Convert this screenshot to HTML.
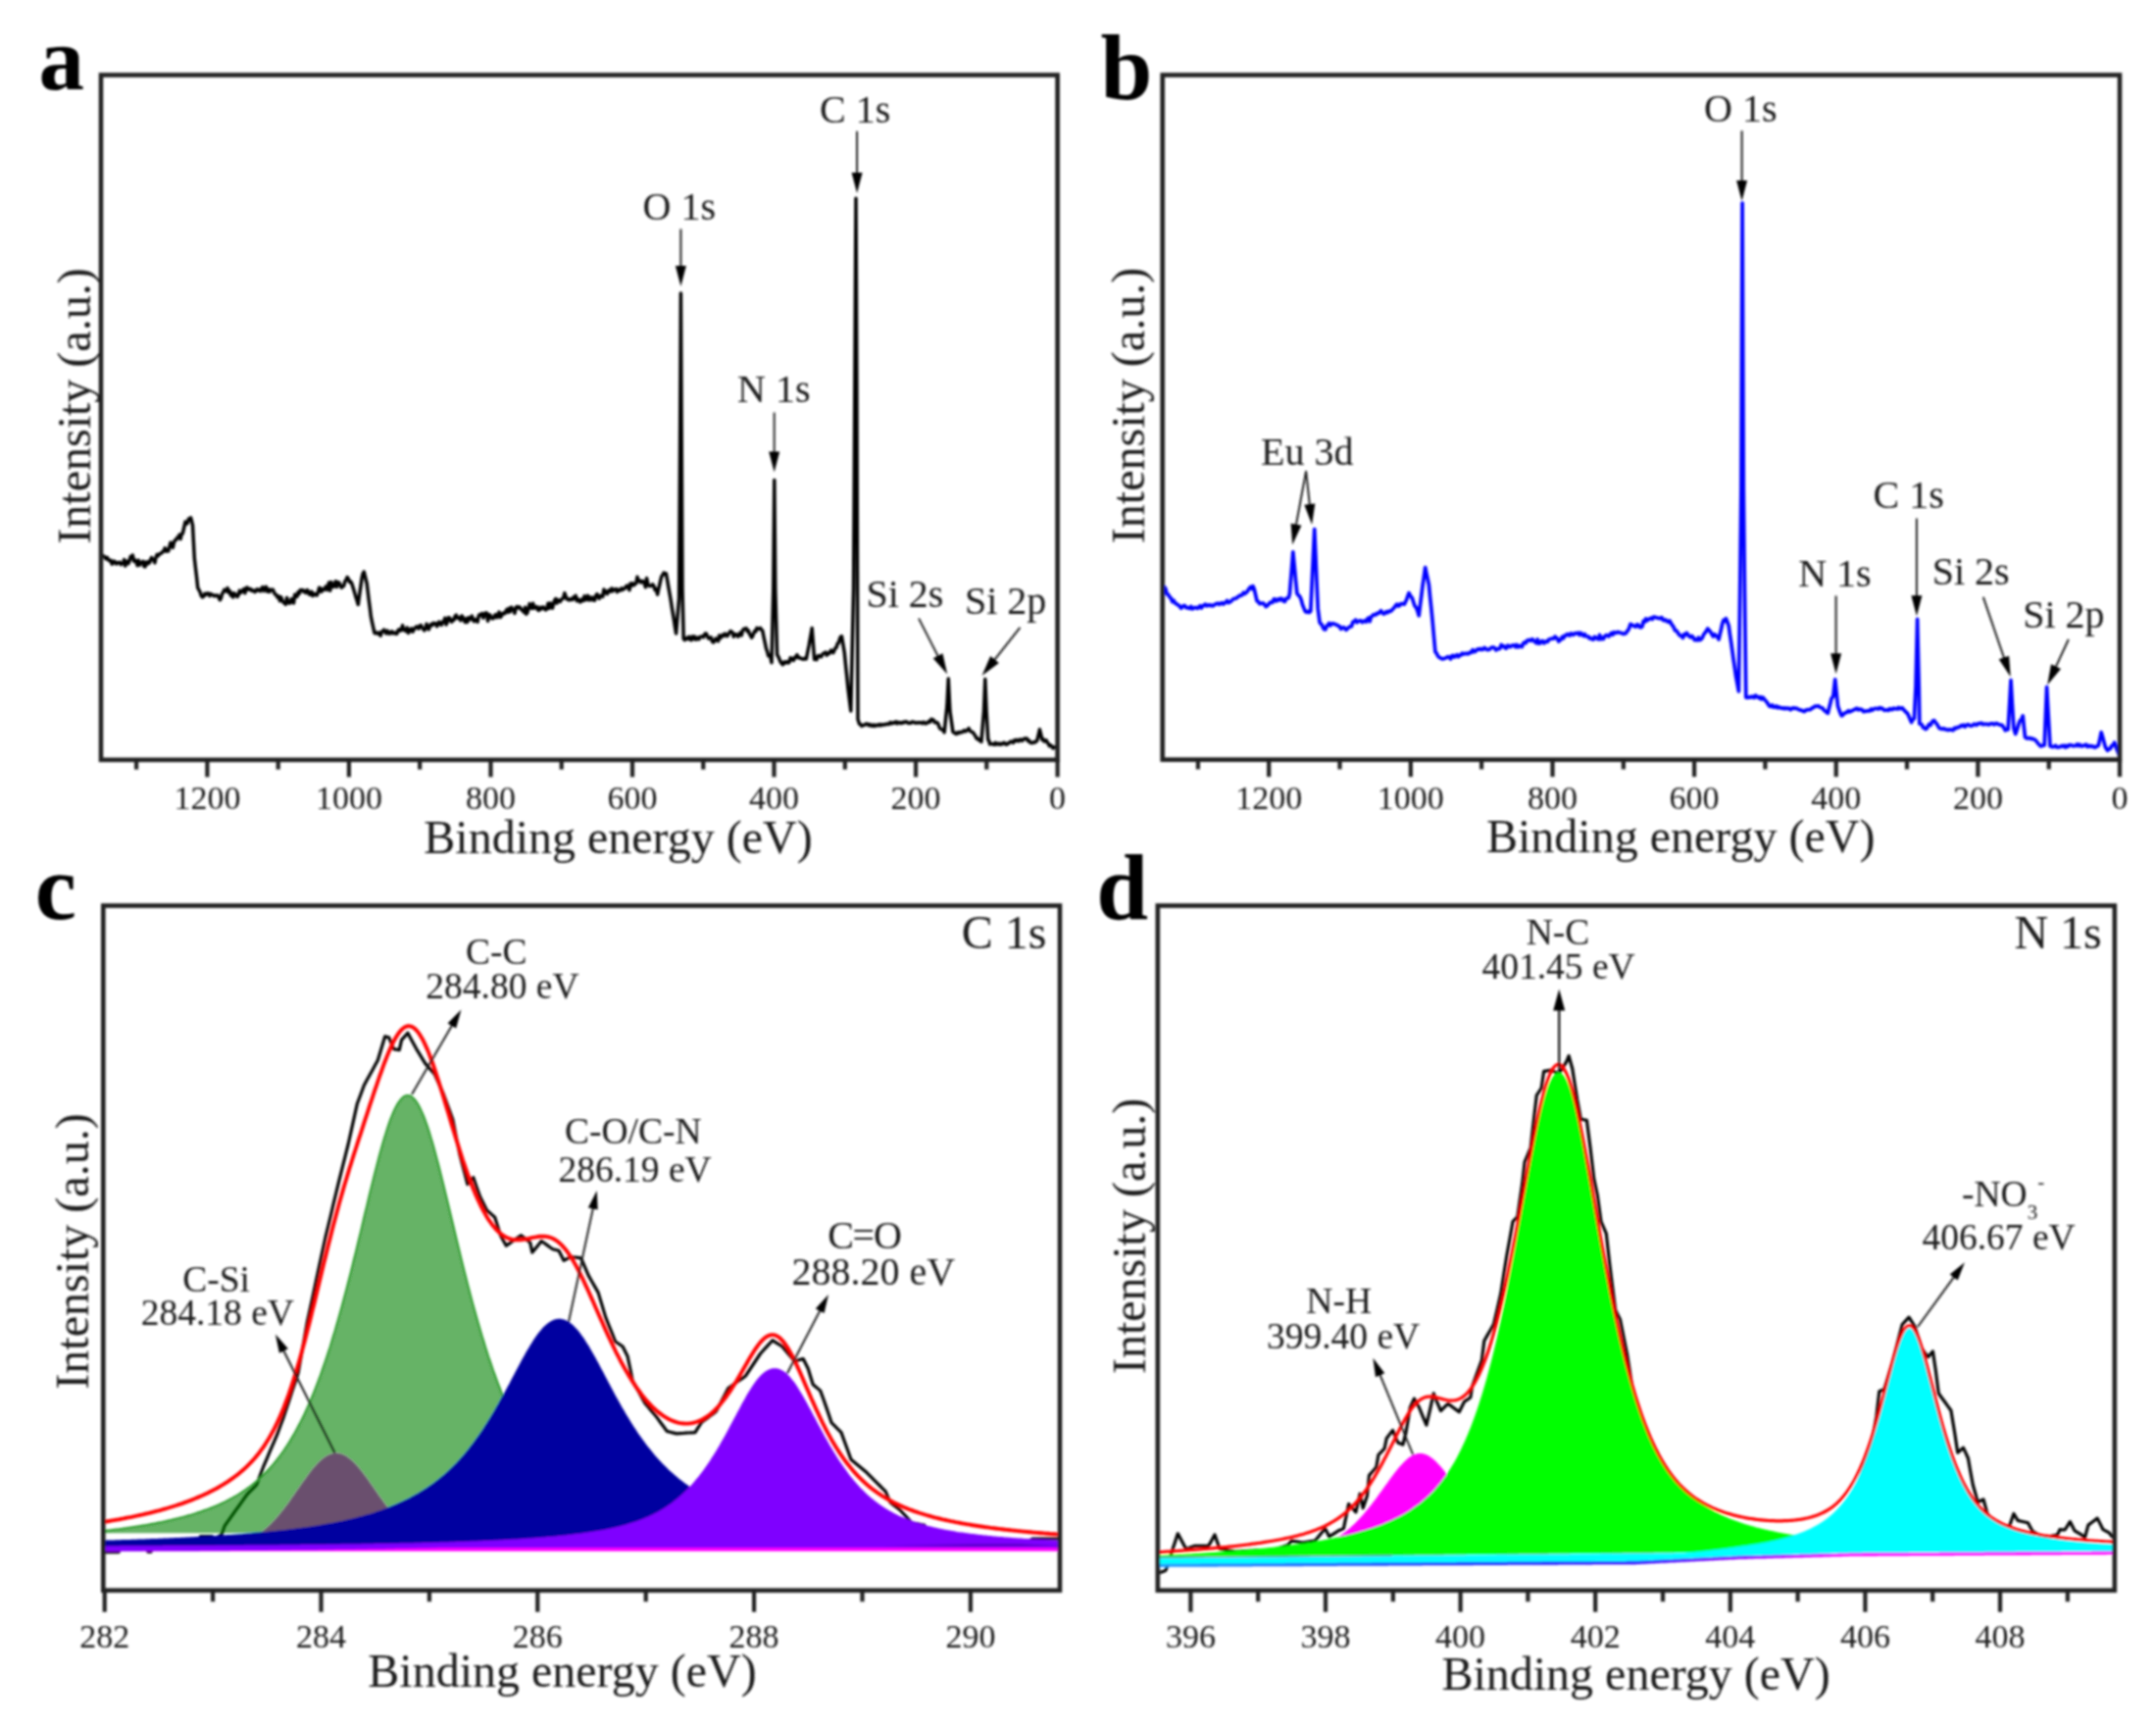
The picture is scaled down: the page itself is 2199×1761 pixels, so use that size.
<!DOCTYPE html><html><head><meta charset="utf-8"><title>XPS spectra</title><style>html,body{margin:0;padding:0;background:#fff}svg{display:block}</style></head><body><svg width="2199" height="1761" viewBox="0 0 2199 1761">
<rect width="2199" height="1761" fill="#fff"/>
<g filter="url(#soft)">
<polyline points="104.0,567.4 105.6,566.8 106.8,568.2 108.1,569.9 109.3,568.3 110.5,570.9 111.8,571.9 113.0,571.3 114.2,575.2 115.3,574.5 116.5,572.2 117.7,573.3 118.8,575.0 120.0,573.6 121.1,573.9 122.3,573.4 123.4,575.6 124.5,574.5 125.6,574.6 126.7,570.6 127.7,577.1 128.8,573.7 129.9,572.4 131.0,574.7 132.1,571.7 133.2,567.5 134.2,568.4 135.3,566.1 136.5,572.2 137.8,571.1 139.0,573.4 140.2,576.6 141.3,571.3 142.4,576.2 143.6,573.8 144.7,573.8 145.8,572.3 146.9,577.6 148.0,577.9 149.1,573.1 150.2,575.2 151.3,572.8 152.4,574.0 153.5,570.9 154.6,568.5 155.7,570.3 156.8,571.3 157.9,573.9 159.0,568.5 160.1,565.5 161.2,566.9 162.4,565.2 163.5,564.4 164.7,564.1 165.8,562.7 167.0,561.8 168.2,558.8 169.3,562.3 170.5,560.6 171.7,562.0 172.8,557.6 174.0,553.2 175.2,555.8 176.3,558.5 177.5,552.9 178.6,550.7 179.8,550.4 180.9,548.0 182.0,548.3 183.1,545.2 184.1,549.6 185.2,544.6 186.3,544.0 187.7,538.0 189.0,532.1 190.1,534.2 191.2,533.5 192.4,529.1 193.5,529.4 194.6,527.9 195.6,531.8 196.5,535.7 197.4,552.4 198.3,569.0 199.4,578.9 200.6,588.8 201.7,599.3 202.8,601.4 204.0,603.5 205.2,607.4 206.4,608.9 207.6,608.3 208.8,605.4 210.1,606.4 211.3,604.9 212.5,604.9 213.8,607.6 215.0,605.6 216.2,606.4 217.3,606.9 218.5,607.8 219.7,607.1 220.8,607.6 222.0,607.1 223.1,609.1 224.3,611.8 225.4,610.0 226.5,605.8 227.7,603.9 228.8,601.4 229.9,601.8 231.0,602.9 232.1,599.6 233.2,604.2 234.3,602.5 235.4,607.2 236.6,605.1 237.7,609.0 238.8,604.9 239.9,605.8 241.0,607.3 242.1,608.5 243.2,606.7 244.3,602.2 245.4,604.5 246.6,603.4 247.7,601.7 248.8,600.5 249.9,604.8 251.0,599.6 252.1,599.0 253.2,601.3 254.3,600.5 255.5,600.4 256.6,602.4 257.7,602.1 258.8,602.1 259.9,603.6 261.1,602.5 262.2,600.8 263.3,602.1 264.5,601.3 265.6,602.8 266.8,600.1 267.9,598.6 269.1,602.6 270.2,599.6 271.4,598.3 272.6,603.2 273.7,600.9 274.9,603.4 276.0,601.3 277.2,601.5 278.4,601.3 279.6,604.3 280.8,606.2 281.9,606.6 283.1,609.2 284.3,608.0 285.5,612.7 286.7,608.9 287.9,612.3 289.0,614.2 290.2,615.0 291.4,616.3 292.6,609.4 293.8,614.3 295.0,615.2 296.1,614.8 297.3,610.7 298.5,613.0 299.6,614.9 300.7,606.2 301.9,608.7 303.0,608.3 304.1,603.7 305.3,605.3 306.4,601.6 307.6,601.9 308.8,601.6 309.9,603.5 311.1,602.7 312.2,604.6 313.4,601.6 314.5,603.0 315.6,606.3 316.7,606.3 317.8,603.3 318.9,607.6 320.0,605.4 321.1,606.5 322.2,605.7 323.3,607.0 324.4,604.0 325.6,599.3 326.7,599.6 327.8,603.4 328.9,600.7 330.0,601.6 331.1,600.7 332.2,598.1 333.4,601.5 334.5,597.1 335.6,594.0 336.7,602.2 337.8,593.4 339.0,598.3 340.1,598.4 341.2,596.1 342.4,592.7 343.6,598.6 344.8,593.7 345.9,594.2 347.1,596.5 348.3,599.2 349.5,598.1 350.7,597.4 351.9,592.7 353.0,591.2 354.2,588.5 355.4,590.2 356.5,593.5 357.6,593.0 358.8,595.0 359.9,598.6 361.0,602.1 362.1,605.7 363.1,609.3 364.2,612.8 365.3,616.4 366.5,607.4 367.8,598.5 369.0,589.9 370.1,585.0 371.2,583.0 372.2,587.0 373.2,591.0 374.2,595.0 375.2,603.4 376.2,611.7 377.3,620.0 378.3,628.4 379.5,634.3 380.8,640.1 382.0,645.5 383.2,645.8 384.5,645.0 385.7,646.3 386.9,645.2 388.2,648.2 389.4,644.0 390.5,643.8 391.6,642.2 392.8,644.5 393.9,646.0 395.0,643.1 396.1,644.6 397.2,646.3 398.4,644.7 399.5,643.9 400.6,645.9 401.7,644.9 402.8,645.2 403.9,646.4 405.0,646.0 406.1,642.5 407.3,641.8 408.4,643.1 409.5,641.9 410.6,637.8 411.7,642.5 412.9,641.8 414.0,643.6 415.2,640.0 416.4,645.5 417.5,641.9 418.7,643.3 419.8,640.9 421.0,644.1 422.2,641.9 423.5,640.1 424.7,639.0 425.8,639.0 427.0,641.1 428.1,638.3 429.3,637.5 430.4,639.7 431.6,641.3 432.8,642.9 433.9,641.2 435.1,636.2 436.2,640.1 437.4,641.8 438.5,638.3 439.7,636.5 440.9,637.6 442.0,635.3 443.2,636.3 444.4,635.7 445.6,638.6 446.7,636.6 447.9,634.0 449.1,636.7 450.3,637.3 451.5,634.0 452.7,634.3 453.8,630.2 455.0,636.9 456.2,634.4 457.3,629.8 458.5,630.0 459.6,632.6 460.7,634.1 461.9,631.7 463.0,632.2 464.1,628.3 465.3,627.2 466.4,630.1 467.5,630.6 468.7,629.7 469.8,632.6 471.0,628.0 472.1,629.3 473.3,632.5 474.4,634.4 475.6,630.7 476.7,634.4 477.9,629.7 479.0,631.8 480.2,630.9 481.3,628.1 482.5,632.2 483.6,633.7 484.8,631.6 485.9,632.0 487.1,634.2 488.2,627.9 489.4,626.5 490.5,627.5 491.7,625.5 492.9,630.1 494.0,627.1 495.2,624.9 496.4,625.1 497.6,633.2 498.8,626.7 499.9,627.1 501.1,630.2 502.3,630.8 503.4,630.3 504.6,627.5 505.7,626.5 506.8,629.7 508.0,627.9 509.1,624.1 510.2,629.5 511.4,628.2 512.5,625.6 513.6,625.1 514.8,625.7 515.9,623.3 517.0,621.4 518.2,624.4 519.3,620.3 520.4,623.7 521.6,619.3 522.7,621.8 523.9,621.5 525.0,625.4 526.2,619.4 527.4,618.5 528.5,620.0 529.7,618.9 530.9,620.0 532.0,622.0 533.2,622.6 534.4,624.4 535.6,619.3 536.7,626.2 537.9,624.8 539.1,620.1 540.2,615.6 541.4,620.1 542.6,620.4 543.7,615.3 544.9,620.1 546.1,619.7 547.3,618.5 548.4,621.6 549.6,622.5 550.8,619.4 552.0,621.0 553.2,619.3 554.4,619.1 555.5,621.0 556.7,622.0 557.9,620.5 559.0,615.4 560.1,620.4 561.2,614.9 562.3,617.5 563.5,620.1 564.6,615.4 565.7,612.0 566.8,610.5 567.9,615.1 569.0,611.7 570.1,612.8 571.3,613.5 572.4,611.4 573.6,610.8 574.7,609.4 575.9,604.8 577.0,608.0 578.2,611.0 579.3,610.7 580.5,611.9 581.6,610.7 582.8,611.2 583.9,611.5 585.0,608.9 586.1,610.2 587.2,607.4 588.4,612.8 589.5,610.9 590.6,611.8 591.7,614.0 592.8,613.1 593.9,610.7 595.0,612.5 596.1,607.8 597.3,611.7 598.4,611.1 599.5,607.4 600.6,611.9 601.8,609.1 603.0,611.7 604.1,609.2 605.3,611.9 606.5,612.3 607.7,607.5 608.9,605.8 610.1,608.5 611.2,610.3 612.4,607.5 613.6,607.5 614.8,608.5 615.9,601.1 617.0,604.9 618.2,602.8 619.4,605.7 620.5,603.0 621.6,601.6 622.8,603.1 623.9,600.0 625.0,602.8 626.2,601.1 627.3,601.5 628.4,600.5 629.5,603.6 630.6,601.2 631.8,602.3 632.9,601.9 634.0,599.9 635.1,601.3 636.3,600.3 637.4,599.8 638.6,597.8 639.7,597.2 640.8,599.2 642.0,601.7 643.1,594.9 644.2,597.2 645.4,594.8 646.5,596.7 647.7,595.5 648.8,595.0 650.0,588.2 651.2,592.8 652.4,592.0 653.6,593.9 654.8,592.6 656.0,592.8 657.2,594.7 658.4,598.7 659.6,589.5 660.8,595.4 662.0,597.4 663.2,597.4 664.4,597.3 665.6,595.8 666.8,597.3 668.0,601.5 669.2,600.6 670.6,606.2 671.6,601.3 672.7,596.5 673.8,591.6 674.8,587.6 675.9,586.4 677.1,584.0 678.2,585.5 679.4,584.8 680.7,591.9 681.9,599.1 683.2,606.2 684.3,612.8 685.3,619.5 686.4,626.1 687.5,632.7 688.5,639.4 689.6,646.0 690.6,634.0 691.6,621.9 692.6,609.9 693.6,450.0 694.4,299.0 695.2,450.0 696.0,600.0 697.2,651.4 698.3,652.6 699.5,651.6 700.6,650.4 701.7,651.5 702.8,649.3 704.0,652.2 705.1,652.7 706.2,649.0 707.4,651.3 708.5,649.1 709.6,652.1 710.7,651.8 711.9,650.0 713.0,651.7 714.1,649.5 715.2,649.0 716.4,649.0 717.5,649.7 718.4,647.4 719.3,646.1 720.5,646.3 721.7,649.5 722.9,651.1 724.1,650.1 725.3,649.9 726.5,654.3 727.7,655.1 728.9,653.4 730.1,651.0 731.3,652.6 732.5,653.7 733.7,647.9 734.9,650.7 736.1,648.7 737.3,647.2 738.5,648.5 739.7,646.2 740.8,647.3 741.8,648.7 742.9,646.8 744.0,645.1 745.1,643.6 746.1,644.2 747.2,644.9 748.3,649.2 749.4,647.1 750.5,646.7 751.6,647.1 752.7,649.2 753.9,647.8 755.1,645.0 756.3,647.9 757.5,642.9 758.7,641.3 759.9,641.5 761.1,640.5 762.2,643.6 763.3,642.9 764.4,646.1 765.5,648.0 766.6,650.1 767.7,648.6 768.8,645.3 769.9,643.3 770.9,643.9 772.0,640.3 773.1,641.3 774.3,641.3 775.5,640.4 776.6,642.1 777.8,643.3 779.0,649.5 780.3,655.6 781.5,661.5 782.6,664.4 783.7,668.8 784.8,668.0 785.9,670.1 787.0,675.7 787.9,637.9 788.8,600.0 789.8,489.6 790.8,600.0 791.7,633.7 792.6,667.6 793.8,669.5 795.0,672.3 796.1,675.0 797.3,676.6 798.4,677.7 799.5,675.0 800.6,676.2 801.7,674.7 802.8,675.0 803.9,676.0 805.0,675.3 806.2,670.8 807.3,671.4 808.4,672.9 809.5,673.4 810.6,670.2 811.8,670.2 812.9,667.7 814.0,670.7 815.2,670.3 816.4,671.3 817.6,671.4 818.7,672.2 819.9,672.1 821.1,671.1 822.3,672.0 823.7,665.0 825.1,658.1 826.1,652.2 827.2,646.4 828.2,640.5 829.4,656.2 830.6,672.4 831.8,671.4 832.9,672.6 834.1,668.8 835.2,668.4 836.4,669.6 837.6,669.8 838.7,667.4 839.9,666.1 841.0,665.9 842.1,665.0 843.2,668.2 844.3,666.3 845.5,666.5 846.6,664.7 847.7,663.0 848.8,665.2 849.9,665.6 851.0,663.0 852.1,660.7 853.1,660.4 854.2,656.2 855.3,655.9 856.4,651.7 857.4,649.3 858.5,648.8 859.9,657.1 861.3,665.5 862.5,677.9 863.8,690.2 865.0,702.6 866.4,713.8 867.8,724.9 869.2,662.5 870.6,600.0 871.8,400.0 873.0,202.2 873.9,400.0 875.0,733.5 876.5,738.2 877.7,738.7 878.8,740.3 880.0,739.4 881.2,739.5 882.4,738.7 883.5,738.1 884.7,738.2 885.9,739.7 887.1,738.5 888.2,740.1 889.4,740.3 890.6,739.1 891.8,740.4 892.9,739.4 894.1,740.0 895.3,739.0 896.5,739.8 897.6,738.5 898.8,739.6 900.0,739.0 901.2,738.8 902.3,739.1 903.5,738.5 904.6,738.1 905.8,738.5 907.0,738.3 908.1,736.5 909.3,737.7 910.4,737.5 911.6,736.6 912.8,737.1 913.9,735.9 915.1,737.8 916.2,736.6 917.4,736.7 918.6,737.6 919.7,736.7 920.9,737.2 922.0,736.1 923.2,736.4 924.4,735.8 925.5,736.7 926.7,737.5 927.8,737.0 929.0,737.4 930.2,736.1 931.3,736.2 932.5,736.5 933.6,737.2 934.8,737.0 936.0,736.8 937.1,737.2 938.3,736.7 939.4,736.8 940.6,737.7 941.8,736.4 942.9,736.9 944.1,737.9 945.2,736.9 946.4,737.0 947.6,735.4 948.7,736.2 949.9,733.3 951.1,733.7 952.2,734.3 953.4,736.8 954.5,736.5 955.7,736.7 956.8,738.0 958.0,741.3 959.1,743.2 960.1,743.6 961.2,743.9 962.2,745.1 963.2,746.7 964.5,733.4 965.9,720.0 967.3,692.0 968.9,725.0 969.9,732.0 970.9,739.1 971.9,746.2 973.1,747.1 974.2,747.7 975.4,748.4 976.6,746.8 977.7,747.6 978.9,746.5 980.0,746.8 981.2,746.7 982.4,745.5 983.5,744.9 984.7,745.9 985.8,745.0 987.0,744.2 988.1,742.7 989.3,745.2 990.5,746.1 991.6,746.4 992.8,747.4 993.9,749.1 995.1,751.0 996.2,753.3 997.4,753.1 998.5,754.7 999.7,755.0 1000.9,756.5 1002.2,740.8 1003.5,725.0 1004.8,692.6 1006.1,725.0 1007.8,754.3 1008.7,755.4 1009.6,758.9 1010.7,758.4 1011.9,758.5 1013.0,759.0 1014.1,759.3 1015.2,757.3 1016.4,759.1 1017.5,758.7 1018.6,758.0 1019.7,759.2 1020.8,758.2 1022.0,758.9 1023.1,757.6 1024.2,757.3 1025.3,758.7 1026.5,759.3 1027.6,757.9 1028.8,758.1 1029.9,756.9 1031.1,756.0 1032.2,756.5 1033.4,757.5 1034.5,754.9 1035.7,755.6 1036.8,754.3 1038.0,755.5 1039.2,755.7 1040.3,754.0 1041.5,754.3 1042.6,755.3 1043.8,754.1 1044.9,753.0 1046.1,753.2 1047.3,752.9 1048.4,755.5 1049.6,755.1 1050.8,757.1 1051.9,757.6 1053.1,757.5 1054.2,756.8 1055.4,757.1 1056.5,756.1 1057.7,755.4 1059.1,749.6 1060.4,743.8 1061.7,749.0 1062.9,754.3 1063.9,753.6 1065.0,756.0 1066.0,755.3 1067.1,754.9 1068.1,756.9 1069.3,758.4 1070.4,760.6 1071.6,759.9 1072.8,760.8 1074.0,763.0 1075.1,761.9 1076.2,761.8 1077.4,762.3" fill="none" stroke="#050505" stroke-width="3.5" stroke-linejoin="round" stroke-linecap="round" />
<rect x="103" y="76.5" width="975.5999999999999" height="698.3" fill="none" stroke="#202020" stroke-width="4.6"/>
<line x1="1078.6" y1="774.8" x2="1078.6" y2="792.3" stroke="#202020" stroke-width="4.2"/>
<line x1="934.1" y1="774.8" x2="934.1" y2="792.3" stroke="#202020" stroke-width="4.2"/>
<line x1="789.5" y1="774.8" x2="789.5" y2="792.3" stroke="#202020" stroke-width="4.2"/>
<line x1="645.0" y1="774.8" x2="645.0" y2="792.3" stroke="#202020" stroke-width="4.2"/>
<line x1="500.5" y1="774.8" x2="500.5" y2="792.3" stroke="#202020" stroke-width="4.2"/>
<line x1="355.9" y1="774.8" x2="355.9" y2="792.3" stroke="#202020" stroke-width="4.2"/>
<line x1="211.4" y1="774.8" x2="211.4" y2="792.3" stroke="#202020" stroke-width="4.2"/>
<line x1="1006.3" y1="774.8" x2="1006.3" y2="784.5999999999999" stroke="#202020" stroke-width="4.2"/>
<line x1="861.8" y1="774.8" x2="861.8" y2="784.5999999999999" stroke="#202020" stroke-width="4.2"/>
<line x1="717.3" y1="774.8" x2="717.3" y2="784.5999999999999" stroke="#202020" stroke-width="4.2"/>
<line x1="572.7" y1="774.8" x2="572.7" y2="784.5999999999999" stroke="#202020" stroke-width="4.2"/>
<line x1="428.2" y1="774.8" x2="428.2" y2="784.5999999999999" stroke="#202020" stroke-width="4.2"/>
<line x1="283.7" y1="774.8" x2="283.7" y2="784.5999999999999" stroke="#202020" stroke-width="4.2"/>
<line x1="139.1" y1="774.8" x2="139.1" y2="784.5999999999999" stroke="#202020" stroke-width="4.2"/>
<text x="1078.6" y="825.3" font-family="'Liberation Serif','Times New Roman',serif" font-size="34" font-weight="normal" text-anchor="middle" fill="#1c1c1c" >0</text>
<text x="934.1" y="825.3" font-family="'Liberation Serif','Times New Roman',serif" font-size="34" font-weight="normal" text-anchor="middle" fill="#1c1c1c" >200</text>
<text x="789.5" y="825.3" font-family="'Liberation Serif','Times New Roman',serif" font-size="34" font-weight="normal" text-anchor="middle" fill="#1c1c1c" >400</text>
<text x="645.0" y="825.3" font-family="'Liberation Serif','Times New Roman',serif" font-size="34" font-weight="normal" text-anchor="middle" fill="#1c1c1c" >600</text>
<text x="500.5" y="825.3" font-family="'Liberation Serif','Times New Roman',serif" font-size="34" font-weight="normal" text-anchor="middle" fill="#1c1c1c" >800</text>
<text x="355.9" y="825.3" font-family="'Liberation Serif','Times New Roman',serif" font-size="34" font-weight="normal" text-anchor="middle" fill="#1c1c1c" >1000</text>
<text x="211.4" y="825.3" font-family="'Liberation Serif','Times New Roman',serif" font-size="34" font-weight="normal" text-anchor="middle" fill="#1c1c1c" >1200</text>
<text x="630.5" y="869.6" font-family="'Liberation Serif','Times New Roman',serif" font-size="48" font-weight="normal" text-anchor="middle" fill="#1c1c1c" >Binding energy (eV)</text>
<text transform="translate(91.5,414.0) rotate(-90)" font-family="'Liberation Serif','Times New Roman',serif" font-size="48" text-anchor="middle" fill="#1c1c1c">Intensity (a.u.)</text>
<text x="39.5" y="90.5" font-family="'Liberation Serif','Times New Roman',serif" font-size="93" font-weight="bold" text-anchor="start" fill="#000" >a</text>
<text x="836.0" y="124.5" font-family="'Liberation Serif','Times New Roman',serif" font-size="40" font-weight="normal" text-anchor="start" fill="#1c1c1c" >C 1s</text>
<text x="655.5" y="224.2" font-family="'Liberation Serif','Times New Roman',serif" font-size="40" font-weight="normal" text-anchor="start" fill="#1c1c1c" >O 1s</text>
<text x="752.0" y="409.7" font-family="'Liberation Serif','Times New Roman',serif" font-size="40" font-weight="normal" text-anchor="start" fill="#1c1c1c" >N 1s</text>
<text x="883.5" y="618.5" font-family="'Liberation Serif','Times New Roman',serif" font-size="40" font-weight="normal" text-anchor="start" fill="#1c1c1c" >Si 2s</text>
<text x="984.0" y="625.6" font-family="'Liberation Serif','Times New Roman',serif" font-size="40" font-weight="normal" text-anchor="start" fill="#1c1c1c" >Si 2p</text>
<line x1="874.1" y1="133.8" x2="874.1" y2="178.0" stroke="#1a1a1a" stroke-width="1.9"/>
<polygon points="874.1,197.0 868.6,176.0 879.6,176.0" fill="#000"/>
<line x1="694.4" y1="233.5" x2="694.4" y2="273.0" stroke="#1a1a1a" stroke-width="1.9"/>
<polygon points="694.4,292.0 688.9,271.0 699.9,271.0" fill="#000"/>
<line x1="789.7" y1="420.6" x2="789.7" y2="462.5" stroke="#1a1a1a" stroke-width="1.9"/>
<polygon points="789.7,481.5 784.2,460.5 795.2,460.5" fill="#000"/>
<line x1="937.1" y1="630.6" x2="957.5" y2="670.6" stroke="#1a1a1a" stroke-width="1.9"/>
<polygon points="966.2,687.5 951.7,671.3 961.5,666.3" fill="#000"/>
<line x1="1040.4" y1="639.9" x2="1013.3" y2="674.1" stroke="#1a1a1a" stroke-width="1.9"/>
<polygon points="1001.5,689.0 1010.2,669.1 1018.9,676.0" fill="#000"/>
<polyline points="1187.4,598.5 1188.8,600.3 1190.2,605.9 1191.6,606.3 1193.0,608.9 1194.3,609.8 1195.7,613.5 1197.0,612.1 1198.3,614.8 1199.6,615.5 1201.0,616.7 1202.3,617.2 1203.5,618.7 1204.8,620.2 1206.0,618.5 1207.2,617.7 1208.5,617.6 1209.7,619.7 1210.9,619.5 1212.2,620.0 1213.4,620.4 1214.7,618.4 1216.1,620.9 1217.4,620.1 1218.7,619.5 1220.0,619.7 1221.4,620.3 1222.7,619.1 1224.0,617.8 1225.4,620.0 1226.7,617.9 1228.0,617.3 1229.3,616.1 1230.7,617.8 1232.0,617.1 1233.3,616.8 1234.6,617.7 1235.9,617.0 1237.2,617.9 1238.5,616.9 1239.8,615.8 1241.1,615.7 1242.4,615.2 1243.8,616.4 1245.1,615.4 1246.4,614.7 1247.7,616.0 1249.0,614.9 1250.3,614.0 1251.6,612.5 1252.9,614.6 1254.2,614.0 1255.5,613.2 1256.9,611.8 1258.2,610.5 1259.5,610.4 1260.8,610.2 1262.2,608.9 1263.5,608.2 1264.7,607.0 1266.0,607.2 1267.2,606.3 1268.4,604.3 1269.7,605.4 1270.9,604.1 1272.1,603.5 1273.2,601.2 1274.3,599.9 1275.5,598.4 1276.8,600.5 1278.0,597.7 1279.3,600.9 1280.7,607.0 1282.0,612.8 1283.3,613.4 1284.7,615.6 1286.0,615.4 1287.3,615.0 1288.6,615.2 1290.0,616.8 1291.3,618.6 1292.6,617.5 1294.0,616.1 1295.3,614.5 1296.6,614.0 1297.9,614.4 1299.3,610.8 1300.6,611.1 1301.8,613.0 1303.1,611.8 1304.3,610.6 1305.5,611.9 1306.8,610.2 1308.0,611.1 1309.2,613.0 1310.5,613.4 1311.7,610.3 1312.9,610.1 1314.2,609.7 1315.4,605.5 1316.5,591.3 1317.7,577.1 1318.8,562.9 1320.2,577.1 1321.5,591.3 1322.9,605.2 1324.2,606.8 1325.6,608.1 1327.0,611.0 1328.4,616.3 1329.8,619.9 1331.2,623.2 1332.6,624.3 1334.0,623.4 1335.4,624.5 1336.8,623.2 1338.1,595.4 1339.4,567.5 1340.7,539.7 1341.9,566.6 1343.0,593.5 1344.2,620.4 1346.0,634.4 1347.2,636.3 1348.3,637.1 1349.5,640.2 1350.7,641.8 1351.9,642.0 1353.2,638.1 1354.4,637.5 1355.6,635.5 1356.9,637.8 1358.1,636.1 1359.5,635.8 1360.8,636.2 1362.2,636.9 1363.5,637.0 1364.9,638.3 1366.2,638.6 1367.6,641.3 1368.9,640.6 1370.3,639.7 1371.6,640.5 1373.0,642.3 1374.4,641.0 1375.8,639.6 1377.2,638.9 1378.5,638.7 1379.9,634.1 1381.3,633.9 1382.6,632.1 1384.0,634.7 1385.3,633.5 1386.7,633.1 1388.0,632.9 1389.4,634.5 1390.7,633.4 1392.1,632.9 1393.4,634.0 1394.6,631.2 1395.9,630.0 1397.1,633.7 1398.3,629.2 1399.6,628.1 1400.8,626.9 1402.0,626.7 1403.3,626.9 1404.5,625.4 1405.8,625.5 1407.2,624.3 1408.5,622.7 1409.9,624.7 1411.2,626.0 1412.6,625.3 1413.9,623.7 1415.3,624.7 1416.6,623.1 1418.0,623.3 1419.3,622.6 1420.7,620.9 1422.1,619.6 1423.5,617.4 1424.9,616.1 1426.1,618.1 1427.4,617.6 1428.6,615.8 1429.8,615.5 1431.1,615.8 1432.3,616.2 1433.5,613.7 1434.7,611.2 1435.8,607.8 1437.0,604.7 1438.2,606.9 1439.3,608.6 1440.4,610.0 1441.6,613.8 1443.0,618.0 1444.4,619.3 1445.8,623.0 1447.2,627.8 1448.4,617.9 1449.7,608.0 1450.9,598.1 1452.3,588.4 1453.7,578.6 1454.9,584.5 1456.2,590.4 1457.4,596.3 1458.6,608.7 1459.9,621.0 1461.1,633.4 1462.5,649.1 1463.9,664.6 1465.3,666.3 1466.7,669.2 1468.0,670.3 1469.4,671.0 1470.6,671.8 1471.9,671.8 1473.1,671.4 1474.3,671.0 1475.6,670.4 1476.8,669.7 1478.1,670.0 1479.5,672.0 1480.8,668.8 1482.1,668.4 1483.4,670.0 1484.8,668.6 1486.1,667.6 1487.4,669.7 1488.8,668.2 1490.1,668.1 1491.4,666.1 1492.7,667.1 1494.1,666.6 1495.4,666.2 1496.7,666.8 1498.1,666.5 1499.4,665.0 1500.8,665.3 1502.1,662.7 1503.5,664.6 1504.8,664.3 1506.2,662.6 1507.5,661.8 1508.9,662.4 1510.2,661.5 1511.5,662.3 1512.8,662.1 1514.1,660.5 1515.4,661.5 1516.8,662.6 1518.1,662.4 1519.4,662.2 1520.7,660.6 1522.0,660.2 1523.3,660.0 1524.6,661.0 1525.9,662.9 1527.3,661.6 1528.6,661.7 1529.9,661.2 1531.2,657.5 1532.5,659.2 1533.8,658.7 1535.1,660.7 1536.5,661.1 1537.8,658.2 1539.1,659.0 1540.4,659.6 1541.8,658.3 1543.1,658.0 1544.4,657.9 1545.7,659.7 1547.0,657.5 1548.4,659.9 1549.7,658.6 1551.0,658.8 1552.3,659.5 1553.7,656.0 1555.0,655.0 1556.3,655.7 1557.6,653.2 1559.0,652.7 1560.3,652.7 1561.6,653.3 1562.9,651.8 1564.3,653.1 1565.6,654.6 1566.9,655.7 1568.2,652.0 1569.5,656.2 1570.8,656.0 1572.2,653.9 1573.5,653.7 1574.8,655.9 1576.0,654.4 1577.3,654.2 1578.5,654.3 1579.8,652.0 1581.0,651.8 1582.3,651.3 1583.5,651.0 1584.8,651.2 1586.0,649.1 1587.2,650.2 1588.5,651.2 1589.7,654.1 1590.9,653.0 1592.2,651.9 1593.4,649.3 1594.6,650.8 1595.9,648.2 1597.1,648.1 1598.4,646.6 1599.7,647.4 1601.0,648.0 1602.2,646.0 1603.5,646.5 1604.8,647.4 1606.1,645.8 1607.4,645.7 1608.7,646.1 1609.9,645.2 1611.2,647.5 1612.5,645.5 1613.8,646.9 1615.0,648.4 1616.3,646.6 1617.5,648.8 1618.7,649.0 1620.0,649.0 1621.2,650.9 1622.5,650.7 1623.8,651.8 1625.1,652.1 1626.4,649.4 1627.7,650.2 1629.0,651.2 1630.3,651.9 1631.6,647.5 1632.9,651.8 1634.2,650.1 1635.5,651.5 1636.9,648.6 1638.2,647.6 1639.5,648.1 1640.8,649.0 1642.2,647.1 1643.5,645.4 1644.8,647.3 1646.2,644.6 1647.5,645.3 1648.9,645.1 1650.2,644.3 1651.6,645.0 1652.9,645.3 1654.3,645.8 1655.6,646.4 1657.0,646.1 1658.3,645.8 1659.5,643.7 1660.7,642.6 1661.8,640.0 1663.0,636.4 1664.3,637.2 1665.7,637.8 1667.0,638.5 1668.3,639.1 1669.7,636.9 1671.0,637.2 1672.3,639.5 1673.7,639.8 1675.0,638.8 1676.2,633.4 1677.5,634.1 1678.7,630.9 1680.0,632.8 1681.4,631.5 1682.7,631.0 1684.0,630.2 1685.3,631.4 1686.7,629.0 1688.0,629.3 1689.4,629.9 1690.7,630.1 1692.1,630.6 1693.4,630.6 1694.8,629.6 1696.1,632.2 1697.5,632.6 1698.8,632.0 1700.2,633.5 1701.5,634.2 1702.9,632.9 1704.3,635.6 1705.7,637.6 1707.0,639.3 1708.4,642.9 1709.8,643.1 1711.2,645.0 1712.6,647.2 1714.0,648.5 1715.2,648.4 1716.5,650.4 1717.7,646.8 1718.9,647.4 1720.2,645.4 1721.4,646.7 1722.8,648.8 1724.2,649.8 1725.6,648.5 1727.0,649.8 1728.4,652.6 1729.8,652.0 1731.1,652.8 1732.4,650.1 1733.7,652.6 1735.0,651.8 1736.3,650.4 1737.7,646.9 1739.0,645.4 1740.4,643.4 1741.8,641.0 1743.2,642.6 1744.6,644.3 1746.0,646.7 1747.4,649.0 1748.8,646.8 1750.2,648.5 1751.6,649.2 1753.0,652.0 1754.2,646.8 1755.5,641.5 1756.7,636.0 1757.9,632.3 1759.2,633.2 1760.4,630.7 1761.8,634.1 1763.2,638.1 1764.4,646.8 1765.7,655.4 1766.9,664.1 1768.1,672.7 1769.4,681.4 1770.6,690.0 1772.0,697.5 1773.4,704.9 1774.7,602.5 1775.9,500.0 1777.1,207.0 1778.3,500.0 1779.5,605.7 1780.8,711.2 1782.0,711.3 1783.3,711.2 1784.5,711.1 1785.7,710.4 1787.0,711.0 1788.2,710.1 1789.4,711.4 1790.7,709.1 1791.9,710.7 1793.1,710.6 1794.4,712.0 1795.6,710.8 1796.8,713.0 1798.1,711.2 1799.3,712.8 1800.7,714.4 1802.1,716.0 1803.5,718.1 1804.9,720.2 1806.2,720.5 1807.6,718.9 1808.9,721.2 1810.3,720.9 1811.6,720.0 1813.0,721.7 1814.3,720.8 1815.7,721.8 1817.0,722.1 1818.4,721.9 1819.7,722.7 1821.0,721.9 1822.3,722.6 1823.6,722.2 1824.9,722.4 1826.2,723.7 1827.5,722.6 1828.8,721.8 1830.1,722.4 1831.4,722.0 1832.7,722.5 1834.0,723.2 1835.3,723.7 1836.6,724.2 1837.9,724.4 1839.2,725.4 1840.5,725.5 1841.8,724.0 1843.2,723.9 1844.5,723.5 1845.8,723.7 1847.1,723.1 1848.4,721.6 1849.7,721.6 1851.0,720.2 1852.4,720.1 1853.7,720.2 1855.0,719.9 1856.3,721.3 1857.7,721.7 1859.0,722.1 1860.3,724.2 1861.6,725.0 1863.0,726.4 1864.3,727.2 1865.5,722.2 1866.8,717.3 1868.0,712.3 1869.8,710.0 1871.7,692.8 1873.1,706.2 1874.5,719.9 1875.7,723.5 1877.0,727.0 1878.2,729.8 1879.3,729.6 1880.5,727.7 1881.7,727.2 1882.8,726.6 1884.0,726.0 1885.3,724.7 1886.5,725.9 1887.8,725.2 1889.0,724.8 1890.3,723.9 1891.5,723.5 1892.8,722.8 1894.0,722.3 1895.3,723.8 1896.6,723.1 1897.9,723.4 1899.3,723.8 1900.6,725.6 1901.9,725.4 1903.2,725.2 1904.5,724.9 1905.7,724.9 1907.0,724.8 1908.3,723.0 1909.5,724.2 1910.8,723.2 1912.0,722.5 1913.3,722.4 1914.6,722.7 1915.8,723.0 1917.1,721.6 1918.4,722.5 1919.7,722.2 1921.0,723.6 1922.3,724.3 1923.6,724.0 1924.9,723.9 1926.2,724.4 1927.5,722.7 1928.7,723.3 1930.0,723.7 1931.3,722.1 1932.6,722.7 1933.9,722.7 1935.2,723.0 1936.4,721.5 1937.7,722.7 1939.0,722.0 1940.3,721.9 1941.5,723.7 1942.7,724.6 1943.8,726.1 1945.0,726.8 1946.2,728.7 1947.3,731.2 1948.4,733.9 1949.6,736.6 1951.0,733.5 1952.4,732.7 1954.0,700.0 1955.6,631.3 1957.2,700.0 1957.8,737.9 1959.0,738.2 1960.3,739.1 1961.5,742.0 1962.8,742.2 1964.0,743.6 1965.3,742.7 1966.5,740.2 1967.8,738.4 1969.0,739.5 1970.3,736.7 1971.5,735.1 1972.8,734.7 1974.1,736.6 1975.4,738.1 1976.7,740.4 1978.0,742.6 1979.3,742.8 1980.5,743.4 1981.8,742.9 1983.1,743.1 1984.3,743.9 1985.6,743.9 1986.9,744.5 1988.2,743.9 1989.4,744.2 1990.7,744.1 1992.1,744.7 1993.4,742.4 1994.8,742.8 1996.2,741.5 1997.5,741.7 1998.9,741.1 2000.2,739.7 2001.5,740.4 2002.8,739.3 2004.2,741.0 2005.5,739.7 2006.8,738.8 2008.1,739.1 2009.4,740.1 2010.7,740.1 2012.0,739.7 2013.3,738.3 2014.7,738.5 2016.0,739.4 2017.3,737.8 2018.6,737.9 2019.9,737.4 2021.1,737.3 2022.4,738.7 2023.7,738.4 2024.9,738.3 2026.2,738.3 2027.4,738.6 2028.7,738.9 2030.0,738.0 2031.2,737.8 2032.5,737.8 2033.8,738.8 2035.2,738.0 2036.5,737.6 2037.8,738.5 2039.1,738.8 2040.5,739.4 2041.8,739.3 2042.9,740.6 2044.1,742.5 2045.2,744.8 2046.7,743.6 2048.1,743.8 2049.6,718.6 2051.0,693.5 2052.4,718.0 2053.9,742.6 2055.7,748.4 2056.9,745.2 2058.0,741.5 2059.2,737.6 2060.5,734.6 2061.9,733.4 2063.2,729.9 2064.3,740.9 2065.5,751.7 2066.7,752.6 2068.0,752.9 2069.2,752.6 2070.4,752.5 2071.7,753.5 2072.9,753.1 2074.2,753.8 2075.4,754.2 2076.8,755.5 2078.3,757.6 2079.8,759.3 2081.2,760.9 2082.5,760.7 2083.9,760.0 2085.2,760.0 2086.4,730.2 2087.6,700.5 2088.7,720.7 2089.9,741.0 2091.0,760.8 2092.4,761.2 2093.9,761.6 2095.2,761.2 2096.5,760.3 2097.8,761.9 2099.1,761.8 2100.4,761.6 2101.7,761.4 2103.0,760.3 2104.3,761.1 2105.6,760.3 2106.9,762.1 2108.2,760.4 2109.5,761.0 2110.8,759.6 2112.0,759.8 2113.3,760.1 2114.6,760.7 2115.9,760.5 2117.2,760.3 2118.5,758.9 2119.8,760.6 2121.1,759.3 2122.4,760.7 2123.7,760.8 2125.0,760.1 2126.3,760.1 2127.6,759.1 2128.9,761.4 2130.2,760.4 2131.5,761.2 2132.9,760.5 2134.2,761.4 2135.5,761.2 2136.8,762.2 2138.0,761.5 2139.1,760.9 2140.3,760.0 2141.8,753.4 2143.2,746.7 2144.6,751.5 2145.9,756.4 2147.3,761.5 2148.4,763.5 2149.6,765.3 2151.0,763.7 2152.4,763.4 2153.8,760.4 2155.2,759.9 2156.6,757.2 2157.8,760.1 2158.9,763.7 2160.0,766.3 2161.2,769.3" fill="none" stroke="#0000ff" stroke-width="3.7" stroke-linejoin="round" stroke-linecap="round" />
<rect x="1185.7" y="76.5" width="976.3" height="698.1" fill="none" stroke="#202020" stroke-width="4.6"/>
<line x1="2162.0" y1="774.6" x2="2162.0" y2="792.1" stroke="#202020" stroke-width="4.2"/>
<line x1="2017.4" y1="774.6" x2="2017.4" y2="792.1" stroke="#202020" stroke-width="4.2"/>
<line x1="1872.7" y1="774.6" x2="1872.7" y2="792.1" stroke="#202020" stroke-width="4.2"/>
<line x1="1728.1" y1="774.6" x2="1728.1" y2="792.1" stroke="#202020" stroke-width="4.2"/>
<line x1="1583.5" y1="774.6" x2="1583.5" y2="792.1" stroke="#202020" stroke-width="4.2"/>
<line x1="1438.8" y1="774.6" x2="1438.8" y2="792.1" stroke="#202020" stroke-width="4.2"/>
<line x1="1294.2" y1="774.6" x2="1294.2" y2="792.1" stroke="#202020" stroke-width="4.2"/>
<line x1="2089.7" y1="774.6" x2="2089.7" y2="784.4" stroke="#202020" stroke-width="4.2"/>
<line x1="1945.0" y1="774.6" x2="1945.0" y2="784.4" stroke="#202020" stroke-width="4.2"/>
<line x1="1800.4" y1="774.6" x2="1800.4" y2="784.4" stroke="#202020" stroke-width="4.2"/>
<line x1="1655.8" y1="774.6" x2="1655.8" y2="784.4" stroke="#202020" stroke-width="4.2"/>
<line x1="1511.1" y1="774.6" x2="1511.1" y2="784.4" stroke="#202020" stroke-width="4.2"/>
<line x1="1366.5" y1="774.6" x2="1366.5" y2="784.4" stroke="#202020" stroke-width="4.2"/>
<line x1="1221.9" y1="774.6" x2="1221.9" y2="784.4" stroke="#202020" stroke-width="4.2"/>
<text x="2162.0" y="825.0" font-family="'Liberation Serif','Times New Roman',serif" font-size="34" font-weight="normal" text-anchor="middle" fill="#1c1c1c" >0</text>
<text x="2017.4" y="825.0" font-family="'Liberation Serif','Times New Roman',serif" font-size="34" font-weight="normal" text-anchor="middle" fill="#1c1c1c" >200</text>
<text x="1872.7" y="825.0" font-family="'Liberation Serif','Times New Roman',serif" font-size="34" font-weight="normal" text-anchor="middle" fill="#1c1c1c" >400</text>
<text x="1728.1" y="825.0" font-family="'Liberation Serif','Times New Roman',serif" font-size="34" font-weight="normal" text-anchor="middle" fill="#1c1c1c" >600</text>
<text x="1583.5" y="825.0" font-family="'Liberation Serif','Times New Roman',serif" font-size="34" font-weight="normal" text-anchor="middle" fill="#1c1c1c" >800</text>
<text x="1438.8" y="825.0" font-family="'Liberation Serif','Times New Roman',serif" font-size="34" font-weight="normal" text-anchor="middle" fill="#1c1c1c" >1000</text>
<text x="1294.2" y="825.0" font-family="'Liberation Serif','Times New Roman',serif" font-size="34" font-weight="normal" text-anchor="middle" fill="#1c1c1c" >1200</text>
<text x="1714.2" y="869.2" font-family="'Liberation Serif','Times New Roman',serif" font-size="48" font-weight="normal" text-anchor="middle" fill="#1c1c1c" >Binding energy (eV)</text>
<text transform="translate(1167.3,413.5) rotate(-90)" font-family="'Liberation Serif','Times New Roman',serif" font-size="48" text-anchor="middle" fill="#1c1c1c">Intensity (a.u.)</text>
<text x="1122.5" y="101.0" font-family="'Liberation Serif','Times New Roman',serif" font-size="95" font-weight="bold" text-anchor="start" fill="#000" >b</text>
<text x="1738.0" y="124.3" font-family="'Liberation Serif','Times New Roman',serif" font-size="40" font-weight="normal" text-anchor="start" fill="#1c1c1c" >O 1s</text>
<text x="1286.0" y="473.8" font-family="'Liberation Serif','Times New Roman',serif" font-size="40" font-weight="normal" text-anchor="start" fill="#1c1c1c" >Eu 3d</text>
<text x="1834.2" y="598.2" font-family="'Liberation Serif','Times New Roman',serif" font-size="40" font-weight="normal" text-anchor="start" fill="#1c1c1c" >N 1s</text>
<text x="1910.6" y="518.4" font-family="'Liberation Serif','Times New Roman',serif" font-size="40" font-weight="normal" text-anchor="start" fill="#1c1c1c" >C 1s</text>
<text x="1970.7" y="596.4" font-family="'Liberation Serif','Times New Roman',serif" font-size="40" font-weight="normal" text-anchor="start" fill="#1c1c1c" >Si 2s</text>
<text x="2063.2" y="640.2" font-family="'Liberation Serif','Times New Roman',serif" font-size="40" font-weight="normal" text-anchor="start" fill="#1c1c1c" >Si 2p</text>
<line x1="1776.6" y1="133.3" x2="1776.6" y2="186.0" stroke="#1a1a1a" stroke-width="1.9"/>
<polygon points="1776.6,205.0 1771.1,184.0 1782.1,184.0" fill="#000"/>
<line x1="1332.1" y1="480.3" x2="1321.7" y2="536.7" stroke="#1a1a1a" stroke-width="1.9"/>
<polygon points="1318.2,555.4 1316.6,533.7 1327.4,535.8" fill="#000"/>
<line x1="1332.1" y1="480.3" x2="1336.0" y2="516.1" stroke="#1a1a1a" stroke-width="1.9"/>
<polygon points="1338.1,535.0 1330.3,514.7 1341.3,513.5" fill="#000"/>
<line x1="1872.6" y1="607.5" x2="1872.6" y2="668.3" stroke="#1a1a1a" stroke-width="1.9"/>
<polygon points="1872.6,687.3 1867.1,666.3 1878.1,666.3" fill="#000"/>
<line x1="1954.9" y1="528.6" x2="1954.9" y2="609.3" stroke="#1a1a1a" stroke-width="1.9"/>
<polygon points="1954.9,628.3 1949.4,607.3 1960.4,607.3" fill="#000"/>
<line x1="2022.8" y1="608.9" x2="2044.5" y2="672.3" stroke="#1a1a1a" stroke-width="1.9"/>
<polygon points="2050.7,690.3 2038.7,672.2 2049.1,668.7" fill="#000"/>
<line x1="2109.8" y1="652.0" x2="2096.2" y2="681.4" stroke="#1a1a1a" stroke-width="1.9"/>
<polygon points="2088.2,698.6 2092.0,677.2 2102.0,681.9" fill="#000"/>
<clipPath id="clipc"><rect x="105.3" y="923.5" width="975.7" height="698.2"/></clipPath>
<g clip-path="url(#clipc)">
<polyline points="105.0,1576.0 108.0,1582.6 111.2,1582.6 114.5,1582.6 117.8,1582.6 121.0,1582.6 125.0,1576.0 127.9,1576.1 130.8,1576.2 133.6,1576.4 136.5,1576.5 139.4,1576.6 142.2,1576.8 145.1,1576.9 148.0,1577.0 151.0,1582.4 154.0,1582.4 157.0,1576.0 160.1,1575.9 163.1,1575.7 166.2,1575.6 169.3,1575.4 172.4,1575.3 175.4,1575.1 178.5,1575.0 181.6,1574.9 184.6,1574.7 187.7,1574.6 190.8,1574.4 193.9,1574.3 196.9,1574.1 200.0,1574.0 202.2,1570.3 204.5,1566.7 207.5,1566.7 210.5,1566.7 213.5,1566.7 216.5,1566.7 219.0,1571.0 222.0,1567.2 226.0,1565.0 229.1,1556.0 232.0,1551.9 234.9,1547.8 237.8,1543.8 240.7,1539.7 243.6,1535.7 246.5,1531.6 249.4,1527.5 252.3,1523.5 255.4,1520.4 258.5,1517.3 261.6,1514.2 265.1,1505.0 268.6,1495.7 272.1,1487.6 275.5,1479.4 279.0,1471.3 282.5,1463.2 285.9,1453.9 289.4,1444.6 292.3,1435.7 295.3,1426.8 298.2,1417.8 301.2,1408.9 304.1,1400.0 307.2,1382.6 310.3,1365.3 313.4,1347.9 316.5,1333.6 319.6,1319.3 322.6,1305.0 325.7,1290.6 328.8,1276.3 331.9,1262.0 334.7,1250.4 337.5,1238.8 340.2,1227.2 343.0,1215.6 345.8,1204.0 348.9,1191.7 352.0,1179.3 355.1,1167.0 358.2,1153.1 361.3,1139.1 364.4,1125.2 367.9,1116.0 371.3,1106.7 374.1,1101.6 376.9,1096.5 379.7,1091.4 382.5,1086.3 385.3,1081.2 389.0,1069.0 392.7,1056.8 396.8,1058.0 399.1,1063.8 401.5,1069.6 404.4,1070.2 407.3,1070.7 409.6,1060.3 412.8,1056.8 415.9,1053.3 418.8,1058.7 421.8,1064.2 424.7,1069.6 427.8,1074.6 430.8,1079.6 433.9,1084.6 437.0,1088.1 440.1,1091.6 443.2,1095.1 446.3,1102.1 449.4,1109.0 452.5,1116.0 455.6,1124.5 458.7,1133.0 461.8,1141.5 465.2,1158.9 468.7,1176.3 471.4,1186.7 474.2,1197.2 476.9,1207.6 479.8,1204.1 482.7,1200.6 486.1,1210.4 489.6,1220.3 493.1,1227.2 496.6,1234.2 499.3,1236.5 502.0,1238.9 504.7,1241.2 507.6,1250.5 510.5,1259.7 513.4,1265.0 516.3,1270.2 519.3,1268.1 522.3,1266.0 525.4,1263.9 528.4,1261.8 531.4,1259.7 534.5,1262.0 537.5,1264.4 540.6,1266.7 542.9,1277.1 546.0,1273.2 549.1,1269.4 552.2,1265.5 555.1,1267.5 558.0,1269.6 560.9,1271.7 563.8,1273.7 566.9,1274.5 570.0,1275.3 572.5,1280.3 575.0,1285.3 578.8,1283.4 582.5,1281.6 585.9,1282.0 589.2,1282.4 592.6,1282.8 596.4,1291.6 600.1,1300.4 603.4,1306.2 606.8,1312.1 610.1,1317.9 613.9,1330.4 617.6,1342.9 620.9,1351.3 624.3,1359.6 627.6,1368.0 631.4,1370.5 635.1,1373.0 637.6,1378.0 640.1,1383.0 642.7,1395.5 645.2,1408.0 648.3,1413.7 651.5,1419.3 654.6,1424.9 657.7,1430.6 660.8,1434.3 664.0,1438.1 667.1,1441.8 670.2,1445.6 673.5,1450.2 676.9,1454.8 680.2,1459.4 683.5,1460.2 686.9,1461.1 690.2,1461.9 693.3,1461.7 696.5,1461.5 699.6,1461.2 702.7,1461.0 705.9,1460.8 709.0,1460.6 712.1,1455.6 715.3,1450.6 718.3,1448.3 721.3,1446.1 724.3,1443.8 727.3,1441.6 730.3,1439.3 733.4,1433.4 736.5,1427.4 739.7,1421.5 742.8,1415.6 745.7,1413.5 748.7,1411.4 751.6,1409.3 754.5,1407.2 757.5,1405.1 760.4,1403.0 763.4,1398.5 766.4,1394.0 769.4,1389.5 772.4,1385.0 775.4,1380.5 778.5,1377.0 781.6,1373.6 784.8,1370.2 787.9,1366.7 791.2,1368.8 794.6,1370.9 797.9,1373.0 801.0,1376.8 804.1,1380.5 807.3,1384.2 810.4,1388.0 813.3,1387.2 816.3,1386.3 819.2,1385.5 821.7,1390.5 824.2,1395.5 826.7,1403.7 829.2,1411.8 833.0,1414.9 836.7,1418.1 839.9,1426.8 843.0,1435.6 845.5,1443.1 848.0,1450.6 851.3,1453.9 854.7,1457.3 858.0,1460.6 861.3,1469.8 864.7,1479.0 868.0,1488.2 871.0,1490.7 874.0,1493.2 877.1,1495.7 880.1,1498.2 883.1,1500.7 886.0,1503.6 888.8,1506.4 891.7,1509.3 894.5,1512.1 897.4,1515.0 900.2,1517.8 903.1,1520.7 905.6,1526.3 908.1,1532.0 911.5,1534.7 914.9,1537.3 918.3,1540.0 921.2,1543.2 924.1,1546.4 927.0,1549.6 929.9,1552.8 933.1,1553.3 936.2,1553.9 939.4,1554.5 942.6,1555.0 945.0,1558.6 948.0,1560.1 951.0,1561.6 954.0,1563.0 957.0,1564.5 960.0,1566.0 963.1,1566.6 966.2,1567.2 969.2,1567.8 972.3,1568.5 975.4,1569.1 978.5,1569.7 981.5,1570.3 984.6,1570.9 987.7,1571.5 990.8,1572.2 993.8,1572.8 996.9,1573.4 1000.0,1574.0 1003.1,1574.0 1006.1,1574.0 1009.2,1574.0 1012.3,1574.0 1015.3,1574.0 1018.4,1574.0 1021.5,1574.0 1024.5,1574.0 1027.6,1574.0 1030.7,1574.0 1033.7,1574.0 1036.8,1574.0 1039.9,1574.0 1042.9,1574.0 1046.0,1574.0 1049.5,1571.5 1053.0,1569.0 1056.0,1569.0 1059.0,1569.0 1062.0,1569.0 1065.0,1569.0 1068.0,1569.0 1071.0,1569.0 1074.0,1569.0 1077.0,1569.0 1080.0,1569.0" fill="none" stroke="#050505" stroke-width="3.2" stroke-linejoin="round" stroke-linecap="round" />
<path d="M105.0,1563.3 L105.0,1561.3 L106.7,1561.1 L108.3,1560.9 L109.9,1560.7 L111.6,1560.5 L113.2,1560.3 L114.8,1560.1 L116.5,1559.9 L118.1,1559.7 L119.7,1559.5 L121.4,1559.3 L123.0,1559.1 L124.6,1558.9 L126.2,1558.6 L127.9,1558.4 L129.5,1558.2 L131.1,1557.9 L132.8,1557.7 L134.4,1557.4 L136.0,1557.2 L137.7,1556.9 L139.3,1556.7 L140.9,1556.4 L142.6,1556.2 L144.2,1555.9 L145.8,1555.6 L147.5,1555.3 L149.1,1555.1 L150.7,1554.8 L152.3,1554.5 L154.0,1554.2 L155.6,1553.9 L157.2,1553.6 L158.9,1553.3 L160.5,1552.9 L162.1,1552.6 L163.8,1552.3 L165.4,1552.0 L167.0,1551.6 L168.7,1551.3 L170.3,1550.9 L171.9,1550.5 L173.6,1550.2 L175.2,1549.8 L176.8,1549.4 L178.4,1549.0 L180.1,1548.6 L181.7,1548.2 L183.3,1547.8 L185.0,1547.4 L186.6,1547.0 L188.2,1546.5 L189.9,1546.1 L191.5,1545.6 L193.1,1545.1 L194.8,1544.7 L196.4,1544.2 L198.0,1543.7 L199.6,1543.2 L201.3,1542.6 L202.9,1542.1 L204.5,1541.6 L206.2,1541.0 L207.8,1540.4 L209.4,1539.9 L211.1,1539.3 L212.7,1538.7 L214.3,1538.0 L216.0,1537.4 L217.6,1536.7 L219.2,1536.1 L220.9,1535.4 L222.5,1534.7 L224.1,1534.0 L225.7,1533.2 L227.4,1532.4 L229.0,1531.7 L230.6,1530.9 L232.3,1530.0 L233.9,1529.2 L235.5,1528.3 L237.2,1527.4 L238.8,1526.5 L240.4,1525.6 L242.1,1524.6 L243.7,1523.6 L245.3,1522.6 L247.0,1521.5 L248.6,1520.4 L250.2,1519.3 L251.8,1518.2 L253.5,1517.0 L255.1,1515.8 L256.7,1514.5 L258.4,1513.2 L260.0,1511.9 L261.6,1510.5 L263.3,1509.1 L264.9,1507.6 L266.5,1506.1 L268.2,1504.5 L269.8,1502.9 L271.4,1501.3 L273.0,1499.6 L274.7,1497.8 L276.3,1496.0 L277.9,1494.1 L279.6,1492.2 L281.2,1490.2 L282.8,1488.2 L284.5,1486.0 L286.1,1483.9 L287.7,1481.6 L289.4,1479.3 L291.0,1476.9 L292.6,1474.5 L294.3,1471.9 L295.9,1469.3 L297.5,1466.6 L299.1,1463.8 L300.8,1461.0 L302.4,1458.0 L304.0,1455.0 L305.7,1451.9 L307.3,1448.7 L308.9,1445.4 L310.6,1442.0 L312.2,1438.5 L313.8,1434.9 L315.5,1431.2 L317.1,1427.4 L318.7,1423.5 L320.4,1419.5 L322.0,1415.4 L323.6,1411.2 L325.2,1406.8 L326.9,1402.4 L328.5,1397.9 L330.1,1393.2 L331.8,1388.4 L333.4,1383.6 L335.0,1378.6 L336.7,1373.5 L338.3,1368.2 L339.9,1362.9 L341.6,1357.5 L343.2,1351.9 L344.8,1346.2 L346.4,1340.5 L348.1,1334.6 L349.7,1328.6 L351.3,1322.5 L353.0,1316.3 L354.6,1310.1 L356.2,1303.7 L357.9,1297.2 L359.5,1290.7 L361.1,1284.1 L362.8,1277.5 L364.4,1270.8 L366.0,1264.0 L367.7,1257.2 L369.3,1250.4 L370.9,1243.5 L372.5,1236.7 L374.2,1229.9 L375.8,1223.0 L377.4,1216.3 L379.1,1209.6 L380.7,1202.9 L382.3,1196.4 L384.0,1190.0 L385.6,1183.7 L387.2,1177.6 L388.9,1171.6 L390.5,1165.8 L392.1,1160.3 L393.8,1155.0 L395.4,1149.9 L397.0,1145.2 L398.6,1140.7 L400.3,1136.6 L401.9,1132.8 L403.5,1129.4 L405.2,1126.4 L406.8,1123.8 L408.4,1121.6 L410.1,1119.8 L411.7,1118.4 L413.3,1117.5 L415.0,1117.1 L416.6,1117.0 L418.2,1117.5 L419.8,1118.4 L421.5,1119.7 L423.1,1121.5 L424.7,1123.6 L426.4,1126.2 L428.0,1129.3 L429.6,1132.6 L431.3,1136.4 L432.9,1140.5 L434.5,1144.9 L436.2,1149.7 L437.8,1154.7 L439.4,1160.0 L441.1,1165.5 L442.7,1171.3 L444.3,1177.2 L445.9,1183.3 L447.6,1189.6 L449.2,1196.0 L450.8,1202.6 L452.5,1209.2 L454.1,1215.9 L455.7,1222.6 L457.4,1229.5 L459.0,1236.3 L460.6,1243.1 L462.3,1250.0 L463.9,1256.8 L465.5,1263.6 L467.2,1270.4 L468.8,1277.1 L470.4,1283.7 L472.0,1290.3 L473.7,1296.9 L475.3,1303.3 L476.9,1309.7 L478.6,1316.0 L480.2,1322.2 L481.8,1328.2 L483.5,1334.2 L485.1,1340.1 L486.7,1345.9 L488.4,1351.6 L490.0,1357.1 L491.6,1362.6 L493.3,1367.9 L494.9,1373.2 L496.5,1378.3 L498.1,1383.3 L499.8,1388.2 L501.4,1392.9 L503.0,1397.6 L504.7,1402.1 L506.3,1406.6 L507.9,1410.9 L509.6,1415.1 L511.2,1419.3 L512.8,1423.3 L514.5,1427.2 L516.1,1431.0 L517.7,1434.7 L519.3,1438.3 L521.0,1441.8 L522.6,1445.2 L524.2,1448.5 L525.9,1451.7 L527.5,1454.8 L529.1,1457.9 L530.8,1460.8 L532.4,1463.7 L534.0,1466.4 L535.7,1469.1 L537.3,1471.8 L538.9,1474.3 L540.6,1476.8 L542.2,1479.2 L543.8,1481.5 L545.4,1483.7 L547.1,1485.9 L548.7,1488.0 L550.3,1490.1 L552.0,1492.1 L553.6,1494.0 L555.2,1495.9 L556.9,1497.7 L558.5,1499.5 L560.1,1501.2 L561.8,1502.8 L563.4,1504.4 L565.0,1506.0 L566.7,1507.5 L568.3,1509.0 L569.9,1510.4 L571.5,1511.8 L573.2,1513.1 L574.8,1514.4 L576.4,1515.7 L578.1,1516.9 L579.7,1518.1 L581.3,1519.2 L583.0,1520.4 L584.6,1521.5 L586.2,1522.5 L587.9,1523.5 L589.5,1524.5 L591.1,1525.5 L592.7,1526.5 L594.4,1527.4 L596.0,1528.3 L597.6,1529.1 L599.3,1530.0 L600.9,1530.8 L602.5,1531.6 L604.2,1532.4 L605.8,1533.2 L607.4,1533.9 L609.1,1534.6 L610.7,1535.3 L612.3,1536.0 L614.0,1536.7 L615.6,1537.4 L617.2,1538.0 L618.8,1538.6 L620.5,1539.2 L622.1,1539.8 L623.7,1540.4 L625.4,1541.0 L627.0,1541.5 L628.6,1542.1 L630.3,1542.6 L631.9,1543.1 L633.5,1543.6 L635.2,1544.1 L636.8,1544.6 L638.4,1545.1 L640.1,1545.6 L641.7,1546.0 L643.3,1546.5 L644.9,1546.9 L646.6,1547.4 L648.2,1547.8 L649.8,1548.2 L651.5,1548.6 L653.1,1549.0 L654.7,1549.4 L656.4,1549.8 L658.0,1550.2 L659.6,1550.5 L661.3,1550.9 L662.9,1551.2 L664.5,1551.6 L666.1,1551.9 L667.8,1552.3 L669.4,1552.6 L671.0,1552.9 L672.7,1553.2 L674.3,1553.6 L675.9,1553.9 L677.6,1554.2 L679.2,1554.5 L680.8,1554.8 L682.5,1555.0 L684.1,1555.3 L685.7,1555.6 L687.4,1555.9 L689.0,1556.2 L690.6,1556.4 L692.2,1556.7 L693.9,1556.9 L695.5,1557.2 L697.1,1557.4 L698.8,1557.7 L700.4,1557.9 L702.0,1558.2 L703.7,1558.4 L705.3,1558.6 L706.9,1558.8 L708.6,1559.1 L710.2,1559.3 L711.8,1559.5 L713.5,1559.7 L715.1,1559.9 L716.7,1560.1 L718.3,1560.3 L720.0,1560.5 L721.6,1560.7 L723.2,1560.9 L724.9,1561.1 L726.5,1561.3 L728.1,1561.5 L729.8,1561.7 L731.4,1561.8 L733.0,1562.0 L734.7,1562.2 L736.3,1562.4 L737.9,1562.5 L739.5,1562.7 L741.2,1562.9 L742.8,1563.0 L744.4,1563.2 L746.1,1563.3 L747.7,1563.3 L749.3,1563.3 L751.0,1563.3 L752.6,1563.3 L754.2,1563.3 L755.9,1563.3 L757.5,1563.3 L759.1,1563.3 L760.8,1563.3 L762.4,1563.3 L764.0,1563.3 L765.6,1563.3 L767.3,1563.3 L768.9,1563.3 L770.5,1563.3 L772.2,1563.3 L773.8,1563.3 L775.4,1563.3 L777.1,1563.3 L778.7,1563.3 L780.3,1563.3 L782.0,1563.3 L783.6,1563.3 L785.2,1563.3 L786.9,1563.3 L788.5,1563.3 L790.1,1563.3 L791.7,1563.3 L793.4,1563.3 L795.0,1563.3 L796.6,1563.3 L798.3,1563.3 L799.9,1563.3 L801.5,1563.3 L803.2,1563.3 L804.8,1563.3 L806.4,1563.3 L808.1,1563.3 L809.7,1563.3 L811.3,1563.3 L812.9,1563.3 L814.6,1563.3 L816.2,1563.3 L817.8,1563.3 L819.5,1563.3 L821.1,1563.3 L822.7,1563.3 L824.4,1563.3 L826.0,1563.3 L827.6,1563.3 L829.3,1563.3 L830.9,1563.3 L832.5,1563.3 L834.2,1563.3 L835.8,1563.3 L837.4,1563.3 L839.0,1563.3 L840.7,1563.3 L842.3,1563.3 L843.9,1563.3 L845.6,1563.3 L847.2,1563.3 L848.8,1563.3 L850.5,1563.3 L852.1,1563.3 L853.7,1563.3 L855.4,1563.3 L857.0,1563.3 L858.6,1563.3 L860.3,1563.3 L861.9,1563.3 L863.5,1563.3 L865.1,1563.3 L866.8,1563.3 L868.4,1563.3 L870.0,1563.3 L871.7,1563.3 L873.3,1563.3 L874.9,1563.3 L876.6,1563.3 L878.2,1563.3 L879.8,1563.3 L881.5,1563.3 L883.1,1563.3 L884.7,1563.3 L886.3,1563.3 L888.0,1563.3 L889.6,1563.3 L891.2,1563.3 L892.9,1563.3 L894.5,1563.3 L896.1,1563.3 L897.8,1563.3 L899.4,1563.3 L901.0,1563.3 L902.7,1563.3 L904.3,1563.3 L905.9,1563.3 L907.6,1563.3 L909.2,1563.3 L910.8,1563.3 L912.4,1563.3 L914.1,1563.3 L915.7,1563.3 L917.3,1563.3 L919.0,1563.3 L920.6,1563.3 L922.2,1563.3 L923.9,1563.3 L925.5,1563.3 L927.1,1563.3 L928.8,1563.3 L930.4,1563.3 L932.0,1563.3 L933.7,1563.3 L935.3,1563.3 L936.9,1563.3 L938.5,1563.3 L940.2,1563.3 L941.8,1563.3 L943.4,1563.3 L945.1,1563.3 L946.7,1563.3 L948.3,1563.3 L950.0,1563.3 L951.6,1563.3 L953.2,1563.3 L954.9,1563.3 L956.5,1563.3 L958.1,1563.3 L959.8,1563.3 L961.4,1563.3 L963.0,1563.3 L964.6,1563.3 L966.3,1563.3 L967.9,1563.3 L969.5,1563.3 L971.2,1563.3 L972.8,1563.3 L974.4,1563.3 L976.1,1563.3 L977.7,1563.3 L979.3,1563.3 L981.0,1563.3 L982.6,1563.3 L984.2,1563.3 L985.8,1563.3 L987.5,1563.3 L989.1,1563.3 L990.7,1563.3 L992.4,1563.3 L994.0,1563.3 L995.6,1563.3 L997.3,1563.3 L998.9,1563.3 L1000.5,1563.3 L1002.2,1563.3 L1003.8,1563.3 L1005.4,1563.3 L1007.1,1563.3 L1008.7,1563.3 L1010.3,1563.3 L1011.9,1563.3 L1013.6,1563.3 L1015.2,1563.3 L1016.8,1563.3 L1018.5,1563.3 L1020.1,1563.3 L1021.7,1563.3 L1023.4,1563.3 L1025.0,1563.3 L1026.6,1563.3 L1028.3,1563.3 L1029.9,1563.3 L1031.5,1563.3 L1033.2,1563.3 L1034.8,1563.3 L1036.4,1563.3 L1038.0,1563.3 L1039.7,1563.3 L1041.3,1563.3 L1042.9,1563.3 L1044.6,1563.3 L1046.2,1563.3 L1047.8,1563.3 L1049.5,1563.3 L1051.1,1563.3 L1052.7,1563.3 L1054.4,1563.3 L1056.0,1563.3 L1057.6,1563.3 L1059.2,1563.3 L1060.9,1563.3 L1062.5,1563.3 L1064.1,1563.3 L1065.8,1563.3 L1067.4,1563.3 L1069.0,1563.3 L1070.7,1563.3 L1072.3,1563.3 L1073.9,1563.3 L1075.6,1563.3 L1077.2,1563.3 L1078.8,1563.3 L1080.5,1563.3 L1082.1,1563.3 L1082.1,1563.3Z" fill="#008000" fill-opacity="0.6" stroke="none"/>
<path d="M105.0,1561.3 L106.7,1561.1 L108.3,1560.9 L109.9,1560.7 L111.6,1560.5 L113.2,1560.3 L114.8,1560.1 L116.5,1559.9 L118.1,1559.7 L119.7,1559.5 L121.4,1559.3 L123.0,1559.1 L124.6,1558.9 L126.2,1558.6 L127.9,1558.4 L129.5,1558.2 L131.1,1557.9 L132.8,1557.7 L134.4,1557.4 L136.0,1557.2 L137.7,1556.9 L139.3,1556.7 L140.9,1556.4 L142.6,1556.2 L144.2,1555.9 L145.8,1555.6 L147.5,1555.3 L149.1,1555.1 L150.7,1554.8 L152.3,1554.5 L154.0,1554.2 L155.6,1553.9 L157.2,1553.6 L158.9,1553.3 L160.5,1552.9 L162.1,1552.6 L163.8,1552.3 L165.4,1552.0 L167.0,1551.6 L168.7,1551.3 L170.3,1550.9 L171.9,1550.5 L173.6,1550.2 L175.2,1549.8 L176.8,1549.4 L178.4,1549.0 L180.1,1548.6 L181.7,1548.2 L183.3,1547.8 L185.0,1547.4 L186.6,1547.0 L188.2,1546.5 L189.9,1546.1 L191.5,1545.6 L193.1,1545.1 L194.8,1544.7 L196.4,1544.2 L198.0,1543.7 L199.6,1543.2 L201.3,1542.6 L202.9,1542.1 L204.5,1541.6 L206.2,1541.0 L207.8,1540.4 L209.4,1539.9 L211.1,1539.3 L212.7,1538.7 L214.3,1538.0 L216.0,1537.4 L217.6,1536.7 L219.2,1536.1 L220.9,1535.4 L222.5,1534.7 L224.1,1534.0 L225.7,1533.2 L227.4,1532.4 L229.0,1531.7 L230.6,1530.9 L232.3,1530.0 L233.9,1529.2 L235.5,1528.3 L237.2,1527.4 L238.8,1526.5 L240.4,1525.6 L242.1,1524.6 L243.7,1523.6 L245.3,1522.6 L247.0,1521.5 L248.6,1520.4 L250.2,1519.3 L251.8,1518.2 L253.5,1517.0 L255.1,1515.8 L256.7,1514.5 L258.4,1513.2 L260.0,1511.9 L261.6,1510.5 L263.3,1509.1 L264.9,1507.6 L266.5,1506.1 L268.2,1504.5 L269.8,1502.9 L271.4,1501.3 L273.0,1499.6 L274.7,1497.8 L276.3,1496.0 L277.9,1494.1 L279.6,1492.2 L281.2,1490.2 L282.8,1488.2 L284.5,1486.0 L286.1,1483.9 L287.7,1481.6 L289.4,1479.3 L291.0,1476.9 L292.6,1474.5 L294.3,1471.9 L295.9,1469.3 L297.5,1466.6 L299.1,1463.8 L300.8,1461.0 L302.4,1458.0 L304.0,1455.0 L305.7,1451.9 L307.3,1448.7 L308.9,1445.4 L310.6,1442.0 L312.2,1438.5 L313.8,1434.9 L315.5,1431.2 L317.1,1427.4 L318.7,1423.5 L320.4,1419.5 L322.0,1415.4 L323.6,1411.2 L325.2,1406.8 L326.9,1402.4 L328.5,1397.9 L330.1,1393.2 L331.8,1388.4 L333.4,1383.6 L335.0,1378.6 L336.7,1373.5 L338.3,1368.2 L339.9,1362.9 L341.6,1357.5 L343.2,1351.9 L344.8,1346.2 L346.4,1340.5 L348.1,1334.6 L349.7,1328.6 L351.3,1322.5 L353.0,1316.3 L354.6,1310.1 L356.2,1303.7 L357.9,1297.2 L359.5,1290.7 L361.1,1284.1 L362.8,1277.5 L364.4,1270.8 L366.0,1264.0 L367.7,1257.2 L369.3,1250.4 L370.9,1243.5 L372.5,1236.7 L374.2,1229.9 L375.8,1223.0 L377.4,1216.3 L379.1,1209.6 L380.7,1202.9 L382.3,1196.4 L384.0,1190.0 L385.6,1183.7 L387.2,1177.6 L388.9,1171.6 L390.5,1165.8 L392.1,1160.3 L393.8,1155.0 L395.4,1149.9 L397.0,1145.2 L398.6,1140.7 L400.3,1136.6 L401.9,1132.8 L403.5,1129.4 L405.2,1126.4 L406.8,1123.8 L408.4,1121.6 L410.1,1119.8 L411.7,1118.4 L413.3,1117.5 L415.0,1117.1 L416.6,1117.0 L418.2,1117.5 L419.8,1118.4 L421.5,1119.7 L423.1,1121.5 L424.7,1123.6 L426.4,1126.2 L428.0,1129.3 L429.6,1132.6 L431.3,1136.4 L432.9,1140.5 L434.5,1144.9 L436.2,1149.7 L437.8,1154.7 L439.4,1160.0 L441.1,1165.5 L442.7,1171.3 L444.3,1177.2 L445.9,1183.3 L447.6,1189.6 L449.2,1196.0 L450.8,1202.6 L452.5,1209.2 L454.1,1215.9 L455.7,1222.6 L457.4,1229.5 L459.0,1236.3 L460.6,1243.1 L462.3,1250.0 L463.9,1256.8 L465.5,1263.6 L467.2,1270.4 L468.8,1277.1 L470.4,1283.7 L472.0,1290.3 L473.7,1296.9 L475.3,1303.3 L476.9,1309.7 L478.6,1316.0 L480.2,1322.2 L481.8,1328.2 L483.5,1334.2 L485.1,1340.1 L486.7,1345.9 L488.4,1351.6 L490.0,1357.1 L491.6,1362.6 L493.3,1367.9 L494.9,1373.2 L496.5,1378.3 L498.1,1383.3 L499.8,1388.2 L501.4,1392.9 L503.0,1397.6 L504.7,1402.1 L506.3,1406.6 L507.9,1410.9 L509.6,1415.1 L511.2,1419.3 L512.8,1423.3 L514.5,1427.2 L516.1,1431.0 L517.7,1434.7 L519.3,1438.3 L521.0,1441.8 L522.6,1445.2 L524.2,1448.5 L525.9,1451.7 L527.5,1454.8 L529.1,1457.9 L530.8,1460.8 L532.4,1463.7 L534.0,1466.4 L535.7,1469.1 L537.3,1471.8 L538.9,1474.3 L540.6,1476.8 L542.2,1479.2 L543.8,1481.5 L545.4,1483.7 L547.1,1485.9 L548.7,1488.0 L550.3,1490.1 L552.0,1492.1 L553.6,1494.0 L555.2,1495.9 L556.9,1497.7 L558.5,1499.5 L560.1,1501.2 L561.8,1502.8 L563.4,1504.4 L565.0,1506.0 L566.7,1507.5 L568.3,1509.0 L569.9,1510.4 L571.5,1511.8 L573.2,1513.1 L574.8,1514.4 L576.4,1515.7 L578.1,1516.9 L579.7,1518.1 L581.3,1519.2 L583.0,1520.4 L584.6,1521.5 L586.2,1522.5 L587.9,1523.5 L589.5,1524.5 L591.1,1525.5 L592.7,1526.5 L594.4,1527.4 L596.0,1528.3 L597.6,1529.1 L599.3,1530.0 L600.9,1530.8 L602.5,1531.6 L604.2,1532.4 L605.8,1533.2 L607.4,1533.9 L609.1,1534.6 L610.7,1535.3 L612.3,1536.0 L614.0,1536.7 L615.6,1537.4 L617.2,1538.0 L618.8,1538.6 L620.5,1539.2 L622.1,1539.8 L623.7,1540.4 L625.4,1541.0 L627.0,1541.5 L628.6,1542.1 L630.3,1542.6 L631.9,1543.1 L633.5,1543.6 L635.2,1544.1 L636.8,1544.6 L638.4,1545.1 L640.1,1545.6 L641.7,1546.0 L643.3,1546.5 L644.9,1546.9 L646.6,1547.4 L648.2,1547.8 L649.8,1548.2 L651.5,1548.6 L653.1,1549.0 L654.7,1549.4 L656.4,1549.8 L658.0,1550.2 L659.6,1550.5 L661.3,1550.9 L662.9,1551.2 L664.5,1551.6 L666.1,1551.9 L667.8,1552.3 L669.4,1552.6 L671.0,1552.9 L672.7,1553.2 L674.3,1553.6 L675.9,1553.9 L677.6,1554.2 L679.2,1554.5 L680.8,1554.8 L682.5,1555.0 L684.1,1555.3 L685.7,1555.6 L687.4,1555.9 L689.0,1556.2 L690.6,1556.4 L692.2,1556.7 L693.9,1556.9 L695.5,1557.2 L697.1,1557.4 L698.8,1557.7 L700.4,1557.9 L702.0,1558.2 L703.7,1558.4 L705.3,1558.6 L706.9,1558.8 L708.6,1559.1 L710.2,1559.3 L711.8,1559.5 L713.5,1559.7 L715.1,1559.9 L716.7,1560.1 L718.3,1560.3 L720.0,1560.5 L721.6,1560.7 L723.2,1560.9 L724.9,1561.1 L726.5,1561.3 L728.1,1561.5 L729.8,1561.7 L731.4,1561.8 L733.0,1562.0 L734.7,1562.2 L736.3,1562.4 L737.9,1562.5 L739.5,1562.7 L741.2,1562.9" fill="none" stroke="#2f9e2f" stroke-width="2.2"/>
<path d="M105.0,1580.0 L105.0,1579.6 L106.7,1579.6 L108.3,1579.6 L109.9,1579.6 L111.6,1579.6 L113.2,1579.6 L114.8,1579.6 L116.5,1579.6 L118.1,1579.6 L119.7,1579.6 L121.4,1579.6 L123.0,1579.6 L124.6,1579.6 L126.2,1579.6 L127.9,1579.5 L129.5,1579.5 L131.1,1579.5 L132.8,1579.5 L134.4,1579.5 L136.0,1579.5 L137.7,1579.5 L139.3,1579.5 L140.9,1579.5 L142.6,1579.5 L144.2,1579.5 L145.8,1579.5 L147.5,1579.5 L149.1,1579.4 L150.7,1579.4 L152.3,1579.4 L154.0,1579.4 L155.6,1579.4 L157.2,1579.4 L158.9,1579.4 L160.5,1579.4 L162.1,1579.4 L163.8,1579.4 L165.4,1579.3 L167.0,1579.3 L168.7,1579.3 L170.3,1579.3 L171.9,1579.3 L173.6,1579.3 L175.2,1579.3 L176.8,1579.2 L178.4,1579.2 L180.1,1579.2 L181.7,1579.2 L183.3,1579.2 L185.0,1579.1 L186.6,1579.1 L188.2,1579.1 L189.9,1579.1 L191.5,1579.0 L193.1,1579.0 L194.8,1579.0 L196.4,1579.0 L198.0,1578.9 L199.6,1578.9 L201.3,1578.8 L202.9,1578.8 L204.5,1578.7 L206.2,1578.7 L207.8,1578.6 L209.4,1578.5 L211.1,1578.5 L212.7,1578.4 L214.3,1578.3 L216.0,1578.2 L217.6,1578.1 L219.2,1577.9 L220.9,1577.8 L222.5,1577.7 L224.1,1577.5 L225.7,1577.3 L227.4,1577.1 L229.0,1576.9 L230.6,1576.7 L232.3,1576.4 L233.9,1576.2 L235.5,1575.9 L237.2,1575.5 L238.8,1575.2 L240.4,1574.8 L242.1,1574.4 L243.7,1573.9 L245.3,1573.4 L247.0,1572.9 L248.6,1572.3 L250.2,1571.7 L251.8,1571.0 L253.5,1570.3 L255.1,1569.6 L256.7,1568.8 L258.4,1567.9 L260.0,1567.0 L261.6,1566.0 L263.3,1564.9 L264.9,1563.8 L266.5,1562.6 L268.2,1561.4 L269.8,1560.1 L271.4,1558.7 L273.0,1557.3 L274.7,1555.8 L276.3,1554.2 L277.9,1552.6 L279.6,1550.8 L281.2,1549.1 L282.8,1547.2 L284.5,1545.3 L286.1,1543.3 L287.7,1541.3 L289.4,1539.2 L291.0,1537.1 L292.6,1534.9 L294.3,1532.7 L295.9,1530.4 L297.5,1528.1 L299.1,1525.8 L300.8,1523.5 L302.4,1521.1 L304.0,1518.8 L305.7,1516.4 L307.3,1514.1 L308.9,1511.7 L310.6,1509.4 L312.2,1507.2 L313.8,1504.9 L315.5,1502.8 L317.1,1500.6 L318.7,1498.6 L320.4,1496.6 L322.0,1494.8 L323.6,1493.0 L325.2,1491.3 L326.9,1489.8 L328.5,1488.3 L330.1,1487.0 L331.8,1485.8 L333.4,1484.8 L335.0,1484.0 L336.7,1483.2 L338.3,1482.7 L339.9,1482.3 L341.6,1482.1 L343.2,1482.0 L344.8,1482.1 L346.4,1482.4 L348.1,1482.8 L349.7,1483.4 L351.3,1484.2 L353.0,1485.1 L354.6,1486.2 L356.2,1487.4 L357.9,1488.7 L359.5,1490.2 L361.1,1491.8 L362.8,1493.5 L364.4,1495.3 L366.0,1497.2 L367.7,1499.2 L369.3,1501.2 L370.9,1503.4 L372.5,1505.6 L374.2,1507.8 L375.8,1510.1 L377.4,1512.4 L379.1,1514.7 L380.7,1517.1 L382.3,1519.5 L384.0,1521.8 L385.6,1524.2 L387.2,1526.5 L388.9,1528.8 L390.5,1531.1 L392.1,1533.3 L393.8,1535.5 L395.4,1537.7 L397.0,1539.8 L398.6,1541.9 L400.3,1543.9 L401.9,1545.9 L403.5,1547.7 L405.2,1549.6 L406.8,1551.3 L408.4,1553.0 L410.1,1554.7 L411.7,1556.2 L413.3,1557.7 L415.0,1559.1 L416.6,1560.5 L418.2,1561.8 L419.8,1563.0 L421.5,1564.1 L423.1,1565.2 L424.7,1566.3 L426.4,1567.2 L428.0,1568.1 L429.6,1569.0 L431.3,1569.8 L432.9,1570.5 L434.5,1571.2 L436.2,1571.9 L437.8,1572.5 L439.4,1573.0 L441.1,1573.6 L442.7,1574.1 L444.3,1574.5 L445.9,1574.9 L447.6,1575.3 L449.2,1575.6 L450.8,1576.0 L452.5,1576.2 L454.1,1576.5 L455.7,1576.8 L457.4,1577.0 L459.0,1577.2 L460.6,1577.4 L462.3,1577.6 L463.9,1577.7 L465.5,1577.9 L467.2,1578.0 L468.8,1578.1 L470.4,1578.2 L472.0,1578.3 L473.7,1578.4 L475.3,1578.5 L476.9,1578.6 L478.6,1578.6 L480.2,1578.7 L481.8,1578.7 L483.5,1578.8 L485.1,1578.8 L486.7,1578.9 L488.4,1578.9 L490.0,1579.0 L491.6,1579.0 L493.3,1579.0 L494.9,1579.1 L496.5,1579.1 L498.1,1579.1 L499.8,1579.1 L501.4,1579.2 L503.0,1579.2 L504.7,1579.2 L506.3,1579.2 L507.9,1579.2 L509.6,1579.2 L511.2,1579.3 L512.8,1579.3 L514.5,1579.3 L516.1,1579.3 L517.7,1579.3 L519.3,1579.3 L521.0,1579.3 L522.6,1579.4 L524.2,1579.4 L525.9,1579.4 L527.5,1579.4 L529.1,1579.4 L530.8,1579.4 L532.4,1579.4 L534.0,1579.4 L535.7,1579.4 L537.3,1579.4 L538.9,1579.5 L540.6,1579.5 L542.2,1579.5 L543.8,1579.5 L545.4,1579.5 L547.1,1579.5 L548.7,1579.5 L550.3,1579.5 L552.0,1579.5 L553.6,1579.5 L555.2,1579.5 L556.9,1579.5 L558.5,1579.5 L560.1,1579.6 L561.8,1579.6 L563.4,1579.6 L565.0,1579.6 L566.7,1579.6 L568.3,1579.6 L569.9,1579.6 L571.5,1579.6 L573.2,1579.6 L574.8,1579.6 L576.4,1579.6 L578.1,1579.6 L579.7,1579.6 L581.3,1579.6 L583.0,1579.6 L584.6,1579.6 L586.2,1579.6 L587.9,1579.6 L589.5,1579.6 L591.1,1579.7 L592.7,1579.7 L594.4,1579.7 L596.0,1579.7 L597.6,1579.7 L599.3,1579.7 L600.9,1579.7 L602.5,1579.7 L604.2,1579.7 L605.8,1579.7 L607.4,1579.7 L609.1,1579.7 L610.7,1579.7 L612.3,1579.7 L614.0,1579.7 L615.6,1579.7 L617.2,1579.7 L618.8,1579.7 L620.5,1579.7 L622.1,1579.7 L623.7,1579.7 L625.4,1579.7 L627.0,1579.7 L628.6,1579.7 L630.3,1579.7 L631.9,1579.7 L633.5,1579.7 L635.2,1579.7 L636.8,1579.8 L638.4,1579.8 L640.1,1579.8 L641.7,1579.8 L643.3,1579.8 L644.9,1579.8 L646.6,1579.8 L648.2,1579.8 L649.8,1579.8 L651.5,1579.8 L653.1,1579.8 L654.7,1579.8 L656.4,1579.8 L658.0,1579.8 L659.6,1579.8 L661.3,1579.8 L662.9,1579.8 L664.5,1579.8 L666.1,1579.8 L667.8,1579.8 L669.4,1579.8 L671.0,1579.8 L672.7,1579.8 L674.3,1579.8 L675.9,1579.8 L677.6,1579.8 L679.2,1579.8 L680.8,1579.8 L682.5,1579.8 L684.1,1579.8 L685.7,1579.8 L687.4,1579.8 L689.0,1579.8 L690.6,1579.8 L692.2,1579.8 L693.9,1579.8 L695.5,1579.8 L697.1,1579.8 L698.8,1579.8 L700.4,1579.8 L702.0,1579.8 L703.7,1579.8 L705.3,1579.8 L706.9,1579.8 L708.6,1579.8 L710.2,1579.8 L711.8,1579.8 L713.5,1579.8 L715.1,1579.8 L716.7,1579.8 L718.3,1579.8 L720.0,1579.8 L721.6,1579.8 L723.2,1579.8 L724.9,1579.9 L726.5,1579.9 L728.1,1579.9 L729.8,1579.9 L731.4,1579.9 L733.0,1579.9 L734.7,1579.9 L736.3,1579.9 L737.9,1579.9 L739.5,1579.9 L741.2,1579.9 L742.8,1579.9 L744.4,1579.9 L746.1,1579.9 L747.7,1579.9 L749.3,1579.9 L751.0,1579.9 L752.6,1579.9 L754.2,1579.9 L755.9,1579.9 L757.5,1579.9 L759.1,1579.9 L760.8,1579.9 L762.4,1579.9 L764.0,1579.9 L765.6,1579.9 L767.3,1579.9 L768.9,1579.9 L770.5,1579.9 L772.2,1579.9 L773.8,1579.9 L775.4,1579.9 L777.1,1579.9 L778.7,1579.9 L780.3,1579.9 L782.0,1579.9 L783.6,1579.9 L785.2,1579.9 L786.9,1579.9 L788.5,1579.9 L790.1,1579.9 L791.7,1579.9 L793.4,1579.9 L795.0,1579.9 L796.6,1579.9 L798.3,1579.9 L799.9,1579.9 L801.5,1579.9 L803.2,1579.9 L804.8,1579.9 L806.4,1579.9 L808.1,1579.9 L809.7,1579.9 L811.3,1579.9 L812.9,1579.9 L814.6,1579.9 L816.2,1579.9 L817.8,1579.9 L819.5,1579.9 L821.1,1579.9 L822.7,1579.9 L824.4,1579.9 L826.0,1579.9 L827.6,1579.9 L829.3,1579.9 L830.9,1579.9 L832.5,1579.9 L834.2,1579.9 L835.8,1579.9 L837.4,1579.9 L839.0,1579.9 L840.7,1579.9 L842.3,1579.9 L843.9,1579.9 L845.6,1579.9 L847.2,1579.9 L848.8,1579.9 L850.5,1579.9 L852.1,1579.9 L853.7,1579.9 L855.4,1579.9 L857.0,1579.9 L858.6,1579.9 L860.3,1579.9 L861.9,1579.9 L863.5,1579.9 L865.1,1579.9 L866.8,1579.9 L868.4,1579.9 L870.0,1579.9 L871.7,1579.9 L873.3,1579.9 L874.9,1579.9 L876.6,1579.9 L878.2,1579.9 L879.8,1579.9 L881.5,1579.9 L883.1,1579.9 L884.7,1579.9 L886.3,1579.9 L888.0,1579.9 L889.6,1579.9 L891.2,1579.9 L892.9,1579.9 L894.5,1579.9 L896.1,1579.9 L897.8,1579.9 L899.4,1579.9 L901.0,1579.9 L902.7,1579.9 L904.3,1579.9 L905.9,1579.9 L907.6,1579.9 L909.2,1579.9 L910.8,1579.9 L912.4,1579.9 L914.1,1579.9 L915.7,1579.9 L917.3,1579.9 L919.0,1579.9 L920.6,1579.9 L922.2,1579.9 L923.9,1579.9 L925.5,1579.9 L927.1,1579.9 L928.8,1579.9 L930.4,1579.9 L932.0,1579.9 L933.7,1579.9 L935.3,1579.9 L936.9,1579.9 L938.5,1579.9 L940.2,1579.9 L941.8,1579.9 L943.4,1579.9 L945.1,1579.9 L946.7,1579.9 L948.3,1579.9 L950.0,1579.9 L951.6,1579.9 L953.2,1579.9 L954.9,1579.9 L956.5,1579.9 L958.1,1579.9 L959.8,1579.9 L961.4,1579.9 L963.0,1579.9 L964.6,1579.9 L966.3,1579.9 L967.9,1579.9 L969.5,1579.9 L971.2,1579.9 L972.8,1579.9 L974.4,1579.9 L976.1,1579.9 L977.7,1579.9 L979.3,1579.9 L981.0,1579.9 L982.6,1579.9 L984.2,1579.9 L985.8,1579.9 L987.5,1579.9 L989.1,1579.9 L990.7,1579.9 L992.4,1579.9 L994.0,1579.9 L995.6,1579.9 L997.3,1579.9 L998.9,1579.9 L1000.5,1579.9 L1002.2,1579.9 L1003.8,1579.9 L1005.4,1579.9 L1007.1,1580.0 L1008.7,1580.0 L1010.3,1580.0 L1011.9,1580.0 L1013.6,1580.0 L1015.2,1580.0 L1016.8,1580.0 L1018.5,1580.0 L1020.1,1580.0 L1021.7,1580.0 L1023.4,1580.0 L1025.0,1580.0 L1026.6,1580.0 L1028.3,1580.0 L1029.9,1580.0 L1031.5,1580.0 L1033.2,1580.0 L1034.8,1580.0 L1036.4,1580.0 L1038.0,1580.0 L1039.7,1580.0 L1041.3,1580.0 L1042.9,1580.0 L1044.6,1580.0 L1046.2,1580.0 L1047.8,1580.0 L1049.5,1580.0 L1051.1,1580.0 L1052.7,1580.0 L1054.4,1580.0 L1056.0,1580.0 L1057.6,1580.0 L1059.2,1580.0 L1060.9,1580.0 L1062.5,1580.0 L1064.1,1580.0 L1065.8,1580.0 L1067.4,1580.0 L1069.0,1580.0 L1070.7,1580.0 L1072.3,1580.0 L1073.9,1580.0 L1075.6,1580.0 L1077.2,1580.0 L1078.8,1580.0 L1080.5,1580.0 L1082.1,1580.0 L1082.1,1580.0Z" fill="#6a506e" fill-opacity="1.0" stroke="none"/>
<path d="M105.0,1580.0 L105.0,1572.2 L106.7,1572.2 L108.3,1572.1 L109.9,1572.1 L111.6,1572.0 L113.2,1572.0 L114.8,1571.9 L116.5,1571.9 L118.1,1571.8 L119.7,1571.8 L121.4,1571.7 L123.0,1571.7 L124.6,1571.6 L126.2,1571.6 L127.9,1571.5 L129.5,1571.5 L131.1,1571.4 L132.8,1571.4 L134.4,1571.3 L136.0,1571.3 L137.7,1571.2 L139.3,1571.2 L140.9,1571.1 L142.6,1571.0 L144.2,1571.0 L145.8,1570.9 L147.5,1570.9 L149.1,1570.8 L150.7,1570.7 L152.3,1570.7 L154.0,1570.6 L155.6,1570.6 L157.2,1570.5 L158.9,1570.4 L160.5,1570.4 L162.1,1570.3 L163.8,1570.2 L165.4,1570.2 L167.0,1570.1 L168.7,1570.0 L170.3,1570.0 L171.9,1569.9 L173.6,1569.8 L175.2,1569.8 L176.8,1569.7 L178.4,1569.6 L180.1,1569.5 L181.7,1569.5 L183.3,1569.4 L185.0,1569.3 L186.6,1569.2 L188.2,1569.2 L189.9,1569.1 L191.5,1569.0 L193.1,1568.9 L194.8,1568.8 L196.4,1568.8 L198.0,1568.7 L199.6,1568.6 L201.3,1568.5 L202.9,1568.4 L204.5,1568.3 L206.2,1568.2 L207.8,1568.1 L209.4,1568.0 L211.1,1568.0 L212.7,1567.9 L214.3,1567.8 L216.0,1567.7 L217.6,1567.6 L219.2,1567.5 L220.9,1567.4 L222.5,1567.3 L224.1,1567.2 L225.7,1567.1 L227.4,1567.0 L229.0,1566.8 L230.6,1566.7 L232.3,1566.6 L233.9,1566.5 L235.5,1566.4 L237.2,1566.3 L238.8,1566.2 L240.4,1566.0 L242.1,1565.9 L243.7,1565.8 L245.3,1565.7 L247.0,1565.6 L248.6,1565.4 L250.2,1565.3 L251.8,1565.2 L253.5,1565.0 L255.1,1564.9 L256.7,1564.8 L258.4,1564.6 L260.0,1564.5 L261.6,1564.3 L263.3,1564.2 L264.9,1564.1 L266.5,1563.9 L268.2,1563.8 L269.8,1563.6 L271.4,1563.4 L273.0,1563.3 L274.7,1563.1 L276.3,1563.0 L277.9,1562.8 L279.6,1562.6 L281.2,1562.5 L282.8,1562.3 L284.5,1562.1 L286.1,1561.9 L287.7,1561.8 L289.4,1561.6 L291.0,1561.4 L292.6,1561.2 L294.3,1561.0 L295.9,1560.8 L297.5,1560.6 L299.1,1560.4 L300.8,1560.2 L302.4,1560.0 L304.0,1559.8 L305.7,1559.6 L307.3,1559.4 L308.9,1559.1 L310.6,1558.9 L312.2,1558.7 L313.8,1558.4 L315.5,1558.2 L317.1,1558.0 L318.7,1557.7 L320.4,1557.5 L322.0,1557.2 L323.6,1556.9 L325.2,1556.7 L326.9,1556.4 L328.5,1556.1 L330.1,1555.9 L331.8,1555.6 L333.4,1555.3 L335.0,1555.0 L336.7,1554.7 L338.3,1554.4 L339.9,1554.1 L341.6,1553.8 L343.2,1553.4 L344.8,1553.1 L346.4,1552.8 L348.1,1552.4 L349.7,1552.1 L351.3,1551.7 L353.0,1551.4 L354.6,1551.0 L356.2,1550.6 L357.9,1550.3 L359.5,1549.9 L361.1,1549.5 L362.8,1549.1 L364.4,1548.7 L366.0,1548.2 L367.7,1547.8 L369.3,1547.4 L370.9,1546.9 L372.5,1546.5 L374.2,1546.0 L375.8,1545.5 L377.4,1545.1 L379.1,1544.6 L380.7,1544.1 L382.3,1543.6 L384.0,1543.0 L385.6,1542.5 L387.2,1541.9 L388.9,1541.4 L390.5,1540.8 L392.1,1540.2 L393.8,1539.6 L395.4,1539.0 L397.0,1538.4 L398.6,1537.8 L400.3,1537.1 L401.9,1536.5 L403.5,1535.8 L405.2,1535.1 L406.8,1534.4 L408.4,1533.7 L410.1,1532.9 L411.7,1532.2 L413.3,1531.4 L415.0,1530.6 L416.6,1529.8 L418.2,1529.0 L419.8,1528.1 L421.5,1527.2 L423.1,1526.3 L424.7,1525.4 L426.4,1524.5 L428.0,1523.6 L429.6,1522.6 L431.3,1521.6 L432.9,1520.6 L434.5,1519.5 L436.2,1518.4 L437.8,1517.3 L439.4,1516.2 L441.1,1515.1 L442.7,1513.9 L444.3,1512.7 L445.9,1511.4 L447.6,1510.1 L449.2,1508.8 L450.8,1507.5 L452.5,1506.2 L454.1,1504.8 L455.7,1503.3 L457.4,1501.9 L459.0,1500.3 L460.6,1498.8 L462.3,1497.2 L463.9,1495.6 L465.5,1494.0 L467.2,1492.3 L468.8,1490.5 L470.4,1488.7 L472.0,1486.9 L473.7,1485.1 L475.3,1483.1 L476.9,1481.2 L478.6,1479.2 L480.2,1477.1 L481.8,1475.0 L483.5,1472.9 L485.1,1470.7 L486.7,1468.5 L488.4,1466.2 L490.0,1463.9 L491.6,1461.5 L493.3,1459.1 L494.9,1456.6 L496.5,1454.0 L498.1,1451.5 L499.8,1448.8 L501.4,1446.2 L503.0,1443.4 L504.7,1440.7 L506.3,1437.9 L507.9,1435.0 L509.6,1432.2 L511.2,1429.2 L512.8,1426.3 L514.5,1423.3 L516.1,1420.3 L517.7,1417.2 L519.3,1414.2 L521.0,1411.1 L522.6,1408.0 L524.2,1404.9 L525.9,1401.8 L527.5,1398.7 L529.1,1395.6 L530.8,1392.6 L532.4,1389.5 L534.0,1386.5 L535.7,1383.6 L537.3,1380.6 L538.9,1377.8 L540.6,1375.0 L542.2,1372.3 L543.8,1369.7 L545.4,1367.1 L547.1,1364.7 L548.7,1362.4 L550.3,1360.2 L552.0,1358.1 L553.6,1356.2 L555.2,1354.4 L556.9,1352.8 L558.5,1351.4 L560.1,1350.1 L561.8,1349.0 L563.4,1348.1 L565.0,1347.4 L566.7,1346.8 L568.3,1346.5 L569.9,1346.3 L571.5,1346.3 L573.2,1346.6 L574.8,1347.0 L576.4,1347.6 L578.1,1348.5 L579.7,1349.5 L581.3,1350.6 L583.0,1352.0 L584.6,1353.5 L586.2,1355.2 L587.9,1357.0 L589.5,1359.0 L591.1,1361.1 L592.7,1363.4 L594.4,1365.7 L596.0,1368.2 L597.6,1370.8 L599.3,1373.4 L600.9,1376.2 L602.5,1379.0 L604.2,1381.9 L605.8,1384.8 L607.4,1387.8 L609.1,1390.8 L610.7,1393.9 L612.3,1396.9 L614.0,1400.0 L615.6,1403.1 L617.2,1406.2 L618.8,1409.3 L620.5,1412.4 L622.1,1415.5 L623.7,1418.5 L625.4,1421.6 L627.0,1424.6 L628.6,1427.5 L630.3,1430.5 L631.9,1433.4 L633.5,1436.3 L635.2,1439.1 L636.8,1441.9 L638.4,1444.6 L640.1,1447.3 L641.7,1450.0 L643.3,1452.6 L644.9,1455.1 L646.6,1457.6 L648.2,1460.1 L649.8,1462.5 L651.5,1464.9 L653.1,1467.2 L654.7,1469.4 L656.4,1471.7 L658.0,1473.8 L659.6,1475.9 L661.3,1478.0 L662.9,1480.0 L664.5,1482.0 L666.1,1484.0 L667.8,1485.9 L669.4,1487.7 L671.0,1489.5 L672.7,1491.3 L674.3,1493.0 L675.9,1494.7 L677.6,1496.3 L679.2,1497.9 L680.8,1499.5 L682.5,1501.0 L684.1,1502.5 L685.7,1503.9 L687.4,1505.4 L689.0,1506.7 L690.6,1508.1 L692.2,1509.4 L693.9,1510.7 L695.5,1512.0 L697.1,1513.2 L698.8,1514.4 L700.4,1515.5 L702.0,1516.7 L703.7,1517.8 L705.3,1518.9 L706.9,1520.0 L708.6,1521.0 L710.2,1522.0 L711.8,1523.0 L713.5,1524.0 L715.1,1524.9 L716.7,1525.8 L718.3,1526.7 L720.0,1527.6 L721.6,1528.5 L723.2,1529.3 L724.9,1530.1 L726.5,1530.9 L728.1,1531.7 L729.8,1532.5 L731.4,1533.2 L733.0,1534.0 L734.7,1534.7 L736.3,1535.4 L737.9,1536.1 L739.5,1536.8 L741.2,1537.4 L742.8,1538.1 L744.4,1538.7 L746.1,1539.3 L747.7,1539.9 L749.3,1540.5 L751.0,1541.1 L752.6,1541.6 L754.2,1542.2 L755.9,1542.7 L757.5,1543.3 L759.1,1543.8 L760.8,1544.3 L762.4,1544.8 L764.0,1545.3 L765.6,1545.7 L767.3,1546.2 L768.9,1546.7 L770.5,1547.1 L772.2,1547.6 L773.8,1548.0 L775.4,1548.4 L777.1,1548.8 L778.7,1549.3 L780.3,1549.7 L782.0,1550.0 L783.6,1550.4 L785.2,1550.8 L786.9,1551.2 L788.5,1551.5 L790.1,1551.9 L791.7,1552.2 L793.4,1552.6 L795.0,1552.9 L796.6,1553.3 L798.3,1553.6 L799.9,1553.9 L801.5,1554.2 L803.2,1554.5 L804.8,1554.8 L806.4,1555.1 L808.1,1555.4 L809.7,1555.7 L811.3,1556.0 L812.9,1556.3 L814.6,1556.5 L816.2,1556.8 L817.8,1557.1 L819.5,1557.3 L821.1,1557.6 L822.7,1557.8 L824.4,1558.1 L826.0,1558.3 L827.6,1558.5 L829.3,1558.8 L830.9,1559.0 L832.5,1559.2 L834.2,1559.4 L835.8,1559.7 L837.4,1559.9 L839.0,1560.1 L840.7,1560.3 L842.3,1560.5 L843.9,1560.7 L845.6,1560.9 L847.2,1561.1 L848.8,1561.3 L850.5,1561.5 L852.1,1561.7 L853.7,1561.8 L855.4,1562.0 L857.0,1562.2 L858.6,1562.4 L860.3,1562.5 L861.9,1562.7 L863.5,1562.9 L865.1,1563.0 L866.8,1563.2 L868.4,1563.4 L870.0,1563.5 L871.7,1563.7 L873.3,1563.8 L874.9,1564.0 L876.6,1564.1 L878.2,1564.3 L879.8,1564.4 L881.5,1564.5 L883.1,1564.7 L884.7,1564.8 L886.3,1565.0 L888.0,1565.1 L889.6,1565.2 L891.2,1565.4 L892.9,1565.5 L894.5,1565.6 L896.1,1565.7 L897.8,1565.9 L899.4,1566.0 L901.0,1566.1 L902.7,1566.2 L904.3,1566.3 L905.9,1566.4 L907.6,1566.6 L909.2,1566.7 L910.8,1566.8 L912.4,1566.9 L914.1,1567.0 L915.7,1567.1 L917.3,1567.2 L919.0,1567.3 L920.6,1567.4 L922.2,1567.5 L923.9,1567.6 L925.5,1567.7 L927.1,1567.8 L928.8,1567.9 L930.4,1568.0 L932.0,1568.1 L933.7,1568.2 L935.3,1568.3 L936.9,1568.4 L938.5,1568.4 L940.2,1568.5 L941.8,1568.6 L943.4,1568.7 L945.1,1568.8 L946.7,1568.9 L948.3,1569.0 L950.0,1569.0 L951.6,1569.1 L953.2,1569.2 L954.9,1569.3 L956.5,1569.3 L958.1,1569.4 L959.8,1569.5 L961.4,1569.6 L963.0,1569.6 L964.6,1569.7 L966.3,1569.8 L967.9,1569.9 L969.5,1569.9 L971.2,1570.0 L972.8,1570.1 L974.4,1570.1 L976.1,1570.2 L977.7,1570.3 L979.3,1570.3 L981.0,1570.4 L982.6,1570.5 L984.2,1570.5 L985.8,1570.6 L987.5,1570.7 L989.1,1570.7 L990.7,1570.8 L992.4,1570.8 L994.0,1570.9 L995.6,1571.0 L997.3,1571.0 L998.9,1571.1 L1000.5,1571.1 L1002.2,1571.2 L1003.8,1571.2 L1005.4,1571.3 L1007.1,1571.3 L1008.7,1571.4 L1010.3,1571.4 L1011.9,1571.5 L1013.6,1571.6 L1015.2,1571.6 L1016.8,1571.7 L1018.5,1571.7 L1020.1,1571.8 L1021.7,1571.8 L1023.4,1571.9 L1025.0,1571.9 L1026.6,1572.0 L1028.3,1572.0 L1029.9,1572.0 L1031.5,1572.1 L1033.2,1572.1 L1034.8,1572.2 L1036.4,1572.2 L1038.0,1572.3 L1039.7,1572.3 L1041.3,1572.4 L1042.9,1572.4 L1044.6,1572.4 L1046.2,1572.5 L1047.8,1572.5 L1049.5,1572.6 L1051.1,1572.6 L1052.7,1572.7 L1054.4,1572.7 L1056.0,1572.7 L1057.6,1572.8 L1059.2,1572.8 L1060.9,1572.9 L1062.5,1572.9 L1064.1,1572.9 L1065.8,1573.0 L1067.4,1573.0 L1069.0,1573.0 L1070.7,1573.1 L1072.3,1573.1 L1073.9,1573.1 L1075.6,1573.2 L1077.2,1573.2 L1078.8,1573.3 L1080.5,1573.3 L1082.1,1573.3 L1082.1,1580.0Z" fill="#0000a0" fill-opacity="1.0" stroke="none"/>
<path d="M105.0,1572.2 L106.7,1572.2 L108.3,1572.1 L109.9,1572.1 L111.6,1572.0 L113.2,1572.0 L114.8,1571.9 L116.5,1571.9 L118.1,1571.8 L119.7,1571.8 L121.4,1571.7 L123.0,1571.7 L124.6,1571.6 L126.2,1571.6 L127.9,1571.5 L129.5,1571.5 L131.1,1571.4 L132.8,1571.4 L134.4,1571.3 L136.0,1571.3 L137.7,1571.2 L139.3,1571.2 L140.9,1571.1 L142.6,1571.0 L144.2,1571.0 L145.8,1570.9 L147.5,1570.9 L149.1,1570.8 L150.7,1570.7 L152.3,1570.7 L154.0,1570.6 L155.6,1570.6 L157.2,1570.5 L158.9,1570.4 L160.5,1570.4 L162.1,1570.3 L163.8,1570.2 L165.4,1570.2 L167.0,1570.1 L168.7,1570.0 L170.3,1570.0 L171.9,1569.9 L173.6,1569.8 L175.2,1569.8 L176.8,1569.7 L178.4,1569.6 L180.1,1569.5 L181.7,1569.5 L183.3,1569.4 L185.0,1569.3 L186.6,1569.2 L188.2,1569.2 L189.9,1569.1 L191.5,1569.0 L193.1,1568.9 L194.8,1568.8 L196.4,1568.8 L198.0,1568.7 L199.6,1568.6 L201.3,1568.5 L202.9,1568.4 L204.5,1568.3 L206.2,1568.2 L207.8,1568.1 L209.4,1568.0 L211.1,1568.0 L212.7,1567.9 L214.3,1567.8 L216.0,1567.7 L217.6,1567.6 L219.2,1567.5 L220.9,1567.4 L222.5,1567.3 L224.1,1567.2 L225.7,1567.1 L227.4,1567.0 L229.0,1566.8 L230.6,1566.7 L232.3,1566.6 L233.9,1566.5 L235.5,1566.4 L237.2,1566.3 L238.8,1566.2 L240.4,1566.0 L242.1,1565.9 L243.7,1565.8 L245.3,1565.7 L247.0,1565.6 L248.6,1565.4 L250.2,1565.3 L251.8,1565.2 L253.5,1565.0 L255.1,1564.9 L256.7,1564.8 L258.4,1564.6 L260.0,1564.5 L261.6,1564.3 L263.3,1564.2 L264.9,1564.1 L266.5,1563.9 L268.2,1563.8 L269.8,1563.6 L271.4,1563.4 L273.0,1563.3 L274.7,1563.1 L276.3,1563.0 L277.9,1562.8 L279.6,1562.6 L281.2,1562.5 L282.8,1562.3 L284.5,1562.1 L286.1,1561.9 L287.7,1561.8 L289.4,1561.6 L291.0,1561.4 L292.6,1561.2 L294.3,1561.0 L295.9,1560.8 L297.5,1560.6 L299.1,1560.4 L300.8,1560.2 L302.4,1560.0 L304.0,1559.8 L305.7,1559.6 L307.3,1559.4 L308.9,1559.1 L310.6,1558.9 L312.2,1558.7 L313.8,1558.4 L315.5,1558.2 L317.1,1558.0 L318.7,1557.7 L320.4,1557.5 L322.0,1557.2 L323.6,1556.9 L325.2,1556.7 L326.9,1556.4 L328.5,1556.1 L330.1,1555.9 L331.8,1555.6 L333.4,1555.3 L335.0,1555.0 L336.7,1554.7 L338.3,1554.4 L339.9,1554.1 L341.6,1553.8 L343.2,1553.4 L344.8,1553.1 L346.4,1552.8 L348.1,1552.4 L349.7,1552.1 L351.3,1551.7 L353.0,1551.4 L354.6,1551.0 L356.2,1550.6 L357.9,1550.3 L359.5,1549.9 L361.1,1549.5 L362.8,1549.1 L364.4,1548.7 L366.0,1548.2 L367.7,1547.8 L369.3,1547.4 L370.9,1546.9 L372.5,1546.5 L374.2,1546.0 L375.8,1545.5 L377.4,1545.1 L379.1,1544.6 L380.7,1544.1 L382.3,1543.6 L384.0,1543.0 L385.6,1542.5 L387.2,1541.9 L388.9,1541.4 L390.5,1540.8 L392.1,1540.2 L393.8,1539.6 L395.4,1539.0 L397.0,1538.4 L398.6,1537.8 L400.3,1537.1 L401.9,1536.5 L403.5,1535.8 L405.2,1535.1 L406.8,1534.4 L408.4,1533.7 L410.1,1532.9 L411.7,1532.2 L413.3,1531.4 L415.0,1530.6 L416.6,1529.8 L418.2,1529.0 L419.8,1528.1 L421.5,1527.2 L423.1,1526.3 L424.7,1525.4 L426.4,1524.5 L428.0,1523.6 L429.6,1522.6 L431.3,1521.6 L432.9,1520.6 L434.5,1519.5 L436.2,1518.4 L437.8,1517.3 L439.4,1516.2 L441.1,1515.1 L442.7,1513.9 L444.3,1512.7 L445.9,1511.4 L447.6,1510.1 L449.2,1508.8 L450.8,1507.5 L452.5,1506.2 L454.1,1504.8 L455.7,1503.3 L457.4,1501.9 L459.0,1500.3 L460.6,1498.8 L462.3,1497.2 L463.9,1495.6 L465.5,1494.0 L467.2,1492.3 L468.8,1490.5 L470.4,1488.7 L472.0,1486.9 L473.7,1485.1 L475.3,1483.1 L476.9,1481.2 L478.6,1479.2 L480.2,1477.1 L481.8,1475.0 L483.5,1472.9 L485.1,1470.7 L486.7,1468.5 L488.4,1466.2 L490.0,1463.9 L491.6,1461.5 L493.3,1459.1 L494.9,1456.6 L496.5,1454.0 L498.1,1451.5 L499.8,1448.8 L501.4,1446.2 L503.0,1443.4 L504.7,1440.7 L506.3,1437.9 L507.9,1435.0 L509.6,1432.2 L511.2,1429.2 L512.8,1426.3 L514.5,1423.3 L516.1,1420.3 L517.7,1417.2 L519.3,1414.2 L521.0,1411.1 L522.6,1408.0 L524.2,1404.9 L525.9,1401.8 L527.5,1398.7 L529.1,1395.6 L530.8,1392.6 L532.4,1389.5 L534.0,1386.5 L535.7,1383.6 L537.3,1380.6 L538.9,1377.8 L540.6,1375.0 L542.2,1372.3 L543.8,1369.7 L545.4,1367.1 L547.1,1364.7 L548.7,1362.4 L550.3,1360.2 L552.0,1358.1 L553.6,1356.2 L555.2,1354.4 L556.9,1352.8 L558.5,1351.4 L560.1,1350.1 L561.8,1349.0 L563.4,1348.1 L565.0,1347.4 L566.7,1346.8 L568.3,1346.5 L569.9,1346.3 L571.5,1346.3 L573.2,1346.6 L574.8,1347.0 L576.4,1347.6 L578.1,1348.5 L579.7,1349.5 L581.3,1350.6 L583.0,1352.0 L584.6,1353.5 L586.2,1355.2 L587.9,1357.0 L589.5,1359.0 L591.1,1361.1 L592.7,1363.4 L594.4,1365.7 L596.0,1368.2 L597.6,1370.8 L599.3,1373.4 L600.9,1376.2 L602.5,1379.0 L604.2,1381.9 L605.8,1384.8 L607.4,1387.8 L609.1,1390.8 L610.7,1393.9 L612.3,1396.9 L614.0,1400.0 L615.6,1403.1 L617.2,1406.2 L618.8,1409.3 L620.5,1412.4 L622.1,1415.5 L623.7,1418.5 L625.4,1421.6 L627.0,1424.6 L628.6,1427.5 L630.3,1430.5 L631.9,1433.4 L633.5,1436.3 L635.2,1439.1 L636.8,1441.9 L638.4,1444.6 L640.1,1447.3 L641.7,1450.0 L643.3,1452.6 L644.9,1455.1 L646.6,1457.6 L648.2,1460.1 L649.8,1462.5 L651.5,1464.9 L653.1,1467.2 L654.7,1469.4 L656.4,1471.7 L658.0,1473.8 L659.6,1475.9 L661.3,1478.0 L662.9,1480.0 L664.5,1482.0 L666.1,1484.0 L667.8,1485.9 L669.4,1487.7 L671.0,1489.5 L672.7,1491.3 L674.3,1493.0 L675.9,1494.7 L677.6,1496.3 L679.2,1497.9 L680.8,1499.5 L682.5,1501.0 L684.1,1502.5 L685.7,1503.9 L687.4,1505.4 L689.0,1506.7 L690.6,1508.1 L692.2,1509.4 L693.9,1510.7 L695.5,1512.0 L697.1,1513.2 L698.8,1514.4 L700.4,1515.5 L702.0,1516.7 L703.7,1517.8 L705.3,1518.9 L706.9,1520.0 L708.6,1521.0 L710.2,1522.0 L711.8,1523.0 L713.5,1524.0 L715.1,1524.9 L716.7,1525.8 L718.3,1526.7 L720.0,1527.6 L721.6,1528.5 L723.2,1529.3 L724.9,1530.1 L726.5,1530.9 L728.1,1531.7 L729.8,1532.5 L731.4,1533.2 L733.0,1534.0 L734.7,1534.7 L736.3,1535.4 L737.9,1536.1 L739.5,1536.8 L741.2,1537.4 L742.8,1538.1 L744.4,1538.7 L746.1,1539.3 L747.7,1539.9 L749.3,1540.5 L751.0,1541.1 L752.6,1541.6 L754.2,1542.2 L755.9,1542.7 L757.5,1543.3 L759.1,1543.8 L760.8,1544.3 L762.4,1544.8 L764.0,1545.3 L765.6,1545.7 L767.3,1546.2 L768.9,1546.7 L770.5,1547.1 L772.2,1547.6 L773.8,1548.0 L775.4,1548.4 L777.1,1548.8 L778.7,1549.3 L780.3,1549.7 L782.0,1550.0 L783.6,1550.4 L785.2,1550.8 L786.9,1551.2 L788.5,1551.5 L790.1,1551.9 L791.7,1552.2 L793.4,1552.6 L795.0,1552.9 L796.6,1553.3 L798.3,1553.6 L799.9,1553.9 L801.5,1554.2 L803.2,1554.5 L804.8,1554.8 L806.4,1555.1 L808.1,1555.4 L809.7,1555.7 L811.3,1556.0 L812.9,1556.3 L814.6,1556.5 L816.2,1556.8 L817.8,1557.1 L819.5,1557.3 L821.1,1557.6 L822.7,1557.8 L824.4,1558.1 L826.0,1558.3 L827.6,1558.5 L829.3,1558.8 L830.9,1559.0 L832.5,1559.2 L834.2,1559.4 L835.8,1559.7 L837.4,1559.9 L839.0,1560.1 L840.7,1560.3 L842.3,1560.5 L843.9,1560.7 L845.6,1560.9 L847.2,1561.1 L848.8,1561.3 L850.5,1561.5 L852.1,1561.7 L853.7,1561.8 L855.4,1562.0 L857.0,1562.2 L858.6,1562.4 L860.3,1562.5 L861.9,1562.7 L863.5,1562.9 L865.1,1563.0 L866.8,1563.2 L868.4,1563.4 L870.0,1563.5 L871.7,1563.7 L873.3,1563.8 L874.9,1564.0 L876.6,1564.1 L878.2,1564.3 L879.8,1564.4 L881.5,1564.5 L883.1,1564.7 L884.7,1564.8 L886.3,1565.0 L888.0,1565.1 L889.6,1565.2 L891.2,1565.4 L892.9,1565.5 L894.5,1565.6 L896.1,1565.7 L897.8,1565.9 L899.4,1566.0 L901.0,1566.1 L902.7,1566.2 L904.3,1566.3 L905.9,1566.4 L907.6,1566.6 L909.2,1566.7 L910.8,1566.8 L912.4,1566.9 L914.1,1567.0 L915.7,1567.1 L917.3,1567.2 L919.0,1567.3 L920.6,1567.4 L922.2,1567.5 L923.9,1567.6 L925.5,1567.7 L927.1,1567.8 L928.8,1567.9 L930.4,1568.0 L932.0,1568.1 L933.7,1568.2 L935.3,1568.3 L936.9,1568.4 L938.5,1568.4 L940.2,1568.5 L941.8,1568.6 L943.4,1568.7 L945.1,1568.8 L946.7,1568.9 L948.3,1569.0 L950.0,1569.0 L951.6,1569.1 L953.2,1569.2 L954.9,1569.3 L956.5,1569.3 L958.1,1569.4 L959.8,1569.5 L961.4,1569.6 L963.0,1569.6 L964.6,1569.7 L966.3,1569.8 L967.9,1569.9 L969.5,1569.9 L971.2,1570.0 L972.8,1570.1 L974.4,1570.1 L976.1,1570.2 L977.7,1570.3 L979.3,1570.3 L981.0,1570.4 L982.6,1570.5 L984.2,1570.5 L985.8,1570.6 L987.5,1570.7 L989.1,1570.7 L990.7,1570.8 L992.4,1570.8 L994.0,1570.9 L995.6,1571.0 L997.3,1571.0 L998.9,1571.1 L1000.5,1571.1 L1002.2,1571.2 L1003.8,1571.2 L1005.4,1571.3 L1007.1,1571.3 L1008.7,1571.4 L1010.3,1571.4 L1011.9,1571.5 L1013.6,1571.6 L1015.2,1571.6 L1016.8,1571.7 L1018.5,1571.7 L1020.1,1571.8 L1021.7,1571.8 L1023.4,1571.9 L1025.0,1571.9 L1026.6,1572.0 L1028.3,1572.0 L1029.9,1572.0 L1031.5,1572.1 L1033.2,1572.1 L1034.8,1572.2 L1036.4,1572.2 L1038.0,1572.3 L1039.7,1572.3 L1041.3,1572.4 L1042.9,1572.4 L1044.6,1572.4 L1046.2,1572.5 L1047.8,1572.5 L1049.5,1572.6 L1051.1,1572.6 L1052.7,1572.7 L1054.4,1572.7 L1056.0,1572.7 L1057.6,1572.8 L1059.2,1572.8 L1060.9,1572.9 L1062.5,1572.9 L1064.1,1572.9 L1065.8,1573.0 L1067.4,1573.0 L1069.0,1573.0 L1070.7,1573.1 L1072.3,1573.1 L1073.9,1573.1 L1075.6,1573.2 L1077.2,1573.2 L1078.8,1573.3 L1080.5,1573.3 L1082.1,1573.3" fill="none" stroke="#0000a0" stroke-width="3.0"/>
<path d="M105.0,1579.0 L105.0,1578.7 L106.7,1578.7 L108.3,1578.7 L109.9,1578.7 L111.6,1578.7 L113.2,1578.7 L114.8,1578.7 L116.5,1578.7 L118.1,1578.7 L119.7,1578.7 L121.4,1578.7 L123.0,1578.6 L124.6,1578.6 L126.2,1578.6 L127.9,1578.6 L129.5,1578.6 L131.1,1578.6 L132.8,1578.6 L134.4,1578.6 L136.0,1578.6 L137.7,1578.6 L139.3,1578.6 L140.9,1578.6 L142.6,1578.6 L144.2,1578.6 L145.8,1578.5 L147.5,1578.5 L149.1,1578.5 L150.7,1578.5 L152.3,1578.5 L154.0,1578.5 L155.6,1578.5 L157.2,1578.5 L158.9,1578.5 L160.5,1578.5 L162.1,1578.5 L163.8,1578.5 L165.4,1578.5 L167.0,1578.4 L168.7,1578.4 L170.3,1578.4 L171.9,1578.4 L173.6,1578.4 L175.2,1578.4 L176.8,1578.4 L178.4,1578.4 L180.1,1578.4 L181.7,1578.4 L183.3,1578.4 L185.0,1578.4 L186.6,1578.3 L188.2,1578.3 L189.9,1578.3 L191.5,1578.3 L193.1,1578.3 L194.8,1578.3 L196.4,1578.3 L198.0,1578.3 L199.6,1578.3 L201.3,1578.3 L202.9,1578.3 L204.5,1578.2 L206.2,1578.2 L207.8,1578.2 L209.4,1578.2 L211.1,1578.2 L212.7,1578.2 L214.3,1578.2 L216.0,1578.2 L217.6,1578.2 L219.2,1578.2 L220.9,1578.1 L222.5,1578.1 L224.1,1578.1 L225.7,1578.1 L227.4,1578.1 L229.0,1578.1 L230.6,1578.1 L232.3,1578.1 L233.9,1578.1 L235.5,1578.0 L237.2,1578.0 L238.8,1578.0 L240.4,1578.0 L242.1,1578.0 L243.7,1578.0 L245.3,1578.0 L247.0,1578.0 L248.6,1578.0 L250.2,1577.9 L251.8,1577.9 L253.5,1577.9 L255.1,1577.9 L256.7,1577.9 L258.4,1577.9 L260.0,1577.9 L261.6,1577.9 L263.3,1577.8 L264.9,1577.8 L266.5,1577.8 L268.2,1577.8 L269.8,1577.8 L271.4,1577.8 L273.0,1577.8 L274.7,1577.7 L276.3,1577.7 L277.9,1577.7 L279.6,1577.7 L281.2,1577.7 L282.8,1577.7 L284.5,1577.7 L286.1,1577.6 L287.7,1577.6 L289.4,1577.6 L291.0,1577.6 L292.6,1577.6 L294.3,1577.6 L295.9,1577.6 L297.5,1577.5 L299.1,1577.5 L300.8,1577.5 L302.4,1577.5 L304.0,1577.5 L305.7,1577.5 L307.3,1577.4 L308.9,1577.4 L310.6,1577.4 L312.2,1577.4 L313.8,1577.4 L315.5,1577.3 L317.1,1577.3 L318.7,1577.3 L320.4,1577.3 L322.0,1577.3 L323.6,1577.3 L325.2,1577.2 L326.9,1577.2 L328.5,1577.2 L330.1,1577.2 L331.8,1577.2 L333.4,1577.1 L335.0,1577.1 L336.7,1577.1 L338.3,1577.1 L339.9,1577.1 L341.6,1577.0 L343.2,1577.0 L344.8,1577.0 L346.4,1577.0 L348.1,1576.9 L349.7,1576.9 L351.3,1576.9 L353.0,1576.9 L354.6,1576.9 L356.2,1576.8 L357.9,1576.8 L359.5,1576.8 L361.1,1576.8 L362.8,1576.7 L364.4,1576.7 L366.0,1576.7 L367.7,1576.7 L369.3,1576.6 L370.9,1576.6 L372.5,1576.6 L374.2,1576.6 L375.8,1576.5 L377.4,1576.5 L379.1,1576.5 L380.7,1576.5 L382.3,1576.4 L384.0,1576.4 L385.6,1576.4 L387.2,1576.3 L388.9,1576.3 L390.5,1576.3 L392.1,1576.3 L393.8,1576.2 L395.4,1576.2 L397.0,1576.2 L398.6,1576.1 L400.3,1576.1 L401.9,1576.1 L403.5,1576.0 L405.2,1576.0 L406.8,1576.0 L408.4,1575.9 L410.1,1575.9 L411.7,1575.9 L413.3,1575.8 L415.0,1575.8 L416.6,1575.8 L418.2,1575.7 L419.8,1575.7 L421.5,1575.7 L423.1,1575.6 L424.7,1575.6 L426.4,1575.5 L428.0,1575.5 L429.6,1575.5 L431.3,1575.4 L432.9,1575.4 L434.5,1575.3 L436.2,1575.3 L437.8,1575.3 L439.4,1575.2 L441.1,1575.2 L442.7,1575.1 L444.3,1575.1 L445.9,1575.0 L447.6,1575.0 L449.2,1574.9 L450.8,1574.9 L452.5,1574.8 L454.1,1574.8 L455.7,1574.7 L457.4,1574.7 L459.0,1574.6 L460.6,1574.6 L462.3,1574.5 L463.9,1574.5 L465.5,1574.4 L467.2,1574.4 L468.8,1574.3 L470.4,1574.3 L472.0,1574.2 L473.7,1574.2 L475.3,1574.1 L476.9,1574.0 L478.6,1574.0 L480.2,1573.9 L481.8,1573.9 L483.5,1573.8 L485.1,1573.7 L486.7,1573.7 L488.4,1573.6 L490.0,1573.5 L491.6,1573.5 L493.3,1573.4 L494.9,1573.3 L496.5,1573.3 L498.1,1573.2 L499.8,1573.1 L501.4,1573.0 L503.0,1573.0 L504.7,1572.9 L506.3,1572.8 L507.9,1572.7 L509.6,1572.6 L511.2,1572.6 L512.8,1572.5 L514.5,1572.4 L516.1,1572.3 L517.7,1572.2 L519.3,1572.1 L521.0,1572.0 L522.6,1571.9 L524.2,1571.9 L525.9,1571.8 L527.5,1571.7 L529.1,1571.6 L530.8,1571.5 L532.4,1571.4 L534.0,1571.3 L535.7,1571.1 L537.3,1571.0 L538.9,1570.9 L540.6,1570.8 L542.2,1570.7 L543.8,1570.6 L545.4,1570.5 L547.1,1570.3 L548.7,1570.2 L550.3,1570.1 L552.0,1570.0 L553.6,1569.8 L555.2,1569.7 L556.9,1569.6 L558.5,1569.4 L560.1,1569.3 L561.8,1569.2 L563.4,1569.0 L565.0,1568.9 L566.7,1568.7 L568.3,1568.6 L569.9,1568.4 L571.5,1568.2 L573.2,1568.1 L574.8,1567.9 L576.4,1567.7 L578.1,1567.6 L579.7,1567.4 L581.3,1567.2 L583.0,1567.0 L584.6,1566.8 L586.2,1566.6 L587.9,1566.4 L589.5,1566.2 L591.1,1566.0 L592.7,1565.8 L594.4,1565.6 L596.0,1565.3 L597.6,1565.1 L599.3,1564.9 L600.9,1564.6 L602.5,1564.4 L604.2,1564.1 L605.8,1563.9 L607.4,1563.6 L609.1,1563.3 L610.7,1563.1 L612.3,1562.8 L614.0,1562.5 L615.6,1562.2 L617.2,1561.9 L618.8,1561.6 L620.5,1561.2 L622.1,1560.9 L623.7,1560.6 L625.4,1560.2 L627.0,1559.8 L628.6,1559.5 L630.3,1559.1 L631.9,1558.7 L633.5,1558.3 L635.2,1557.8 L636.8,1557.4 L638.4,1557.0 L640.1,1556.5 L641.7,1556.0 L643.3,1555.5 L644.9,1555.0 L646.6,1554.5 L648.2,1553.9 L649.8,1553.4 L651.5,1552.8 L653.1,1552.2 L654.7,1551.6 L656.4,1551.0 L658.0,1550.3 L659.6,1549.6 L661.3,1548.9 L662.9,1548.2 L664.5,1547.4 L666.1,1546.7 L667.8,1545.9 L669.4,1545.0 L671.0,1544.2 L672.7,1543.3 L674.3,1542.4 L675.9,1541.4 L677.6,1540.4 L679.2,1539.4 L680.8,1538.3 L682.5,1537.3 L684.1,1536.1 L685.7,1535.0 L687.4,1533.8 L689.0,1532.5 L690.6,1531.2 L692.2,1529.9 L693.9,1528.5 L695.5,1527.1 L697.1,1525.6 L698.8,1524.1 L700.4,1522.6 L702.0,1521.0 L703.7,1519.3 L705.3,1517.6 L706.9,1515.8 L708.6,1514.0 L710.2,1512.1 L711.8,1510.2 L713.5,1508.2 L715.1,1506.2 L716.7,1504.1 L718.3,1501.9 L720.0,1499.7 L721.6,1497.4 L723.2,1495.1 L724.9,1492.7 L726.5,1490.2 L728.1,1487.7 L729.8,1485.2 L731.4,1482.5 L733.0,1479.9 L734.7,1477.1 L736.3,1474.4 L737.9,1471.5 L739.5,1468.6 L741.2,1465.7 L742.8,1462.8 L744.4,1459.8 L746.1,1456.7 L747.7,1453.7 L749.3,1450.6 L751.0,1447.5 L752.6,1444.5 L754.2,1441.4 L755.9,1438.3 L757.5,1435.3 L759.1,1432.2 L760.8,1429.3 L762.4,1426.4 L764.0,1423.5 L765.6,1420.7 L767.3,1418.1 L768.9,1415.5 L770.5,1413.1 L772.2,1410.7 L773.8,1408.6 L775.4,1406.6 L777.1,1404.7 L778.7,1403.1 L780.3,1401.6 L782.0,1400.4 L783.6,1399.4 L785.2,1398.5 L786.9,1398.0 L788.5,1397.6 L790.1,1397.5 L791.7,1397.6 L793.4,1398.0 L795.0,1398.6 L796.6,1399.4 L798.3,1400.4 L799.9,1401.7 L801.5,1403.2 L803.2,1404.8 L804.8,1406.7 L806.4,1408.7 L808.1,1410.8 L809.7,1413.2 L811.3,1415.6 L812.9,1418.2 L814.6,1420.9 L816.2,1423.6 L817.8,1426.5 L819.5,1429.4 L821.1,1432.4 L822.7,1435.4 L824.4,1438.4 L826.0,1441.5 L827.6,1444.6 L829.3,1447.7 L830.9,1450.8 L832.5,1453.8 L834.2,1456.9 L835.8,1459.9 L837.4,1462.9 L839.0,1465.9 L840.7,1468.8 L842.3,1471.7 L843.9,1474.5 L845.6,1477.3 L847.2,1480.0 L848.8,1482.7 L850.5,1485.3 L852.1,1487.9 L853.7,1490.4 L855.4,1492.8 L857.0,1495.2 L858.6,1497.5 L860.3,1499.8 L861.9,1502.0 L863.5,1504.2 L865.1,1506.3 L866.8,1508.3 L868.4,1510.3 L870.0,1512.2 L871.7,1514.1 L873.3,1515.9 L874.9,1517.7 L876.6,1519.4 L878.2,1521.0 L879.8,1522.6 L881.5,1524.2 L883.1,1525.7 L884.7,1527.2 L886.3,1528.6 L888.0,1530.0 L889.6,1531.3 L891.2,1532.6 L892.9,1533.8 L894.5,1535.0 L896.1,1536.2 L897.8,1537.3 L899.4,1538.4 L901.0,1539.4 L902.7,1540.5 L904.3,1541.4 L905.9,1542.4 L907.6,1543.3 L909.2,1544.2 L910.8,1545.1 L912.4,1545.9 L914.1,1546.7 L915.7,1547.5 L917.3,1548.2 L919.0,1548.9 L920.6,1549.7 L922.2,1550.3 L923.9,1551.0 L925.5,1551.6 L927.1,1552.2 L928.8,1552.8 L930.4,1553.4 L932.0,1554.0 L933.7,1554.5 L935.3,1555.0 L936.9,1555.5 L938.5,1556.0 L940.2,1556.5 L941.8,1557.0 L943.4,1557.4 L945.1,1557.9 L946.7,1558.3 L948.3,1558.7 L950.0,1559.1 L951.6,1559.5 L953.2,1559.8 L954.9,1560.2 L956.5,1560.6 L958.1,1560.9 L959.8,1561.2 L961.4,1561.6 L963.0,1561.9 L964.6,1562.2 L966.3,1562.5 L967.9,1562.8 L969.5,1563.1 L971.2,1563.4 L972.8,1563.6 L974.4,1563.9 L976.1,1564.2 L977.7,1564.4 L979.3,1564.7 L981.0,1564.9 L982.6,1565.1 L984.2,1565.4 L985.8,1565.6 L987.5,1565.8 L989.1,1566.0 L990.7,1566.2 L992.4,1566.4 L994.0,1566.6 L995.6,1566.8 L997.3,1567.0 L998.9,1567.2 L1000.5,1567.4 L1002.2,1567.6 L1003.8,1567.7 L1005.4,1567.9 L1007.1,1568.1 L1008.7,1568.2 L1010.3,1568.4 L1011.9,1568.6 L1013.6,1568.7 L1015.2,1568.9 L1016.8,1569.0 L1018.5,1569.2 L1020.1,1569.3 L1021.7,1569.4 L1023.4,1569.6 L1025.0,1569.7 L1026.6,1569.8 L1028.3,1570.0 L1029.9,1570.1 L1031.5,1570.2 L1033.2,1570.4 L1034.8,1570.5 L1036.4,1570.6 L1038.0,1570.7 L1039.7,1570.8 L1041.3,1570.9 L1042.9,1571.0 L1044.6,1571.2 L1046.2,1571.3 L1047.8,1571.4 L1049.5,1571.5 L1051.1,1571.6 L1052.7,1571.7 L1054.4,1571.8 L1056.0,1571.9 L1057.6,1571.9 L1059.2,1572.0 L1060.9,1572.1 L1062.5,1572.2 L1064.1,1572.3 L1065.8,1572.4 L1067.4,1572.5 L1069.0,1572.6 L1070.7,1572.6 L1072.3,1572.7 L1073.9,1572.8 L1075.6,1572.9 L1077.2,1573.0 L1078.8,1573.0 L1080.5,1573.1 L1082.1,1573.2 L1082.1,1579.0Z" fill="#7f00ff" fill-opacity="1.0" stroke="none"/>
<defs><linearGradient id="dkb" gradientUnits="userSpaceOnUse" x1="900" y1="0" x2="1081" y2="0"><stop offset="0" stop-color="#5a00c8" stop-opacity="0"/><stop offset="0.5" stop-color="#5a00c8" stop-opacity="0.9"/><stop offset="1" stop-color="#5a00c8" stop-opacity="0.9"/></linearGradient></defs>
<path d="M900,1576.4 L1081,1575.0" fill="none" stroke="url(#dkb)" stroke-width="3"/>
<line x1="105.3" y1="1580.0" x2="1081" y2="1580.0" stroke="#ff00ff" stroke-width="3.6"/>
<path d="M105.0,1579.1 L106.7,1579.1 L108.3,1579.1 L109.9,1579.1 L111.6,1579.1 L113.2,1579.1 L114.8,1579.1 L116.5,1579.1 L118.1,1579.1 L119.7,1579.1 L121.4,1579.1 L123.0,1579.0 L124.6,1579.0 L126.2,1579.0 L127.9,1579.0 L129.5,1579.0 L131.1,1579.0 L132.8,1579.0 L134.4,1579.0 L136.0,1579.0 L137.7,1579.0 L139.3,1579.0 L140.9,1579.0 L142.6,1579.0 L144.2,1579.0 L145.8,1578.9 L147.5,1578.9 L149.1,1578.9 L150.7,1578.9 L152.3,1578.9 L154.0,1578.9 L155.6,1578.9 L157.2,1578.9 L158.9,1578.9 L160.5,1578.9 L162.1,1578.9 L163.8,1578.9 L165.4,1578.9 L167.0,1578.8 L168.7,1578.8 L170.3,1578.8 L171.9,1578.8 L173.6,1578.8 L175.2,1578.8 L176.8,1578.8 L178.4,1578.8 L180.1,1578.8 L181.7,1578.8 L183.3,1578.8 L185.0,1578.8 L186.6,1578.7 L188.2,1578.7 L189.9,1578.7 L191.5,1578.7 L193.1,1578.7 L194.8,1578.7 L196.4,1578.7 L198.0,1578.7 L199.6,1578.7 L201.3,1578.7 L202.9,1578.7 L204.5,1578.6 L206.2,1578.6 L207.8,1578.6 L209.4,1578.6 L211.1,1578.6 L212.7,1578.6 L214.3,1578.6 L216.0,1578.6 L217.6,1578.6 L219.2,1578.6 L220.9,1578.5 L222.5,1578.5 L224.1,1578.5 L225.7,1578.5 L227.4,1578.5 L229.0,1578.5 L230.6,1578.5 L232.3,1578.5 L233.9,1578.5 L235.5,1578.4 L237.2,1578.4 L238.8,1578.4 L240.4,1578.4 L242.1,1578.4 L243.7,1578.4 L245.3,1578.4 L247.0,1578.4 L248.6,1578.4 L250.2,1578.3 L251.8,1578.3 L253.5,1578.3 L255.1,1578.3 L256.7,1578.3 L258.4,1578.3 L260.0,1578.3 L261.6,1578.3 L263.3,1578.2 L264.9,1578.2 L266.5,1578.2 L268.2,1578.2 L269.8,1578.2 L271.4,1578.2 L273.0,1578.2 L274.7,1578.1 L276.3,1578.1 L277.9,1578.1 L279.6,1578.1 L281.2,1578.1 L282.8,1578.1 L284.5,1578.1 L286.1,1578.0 L287.7,1578.0 L289.4,1578.0 L291.0,1578.0 L292.6,1578.0 L294.3,1578.0 L295.9,1578.0 L297.5,1577.9 L299.1,1577.9 L300.8,1577.9 L302.4,1577.9 L304.0,1577.9 L305.7,1577.9 L307.3,1577.8 L308.9,1577.8 L310.6,1577.8 L312.2,1577.8 L313.8,1577.8 L315.5,1577.7 L317.1,1577.7 L318.7,1577.7 L320.4,1577.7 L322.0,1577.7 L323.6,1577.7 L325.2,1577.6 L326.9,1577.6 L328.5,1577.6 L330.1,1577.6 L331.8,1577.6 L333.4,1577.5 L335.0,1577.5 L336.7,1577.5 L338.3,1577.5 L339.9,1577.5 L341.6,1577.4 L343.2,1577.4 L344.8,1577.4 L346.4,1577.4 L348.1,1577.3 L349.7,1577.3 L351.3,1577.3 L353.0,1577.3 L354.6,1577.3 L356.2,1577.2 L357.9,1577.2 L359.5,1577.2 L361.1,1577.2 L362.8,1577.1 L364.4,1577.1 L366.0,1577.1 L367.7,1577.1 L369.3,1577.0 L370.9,1577.0 L372.5,1577.0 L374.2,1577.0 L375.8,1576.9 L377.4,1576.9 L379.1,1576.9 L380.7,1576.9 L382.3,1576.8 L384.0,1576.8 L385.6,1576.8 L387.2,1576.7 L388.9,1576.7 L390.5,1576.7 L392.1,1576.7 L393.8,1576.6 L395.4,1576.6 L397.0,1576.6 L398.6,1576.5 L400.3,1576.5 L401.9,1576.5 L403.5,1576.4 L405.2,1576.4 L406.8,1576.4 L408.4,1576.3 L410.1,1576.3 L411.7,1576.3 L413.3,1576.2 L415.0,1576.2 L416.6,1576.2 L418.2,1576.1 L419.8,1576.1 L421.5,1576.1 L423.1,1576.0 L424.7,1576.0 L426.4,1575.9 L428.0,1575.9 L429.6,1575.9 L431.3,1575.8 L432.9,1575.8 L434.5,1575.7 L436.2,1575.7 L437.8,1575.7 L439.4,1575.6 L441.1,1575.6 L442.7,1575.5 L444.3,1575.5 L445.9,1575.4 L447.6,1575.4 L449.2,1575.3 L450.8,1575.3 L452.5,1575.2 L454.1,1575.2 L455.7,1575.1 L457.4,1575.1 L459.0,1575.0 L460.6,1575.0 L462.3,1574.9 L463.9,1574.9 L465.5,1574.8 L467.2,1574.8 L468.8,1574.7 L470.4,1574.7 L472.0,1574.6 L473.7,1574.6 L475.3,1574.5 L476.9,1574.4 L478.6,1574.4 L480.2,1574.3 L481.8,1574.3 L483.5,1574.2 L485.1,1574.1 L486.7,1574.1 L488.4,1574.0 L490.0,1573.9 L491.6,1573.9 L493.3,1573.8 L494.9,1573.7 L496.5,1573.7 L498.1,1573.6 L499.8,1573.5 L501.4,1573.4 L503.0,1573.4 L504.7,1573.3 L506.3,1573.2 L507.9,1573.1 L509.6,1573.0 L511.2,1573.0 L512.8,1572.9 L514.5,1572.8 L516.1,1572.7 L517.7,1572.6 L519.3,1572.5 L521.0,1572.4 L522.6,1572.3 L524.2,1572.3 L525.9,1572.2 L527.5,1572.1 L529.1,1572.0 L530.8,1571.9 L532.4,1571.8 L534.0,1571.7 L535.7,1571.5 L537.3,1571.4 L538.9,1571.3 L540.6,1571.2 L542.2,1571.1 L543.8,1571.0 L545.4,1570.9 L547.1,1570.7 L548.7,1570.6 L550.3,1570.5 L552.0,1570.4 L553.6,1570.2 L555.2,1570.1 L556.9,1570.0 L558.5,1569.8 L560.1,1569.7 L561.8,1569.6 L563.4,1569.4 L565.0,1569.3 L566.7,1569.1 L568.3,1569.0 L569.9,1568.8 L571.5,1568.6 L573.2,1568.5 L574.8,1568.3 L576.4,1568.1 L578.1,1568.0 L579.7,1567.8 L581.3,1567.6 L583.0,1567.4 L584.6,1567.2 L586.2,1567.0 L587.9,1566.8 L589.5,1566.6 L591.1,1566.4 L592.7,1566.2 L594.4,1566.0 L596.0,1565.7 L597.6,1565.5 L599.3,1565.3 L600.9,1565.0 L602.5,1564.8 L604.2,1564.5 L605.8,1564.3 L607.4,1564.0 L609.1,1563.7 L610.7,1563.5 L612.3,1563.2 L614.0,1562.9 L615.6,1562.6 L617.2,1562.3 L618.8,1562.0 L620.5,1561.6 L622.1,1561.3 L623.7,1561.0 L625.4,1560.6 L627.0,1560.2 L628.6,1559.9 L630.3,1559.5 L631.9,1559.1 L633.5,1558.7 L635.2,1558.2 L636.8,1557.8 L638.4,1557.4 L640.1,1556.9 L641.7,1556.4 L643.3,1555.9 L644.9,1555.4 L646.6,1554.9 L648.2,1554.3 L649.8,1553.8 L651.5,1553.2 L653.1,1552.6 L654.7,1552.0 L656.4,1551.4 L658.0,1550.7 L659.6,1550.0 L661.3,1549.3 L662.9,1548.6 L664.5,1547.8 L666.1,1547.1 L667.8,1546.3 L669.4,1545.4 L671.0,1544.6 L672.7,1543.7 L674.3,1542.8 L675.9,1541.8 L677.6,1540.8 L679.2,1539.8 L680.8,1538.7 L682.5,1537.7 L684.1,1536.5 L685.7,1535.4 L687.4,1534.2 L689.0,1532.9 L690.6,1531.6 L692.2,1530.3 L693.9,1528.9 L695.5,1527.5 L697.1,1526.0 L698.8,1524.5 L700.4,1523.0 L702.0,1521.4 L703.7,1519.7 L705.3,1518.0 L706.9,1516.2 L708.6,1514.4 L710.2,1512.5 L711.8,1510.6 L713.5,1508.6 L715.1,1506.6 L716.7,1504.5 L718.3,1502.3 L720.0,1500.1 L721.6,1497.8 L723.2,1495.5 L724.9,1493.1 L726.5,1490.6 L728.1,1488.1 L729.8,1485.6 L731.4,1482.9 L733.0,1480.3 L734.7,1477.5 L736.3,1474.8 L737.9,1471.9 L739.5,1469.0 L741.2,1466.1 L742.8,1463.2 L744.4,1460.2 L746.1,1457.1 L747.7,1454.1 L749.3,1451.0 L751.0,1447.9 L752.6,1444.9 L754.2,1441.8 L755.9,1438.7 L757.5,1435.7 L759.1,1432.6 L760.8,1429.7 L762.4,1426.8 L764.0,1423.9 L765.6,1421.1 L767.3,1418.5 L768.9,1415.9 L770.5,1413.5 L772.2,1411.1 L773.8,1409.0 L775.4,1407.0 L777.1,1405.1 L778.7,1403.5 L780.3,1402.0 L782.0,1400.8 L783.6,1399.8 L785.2,1398.9 L786.9,1398.4 L788.5,1398.0 L790.1,1397.9 L791.7,1398.0 L793.4,1398.4 L795.0,1399.0 L796.6,1399.8 L798.3,1400.8 L799.9,1402.1 L801.5,1403.6 L803.2,1405.2 L804.8,1407.1 L806.4,1409.1 L808.1,1411.2 L809.7,1413.6 L811.3,1416.0 L812.9,1418.6 L814.6,1421.3 L816.2,1424.0 L817.8,1426.9 L819.5,1429.8 L821.1,1432.8 L822.7,1435.8 L824.4,1438.8 L826.0,1441.9 L827.6,1445.0 L829.3,1448.1 L830.9,1451.2 L832.5,1454.2 L834.2,1457.3 L835.8,1460.3 L837.4,1463.3 L839.0,1466.3 L840.7,1469.2 L842.3,1472.1 L843.9,1474.9 L845.6,1477.7 L847.2,1480.4 L848.8,1483.1 L850.5,1485.7 L852.1,1488.3 L853.7,1490.8 L855.4,1493.2 L857.0,1495.6 L858.6,1497.9 L860.3,1500.2 L861.9,1502.4 L863.5,1504.6 L865.1,1506.7 L866.8,1508.7 L868.4,1510.7 L870.0,1512.6 L871.7,1514.5 L873.3,1516.3 L874.9,1518.1 L876.6,1519.8 L878.2,1521.4 L879.8,1523.0 L881.5,1524.6 L883.1,1526.1 L884.7,1527.6 L886.3,1529.0 L888.0,1530.4 L889.6,1531.7 L891.2,1533.0 L892.9,1534.2 L894.5,1535.4 L896.1,1536.6 L897.8,1537.7 L899.4,1538.8 L901.0,1539.8 L902.7,1540.9 L904.3,1541.8 L905.9,1542.8 L907.6,1543.7 L909.2,1544.6 L910.8,1545.5 L912.4,1546.3 L914.1,1547.1 L915.7,1547.9 L917.3,1548.6 L919.0,1549.3 L920.6,1550.1 L922.2,1550.7 L923.9,1551.4 L925.5,1552.0 L927.1,1552.6 L928.8,1553.2 L930.4,1553.8 L932.0,1554.4 L933.7,1554.9 L935.3,1555.4 L936.9,1555.9 L938.5,1556.4 L940.2,1556.9 L941.8,1557.4 L943.4,1557.8 L945.1,1558.3 L946.7,1558.7 L948.3,1559.1 L950.0,1559.5 L951.6,1559.9 L953.2,1560.2 L954.9,1560.6 L956.5,1561.0 L958.1,1561.3 L959.8,1561.6 L961.4,1562.0 L963.0,1562.3 L964.6,1562.6 L966.3,1562.9 L967.9,1563.2 L969.5,1563.5 L971.2,1563.8 L972.8,1564.0 L974.4,1564.3 L976.1,1564.6 L977.7,1564.8 L979.3,1565.1 L981.0,1565.3 L982.6,1565.5 L984.2,1565.8 L985.8,1566.0 L987.5,1566.2 L989.1,1566.4 L990.7,1566.6 L992.4,1566.8 L994.0,1567.0 L995.6,1567.2 L997.3,1567.4 L998.9,1567.6 L1000.5,1567.8 L1002.2,1568.0 L1003.8,1568.1 L1005.4,1568.3 L1007.1,1568.5 L1008.7,1568.6 L1010.3,1568.8 L1011.9,1569.0 L1013.6,1569.1 L1015.2,1569.3 L1016.8,1569.4 L1018.5,1569.6 L1020.1,1569.7 L1021.7,1569.8 L1023.4,1570.0 L1025.0,1570.1 L1026.6,1570.2 L1028.3,1570.4 L1029.9,1570.5 L1031.5,1570.6 L1033.2,1570.8 L1034.8,1570.9 L1036.4,1571.0 L1038.0,1571.1 L1039.7,1571.2 L1041.3,1571.3 L1042.9,1571.4 L1044.6,1571.6 L1046.2,1571.7 L1047.8,1571.8 L1049.5,1571.9 L1051.1,1572.0 L1052.7,1572.1 L1054.4,1572.2 L1056.0,1572.3 L1057.6,1572.3 L1059.2,1572.4 L1060.9,1572.5 L1062.5,1572.6 L1064.1,1572.7 L1065.8,1572.8 L1067.4,1572.9 L1069.0,1573.0 L1070.7,1573.0 L1072.3,1573.1 L1073.9,1573.2 L1075.6,1573.3 L1077.2,1573.4 L1078.8,1573.4 L1080.5,1573.5 L1082.1,1573.6" fill="none" stroke="#7f00ff" stroke-width="5.4"/>
<polyline points="105.0,1552.0 106.7,1551.8 108.3,1551.5 109.9,1551.2 111.6,1551.0 113.2,1550.7 114.8,1550.4 116.5,1550.1 118.1,1549.8 119.7,1549.6 121.4,1549.3 123.0,1549.0 124.6,1548.7 126.2,1548.4 127.9,1548.0 129.5,1547.7 131.1,1547.4 132.8,1547.1 134.4,1546.8 136.0,1546.4 137.7,1546.1 139.3,1545.7 140.9,1545.4 142.6,1545.0 144.2,1544.7 145.8,1544.3 147.5,1543.9 149.1,1543.5 150.7,1543.2 152.3,1542.8 154.0,1542.4 155.6,1542.0 157.2,1541.5 158.9,1541.1 160.5,1540.7 162.1,1540.3 163.8,1539.8 165.4,1539.4 167.0,1538.9 168.7,1538.5 170.3,1538.0 171.9,1537.5 173.6,1537.0 175.2,1536.5 176.8,1536.0 178.4,1535.5 180.1,1535.0 181.7,1534.4 183.3,1533.9 185.0,1533.3 186.6,1532.8 188.2,1532.2 189.9,1531.6 191.5,1531.0 193.1,1530.4 194.8,1529.8 196.4,1529.1 198.0,1528.5 199.6,1527.8 201.3,1527.1 202.9,1526.4 204.5,1525.7 206.2,1525.0 207.8,1524.3 209.4,1523.5 211.1,1522.7 212.7,1521.9 214.3,1521.1 216.0,1520.3 217.6,1519.4 219.2,1518.6 220.9,1517.7 222.5,1516.8 224.1,1515.8 225.7,1514.9 227.4,1513.9 229.0,1512.9 230.6,1511.9 232.3,1510.8 233.9,1509.7 235.5,1508.6 237.2,1507.4 238.8,1506.2 240.4,1505.0 242.1,1503.8 243.7,1502.5 245.3,1501.1 247.0,1499.7 248.6,1498.3 250.2,1496.8 251.8,1495.3 253.5,1493.7 255.1,1492.0 256.7,1490.3 258.4,1488.5 260.0,1486.7 261.6,1484.7 263.3,1482.7 264.9,1480.6 266.5,1478.4 268.2,1476.2 269.8,1473.8 271.4,1471.3 273.0,1468.7 274.7,1466.0 276.3,1463.1 277.9,1460.2 279.6,1457.1 281.2,1453.8 282.8,1450.5 284.5,1446.9 286.1,1443.2 287.7,1439.4 289.4,1435.4 291.0,1431.2 292.6,1426.9 294.3,1422.4 295.9,1417.7 297.5,1412.8 299.1,1407.8 300.8,1402.6 302.4,1397.3 304.0,1391.8 305.7,1386.1 307.3,1380.3 308.9,1374.3 310.6,1368.2 312.2,1362.0 313.8,1355.7 315.5,1349.2 317.1,1342.7 318.7,1336.1 320.4,1329.4 322.0,1322.7 323.6,1316.0 325.2,1309.2 326.9,1302.4 328.5,1295.6 330.1,1288.9 331.8,1282.2 333.4,1275.6 335.0,1269.0 336.7,1262.5 338.3,1256.1 339.9,1249.7 341.6,1243.5 343.2,1237.4 344.8,1231.4 346.4,1225.5 348.1,1219.7 349.7,1214.1 351.3,1208.5 353.0,1203.0 354.6,1197.6 356.2,1192.2 357.9,1187.0 359.5,1181.8 361.1,1176.6 362.8,1171.5 364.4,1166.4 366.0,1161.4 367.7,1156.3 369.3,1151.3 370.9,1146.3 372.5,1141.3 374.2,1136.3 375.8,1131.3 377.4,1126.3 379.1,1121.4 380.7,1116.5 382.3,1111.6 384.0,1106.8 385.6,1102.0 387.2,1097.3 388.9,1092.7 390.5,1088.1 392.1,1083.8 393.8,1079.5 395.4,1075.4 397.0,1071.6 398.6,1067.9 400.3,1064.4 401.9,1061.2 403.5,1058.3 405.2,1055.6 406.8,1053.2 408.4,1051.2 410.1,1049.5 411.7,1048.1 413.3,1047.1 415.0,1046.5 416.6,1046.2 418.2,1046.4 419.8,1046.8 421.5,1047.7 423.1,1048.9 424.7,1050.5 426.4,1052.5 428.0,1054.8 429.6,1057.4 431.3,1060.3 432.9,1063.6 434.5,1067.1 436.2,1070.9 437.8,1074.9 439.4,1079.2 441.1,1083.7 442.7,1088.4 444.3,1093.2 445.9,1098.2 447.6,1103.3 449.2,1108.5 450.8,1113.8 452.5,1119.2 454.1,1124.6 455.7,1130.0 457.4,1135.5 459.0,1140.9 460.6,1146.4 462.3,1151.8 463.9,1157.1 465.5,1162.4 467.2,1167.6 468.8,1172.8 470.4,1177.8 472.0,1182.8 473.7,1187.6 475.3,1192.3 476.9,1196.9 478.6,1201.4 480.2,1205.7 481.8,1209.9 483.5,1214.0 485.1,1217.9 486.7,1221.6 488.4,1225.2 490.0,1228.6 491.6,1231.9 493.3,1235.0 494.9,1237.9 496.5,1240.7 498.1,1243.3 499.8,1245.7 501.4,1248.0 503.0,1250.1 504.7,1252.1 506.3,1253.9 507.9,1255.5 509.6,1257.0 511.2,1258.4 512.8,1259.5 514.5,1260.6 516.1,1261.5 517.7,1262.3 519.3,1262.9 521.0,1263.4 522.6,1263.8 524.2,1264.1 525.9,1264.2 527.5,1264.3 529.1,1264.3 530.8,1264.2 532.4,1264.1 534.0,1263.9 535.7,1263.6 537.3,1263.3 538.9,1263.0 540.6,1262.6 542.2,1262.2 543.8,1261.9 545.4,1261.6 547.1,1261.3 548.7,1261.0 550.3,1260.8 552.0,1260.7 553.6,1260.7 555.2,1260.7 556.9,1260.9 558.5,1261.1 560.1,1261.5 561.8,1262.0 563.4,1262.7 565.0,1263.5 566.7,1264.5 568.3,1265.6 569.9,1266.9 571.5,1268.3 573.2,1269.9 574.8,1271.7 576.4,1273.6 578.1,1275.7 579.7,1278.0 581.3,1280.4 583.0,1282.9 584.6,1285.6 586.2,1288.4 587.9,1291.3 589.5,1294.4 591.1,1297.6 592.7,1300.8 594.4,1304.2 596.0,1307.6 597.6,1311.1 599.3,1314.7 600.9,1318.3 602.5,1321.9 604.2,1325.6 605.8,1329.3 607.4,1333.0 609.1,1336.7 610.7,1340.4 612.3,1344.1 614.0,1347.8 615.6,1351.5 617.2,1355.1 618.8,1358.7 620.5,1362.3 622.1,1365.8 623.7,1369.2 625.4,1372.6 627.0,1376.0 628.6,1379.3 630.3,1382.5 631.9,1385.7 633.5,1388.8 635.2,1391.8 636.8,1394.7 638.4,1397.6 640.1,1400.4 641.7,1403.2 643.3,1405.8 644.9,1408.4 646.6,1410.9 648.2,1413.4 649.8,1415.7 651.5,1418.0 653.1,1420.2 654.7,1422.4 656.4,1424.4 658.0,1426.4 659.6,1428.3 661.3,1430.2 662.9,1431.9 664.5,1433.6 666.1,1435.2 667.8,1436.7 669.4,1438.2 671.0,1439.6 672.7,1440.9 674.3,1442.1 675.9,1443.3 677.6,1444.4 679.2,1445.4 680.8,1446.3 682.5,1447.2 684.1,1448.0 685.7,1448.7 687.4,1449.3 689.0,1449.9 690.6,1450.4 692.2,1450.8 693.9,1451.1 695.5,1451.4 697.1,1451.5 698.8,1451.6 700.4,1451.6 702.0,1451.6 703.7,1451.4 705.3,1451.2 706.9,1450.9 708.6,1450.5 710.2,1450.0 711.8,1449.4 713.5,1448.8 715.1,1448.0 716.7,1447.2 718.3,1446.3 720.0,1445.3 721.6,1444.2 723.2,1443.0 724.9,1441.7 726.5,1440.3 728.1,1438.8 729.8,1437.2 731.4,1435.5 733.0,1433.8 734.7,1431.9 736.3,1429.9 737.9,1427.9 739.5,1425.8 741.2,1423.5 742.8,1421.2 744.4,1418.8 746.1,1416.3 747.7,1413.8 749.3,1411.1 751.0,1408.5 752.6,1405.7 754.2,1402.9 755.9,1400.1 757.5,1397.3 759.1,1394.4 760.8,1391.6 762.4,1388.7 764.0,1385.9 765.6,1383.2 767.3,1380.5 768.9,1377.9 770.5,1375.5 772.2,1373.1 773.8,1370.9 775.4,1368.9 777.1,1367.1 778.7,1365.4 780.3,1364.1 782.0,1362.9 783.6,1362.1 785.2,1361.5 786.9,1361.1 788.5,1361.1 790.1,1361.4 791.7,1362.0 793.4,1362.9 795.0,1364.0 796.6,1365.5 798.3,1367.3 799.9,1369.3 801.5,1371.5 803.2,1374.0 804.8,1376.7 806.4,1379.6 808.1,1382.7 809.7,1385.9 811.3,1389.3 812.9,1392.7 814.6,1396.3 816.2,1399.9 817.8,1403.6 819.5,1407.4 821.1,1411.2 822.7,1414.9 824.4,1418.7 826.0,1422.4 827.6,1426.2 829.3,1429.9 830.9,1433.5 832.5,1437.1 834.2,1440.6 835.8,1444.1 837.4,1447.5 839.0,1450.8 840.7,1454.1 842.3,1457.3 843.9,1460.4 845.6,1463.4 847.2,1466.4 848.8,1469.2 850.5,1472.0 852.1,1474.7 853.7,1477.3 855.4,1479.9 857.0,1482.3 858.6,1484.7 860.3,1487.1 861.9,1489.3 863.5,1491.5 865.1,1493.6 866.8,1495.6 868.4,1497.6 870.0,1499.5 871.7,1501.4 873.3,1503.2 874.9,1504.9 876.6,1506.6 878.2,1508.2 879.8,1509.8 881.5,1511.3 883.1,1512.8 884.7,1514.2 886.3,1515.6 888.0,1516.9 889.6,1518.2 891.2,1519.4 892.9,1520.6 894.5,1521.8 896.1,1522.9 897.8,1524.0 899.4,1525.1 901.0,1526.1 902.7,1527.1 904.3,1528.1 905.9,1529.0 907.6,1529.9 909.2,1530.8 910.8,1531.7 912.4,1532.5 914.1,1533.3 915.7,1534.1 917.3,1534.8 919.0,1535.6 920.6,1536.3 922.2,1537.0 923.9,1537.7 925.5,1538.3 927.1,1539.0 928.8,1539.6 930.4,1540.2 932.0,1540.8 933.7,1541.4 935.3,1541.9 936.9,1542.5 938.5,1543.0 940.2,1543.5 941.8,1544.0 943.4,1544.5 945.1,1545.0 946.7,1545.5 948.3,1545.9 950.0,1546.4 951.6,1546.8 953.2,1547.3 954.9,1547.7 956.5,1548.1 958.1,1548.5 959.8,1548.9 961.4,1549.3 963.0,1549.6 964.6,1550.0 966.3,1550.4 967.9,1550.7 969.5,1551.1 971.2,1551.4 972.8,1551.7 974.4,1552.1 976.1,1552.4 977.7,1552.7 979.3,1553.0 981.0,1553.3 982.6,1553.6 984.2,1553.9 985.8,1554.2 987.5,1554.4 989.1,1554.7 990.7,1555.0 992.4,1555.3 994.0,1555.5 995.6,1555.8 997.3,1556.0 998.9,1556.3 1000.5,1556.5 1002.2,1556.7 1003.8,1557.0 1005.4,1557.2 1007.1,1557.4 1008.7,1557.6 1010.3,1557.9 1011.9,1558.1 1013.6,1558.3 1015.2,1558.5 1016.8,1558.7 1018.5,1558.9 1020.1,1559.1 1021.7,1559.3 1023.4,1559.5 1025.0,1559.7 1026.6,1559.9 1028.3,1560.0 1029.9,1560.2 1031.5,1560.4 1033.2,1560.6 1034.8,1560.7 1036.4,1560.9 1038.0,1561.1 1039.7,1561.2 1041.3,1561.4 1042.9,1561.6 1044.6,1561.7 1046.2,1561.9 1047.8,1562.0 1049.5,1562.2 1051.1,1562.3 1052.7,1562.5 1054.4,1562.6 1056.0,1562.8 1057.6,1562.9 1059.2,1563.0 1060.9,1563.2 1062.5,1563.3 1064.1,1563.4 1065.8,1563.6 1067.4,1563.7 1069.0,1563.8 1070.7,1564.0 1072.3,1564.1 1073.9,1564.2 1075.6,1564.3 1077.2,1564.4 1078.8,1564.6 1080.5,1564.7 1082.1,1564.8" fill="none" stroke="#ff0000" stroke-width="3.9" stroke-linejoin="round" stroke-linecap="round" />
</g>
<rect x="105.3" y="923.5" width="975.7" height="698.2" fill="none" stroke="#202020" stroke-width="4.6"/>
<line x1="106.7" y1="1621.7" x2="106.7" y2="1643.7" stroke="#202020" stroke-width="4.2"/>
<line x1="327.5" y1="1621.7" x2="327.5" y2="1643.7" stroke="#202020" stroke-width="4.2"/>
<line x1="548.3" y1="1621.7" x2="548.3" y2="1643.7" stroke="#202020" stroke-width="4.2"/>
<line x1="769.1" y1="1621.7" x2="769.1" y2="1643.7" stroke="#202020" stroke-width="4.2"/>
<line x1="989.9" y1="1621.7" x2="989.9" y2="1643.7" stroke="#202020" stroke-width="4.2"/>
<line x1="217.1" y1="1621.7" x2="217.1" y2="1633.2" stroke="#202020" stroke-width="4.2"/>
<line x1="437.9" y1="1621.7" x2="437.9" y2="1633.2" stroke="#202020" stroke-width="4.2"/>
<line x1="658.7" y1="1621.7" x2="658.7" y2="1633.2" stroke="#202020" stroke-width="4.2"/>
<line x1="879.5" y1="1621.7" x2="879.5" y2="1633.2" stroke="#202020" stroke-width="4.2"/>
<text x="106.7" y="1680.0" font-family="'Liberation Serif','Times New Roman',serif" font-size="34" font-weight="normal" text-anchor="middle" fill="#1c1c1c" >282</text>
<text x="327.5" y="1680.0" font-family="'Liberation Serif','Times New Roman',serif" font-size="34" font-weight="normal" text-anchor="middle" fill="#1c1c1c" >284</text>
<text x="548.3" y="1680.0" font-family="'Liberation Serif','Times New Roman',serif" font-size="34" font-weight="normal" text-anchor="middle" fill="#1c1c1c" >286</text>
<text x="769.1" y="1680.0" font-family="'Liberation Serif','Times New Roman',serif" font-size="34" font-weight="normal" text-anchor="middle" fill="#1c1c1c" >288</text>
<text x="989.9" y="1680.0" font-family="'Liberation Serif','Times New Roman',serif" font-size="34" font-weight="normal" text-anchor="middle" fill="#1c1c1c" >290</text>
<text x="573.5" y="1720.4" font-family="'Liberation Serif','Times New Roman',serif" font-size="48" font-weight="normal" text-anchor="middle" fill="#1c1c1c" >Binding energy (eV)</text>
<text transform="translate(90.4,1276.0) rotate(-90)" font-family="'Liberation Serif','Times New Roman',serif" font-size="48" text-anchor="middle" fill="#1c1c1c">Intensity (a.u.)</text>
<text x="35.8" y="937.0" font-family="'Liberation Serif','Times New Roman',serif" font-size="95" font-weight="bold" text-anchor="start" fill="#000" >c</text>
<text x="1067.4" y="966.8" font-family="'Liberation Serif','Times New Roman',serif" font-size="48" font-weight="normal" text-anchor="end" fill="#1c1c1c" >C 1s</text>
<text x="506.2" y="982.8" font-family="'Liberation Serif','Times New Roman',serif" font-size="37.5" font-weight="normal" text-anchor="middle" fill="#1c1c1c" >C-C</text>
<text x="512.4" y="1017.9" font-family="'Liberation Serif','Times New Roman',serif" font-size="37.5" font-weight="normal" text-anchor="middle" fill="#1c1c1c" >284.80 eV</text>
<text x="645.8" y="1165.6" font-family="'Liberation Serif','Times New Roman',serif" font-size="37.5" font-weight="normal" text-anchor="middle" fill="#1c1c1c" >C-O/C-N</text>
<text x="647.6" y="1204.7" font-family="'Liberation Serif','Times New Roman',serif" font-size="37.5" font-weight="normal" text-anchor="middle" fill="#1c1c1c" >286.19 eV</text>
<text x="881.4" y="1273.1" font-family="'Liberation Serif','Times New Roman',serif" font-size="40" font-weight="normal" text-anchor="middle" fill="#1c1c1c" letter-spacing="-1.2">C=O</text>
<text x="890.9" y="1310.2" font-family="'Liberation Serif','Times New Roman',serif" font-size="40" font-weight="normal" text-anchor="middle" fill="#1c1c1c" >288.20 eV</text>
<text x="220.6" y="1316.6" font-family="'Liberation Serif','Times New Roman',serif" font-size="37.5" font-weight="normal" text-anchor="middle" fill="#1c1c1c" >C-Si</text>
<text x="221.8" y="1351.3" font-family="'Liberation Serif','Times New Roman',serif" font-size="37.5" font-weight="normal" text-anchor="middle" fill="#1c1c1c" >284.18 eV</text>
<line x1="341.6" y1="1481.7" x2="288.5" y2="1375.8" stroke="#1a1a1a" stroke-width="1.9"/>
<polygon points="280.9,1360.6 293.9,1375.3 284.9,1379.8" fill="#000"/>
<line x1="420.0" y1="1116.0" x2="461.8" y2="1044.2" stroke="#1a1a1a" stroke-width="1.9"/>
<polygon points="470.4,1029.5 465.2,1048.4 456.5,1043.4" fill="#000"/>
<line x1="580.0" y1="1347.9" x2="605.2" y2="1230.6" stroke="#1a1a1a" stroke-width="1.9"/>
<polygon points="608.8,1214.0 609.7,1233.6 599.9,1231.5" fill="#000"/>
<line x1="802.9" y1="1400.5" x2="837.1" y2="1335.0" stroke="#1a1a1a" stroke-width="1.9"/>
<polygon points="845.0,1319.9 840.6,1339.1 831.8,1334.4" fill="#000"/>
<clipPath id="clipd"><rect x="1180.8" y="923.5" width="976.0000000000002" height="698.2"/></clipPath>
<g clip-path="url(#clipd)">
<polyline points="1180.4,1604.5 1183.2,1603.5 1186.0,1602.4 1188.8,1601.4 1191.9,1594.1 1196.1,1579.5 1198.7,1571.7 1201.3,1563.8 1204.1,1569.0 1206.9,1574.3 1209.7,1579.5 1212.5,1578.5 1215.2,1577.4 1218.0,1576.4 1220.9,1576.4 1223.8,1576.4 1226.8,1576.4 1229.7,1576.4 1232.6,1576.4 1235.8,1570.7 1238.9,1564.9 1241.5,1572.2 1244.1,1579.5 1247.3,1580.0 1250.5,1580.5 1253.6,1581.0 1256.8,1581.5 1260.0,1582.0 1263.1,1581.8 1266.2,1581.7 1269.2,1581.5 1272.3,1581.4 1275.4,1581.2 1278.5,1581.1 1281.5,1580.9 1284.6,1580.8 1287.7,1580.6 1290.8,1580.5 1293.8,1580.3 1296.9,1580.2 1300.0,1580.0 1302.8,1579.1 1305.6,1578.1 1308.4,1577.2 1311.2,1576.2 1314.0,1575.3 1317.1,1571.2 1320.0,1571.7 1322.8,1572.2 1325.7,1572.7 1328.6,1573.2 1331.8,1572.7 1334.9,1572.2 1338.0,1571.7 1341.2,1571.2 1344.7,1567.0 1348.1,1562.8 1351.6,1558.6 1355.8,1567.0 1358.9,1564.9 1362.1,1562.8 1365.2,1560.7 1367.8,1559.7 1370.4,1558.6 1373.0,1546.1 1375.6,1533.6 1379.2,1537.8 1382.9,1541.9 1387.1,1523.2 1390.2,1537.8 1394.4,1525.2 1396.5,1504.4 1400.2,1500.2 1403.8,1496.0 1405.9,1483.5 1409.0,1480.3 1412.1,1477.2 1414.2,1466.8 1417.3,1462.6 1420.5,1458.4 1423.1,1464.7 1425.7,1471.0 1428.3,1472.0 1430.9,1473.1 1434.0,1460.5 1438.2,1435.5 1442.4,1426.1 1445.0,1430.8 1447.6,1435.5 1451.2,1444.3 1454.9,1453.2 1458.6,1437.1 1462.2,1420.9 1465.8,1429.8 1469.5,1438.6 1473.2,1434.9 1476.8,1431.3 1479.7,1433.4 1482.5,1435.5 1485.4,1437.6 1488.3,1439.7 1490.9,1434.5 1493.5,1429.2 1496.7,1427.1 1499.8,1425.0 1501.6,1413.5 1504.9,1404.6 1508.1,1395.7 1511.4,1386.8 1513.8,1367.3 1517.0,1361.6 1520.3,1356.0 1523.5,1350.3 1527.2,1334.5 1530.8,1318.7 1533.8,1299.2 1536.9,1279.7 1540.0,1262.7 1543.0,1245.7 1545.4,1243.2 1547.8,1240.8 1550.2,1223.8 1552.7,1206.8 1555.1,1184.9 1558.2,1177.6 1561.2,1170.3 1564.2,1143.5 1567.3,1116.8 1569.8,1113.2 1572.2,1109.5 1574.6,1092.4 1578.2,1091.8 1581.9,1091.2 1584.6,1092.5 1587.3,1093.7 1590.0,1095.0 1592.6,1090.9 1595.1,1086.8 1597.7,1082.7 1600.1,1076.6 1603.8,1090.0 1606.2,1105.8 1608.7,1121.6 1612.3,1141.1 1615.3,1141.7 1618.4,1142.3 1622.0,1170.3 1625.7,1201.9 1629.3,1218.9 1633.0,1245.7 1635.7,1251.8 1638.3,1257.8 1641.5,1287.0 1644.5,1311.3 1647.6,1335.7 1650.0,1340.6 1652.4,1345.4 1656.1,1363.7 1659.7,1381.9 1662.2,1397.7 1664.6,1413.5 1668.3,1429.2 1672.0,1445.0 1674.7,1454.0 1677.3,1463.0 1680.0,1472.0 1682.9,1478.0 1685.7,1484.0 1688.6,1490.0 1691.4,1496.0 1694.3,1502.0 1697.1,1508.0 1700.0,1514.0 1703.0,1517.4 1706.0,1520.8 1709.0,1524.2 1712.0,1527.6 1715.0,1531.0 1718.0,1534.4 1721.0,1537.8 1724.0,1541.2 1727.0,1544.6 1730.0,1548.0 1733.0,1549.6 1736.0,1551.2 1739.0,1552.8 1742.0,1554.4 1745.0,1556.0 1748.0,1557.6 1751.0,1559.2 1754.0,1560.8 1757.0,1562.4 1760.0,1564.0 1763.1,1564.7 1766.2,1565.4 1769.2,1566.1 1772.3,1566.8 1775.4,1567.5 1778.5,1568.2 1781.5,1568.8 1784.6,1569.5 1787.7,1570.2 1790.8,1570.9 1793.8,1571.6 1796.9,1572.3 1800.0,1573.0 1803.0,1573.1 1806.0,1573.2 1809.0,1573.3 1812.0,1573.4 1815.0,1573.5 1818.0,1573.6 1821.0,1573.7 1824.0,1573.8 1827.0,1573.9 1830.0,1574.0 1832.7,1572.0 1835.3,1570.0 1838.0,1568.0 1840.7,1569.7 1843.3,1571.3 1846.0,1573.0 1849.2,1568.7 1852.3,1564.3 1855.5,1560.0 1858.8,1563.0 1862.0,1566.0 1864.7,1561.3 1867.3,1556.7 1870.0,1552.0 1873.0,1548.6 1876.0,1545.2 1879.0,1541.8 1882.0,1538.4 1885.0,1535.0 1887.8,1529.2 1890.5,1523.5 1893.2,1517.8 1896.0,1512.0 1898.8,1502.7 1901.6,1493.4 1904.4,1484.2 1907.2,1474.9 1910.0,1465.6 1913.9,1444.2 1916.8,1418.8 1919.2,1417.8 1921.7,1416.9 1924.5,1407.9 1927.2,1399.0 1930.0,1390.0 1933.4,1376.9 1936.8,1363.7 1940.2,1350.6 1943.6,1346.9 1947.0,1343.2 1950.0,1347.9 1952.9,1352.6 1956.5,1363.8 1960.0,1375.0 1963.2,1379.4 1966.5,1383.8 1969.0,1380.8 1971.4,1377.9 1974.3,1397.4 1977.2,1420.8 1980.4,1425.2 1983.6,1429.5 1986.7,1433.9 1989.9,1438.3 1993.8,1461.7 1996.7,1481.2 1999.6,1478.8 2002.5,1476.3 2005.0,1481.7 2007.4,1487.0 2009.8,1500.7 2012.3,1514.3 2014.8,1523.0 2017.2,1531.8 2020.1,1530.3 2023.0,1528.9 2026.9,1543.5 2030.2,1547.6 2033.5,1551.8 2036.7,1555.9 2040.0,1560.0 2043.3,1558.4 2046.6,1556.7 2049.9,1555.1 2053.9,1543.5 2058.0,1550.4 2061.5,1551.2 2064.9,1552.0 2068.4,1552.8 2070.8,1557.2 2073.1,1561.5 2076.1,1563.1 2079.1,1564.8 2082.0,1566.4 2085.0,1568.0 2087.7,1567.4 2090.4,1566.8 2093.2,1566.1 2095.9,1565.5 2098.6,1564.9 2100.9,1559.7 2103.4,1559.8 2106.0,1560.0 2108.7,1555.8 2111.3,1551.6 2113.7,1556.2 2116.0,1560.9 2119.4,1562.9 2122.9,1564.9 2126.4,1567.8 2129.9,1555.1 2133.0,1552.8 2136.1,1550.4 2139.2,1548.1 2142.1,1553.9 2145.0,1559.7 2147.9,1561.2 2150.8,1562.6 2154.2,1566.7 2157.0,1568.0" fill="none" stroke="#050505" stroke-width="3.2" stroke-linejoin="round" stroke-linecap="round" />
<path d="M1180.0,1587.5 L1181.4,1587.5 L1182.8,1587.5 L1184.2,1587.5 L1185.6,1587.5 L1187.0,1587.4 L1188.4,1587.4 L1189.8,1587.4 L1191.2,1587.4 L1192.6,1587.4 L1194.0,1587.4 L1195.4,1587.4 L1196.8,1587.4 L1198.2,1587.3 L1199.6,1587.3 L1201.0,1587.3 L1202.4,1587.3 L1203.8,1587.3 L1205.2,1587.3 L1206.6,1587.3 L1208.0,1587.2 L1209.4,1587.2 L1210.8,1587.2 L1212.2,1587.2 L1213.6,1587.2 L1215.0,1587.2 L1216.4,1587.2 L1217.8,1587.2 L1219.2,1587.1 L1220.6,1587.1 L1222.0,1587.1 L1223.4,1587.1 L1224.8,1587.1 L1226.2,1587.1 L1227.6,1587.1 L1229.0,1587.0 L1230.4,1587.0 L1231.7,1587.0 L1233.1,1587.0 L1234.5,1587.0 L1235.9,1587.0 L1237.3,1587.0 L1238.7,1587.0 L1240.1,1586.9 L1241.5,1586.9 L1242.9,1586.9 L1244.3,1586.9 L1245.7,1586.9 L1247.1,1586.9 L1248.5,1586.9 L1249.9,1586.9 L1251.3,1586.8 L1252.7,1586.8 L1254.1,1586.8 L1255.5,1586.8 L1256.9,1586.8 L1258.3,1586.8 L1259.7,1586.8 L1261.1,1586.7 L1262.5,1586.7 L1263.9,1586.7 L1265.3,1586.7 L1266.7,1586.7 L1268.1,1586.7 L1269.5,1586.7 L1270.9,1586.7 L1272.3,1586.6 L1273.7,1586.6 L1275.1,1586.6 L1276.5,1586.6 L1277.9,1586.6 L1279.3,1586.6 L1280.7,1586.6 L1282.1,1586.5 L1283.5,1586.5 L1284.9,1586.5 L1286.3,1586.5 L1287.7,1586.5 L1289.1,1586.5 L1290.5,1586.5 L1291.9,1586.5 L1293.3,1586.4 L1294.7,1586.4 L1296.1,1586.4 L1297.5,1586.4 L1298.9,1586.4 L1300.3,1586.4 L1301.7,1586.4 L1303.1,1586.3 L1304.5,1586.1 L1305.9,1586.0 L1307.3,1585.8 L1308.7,1585.6 L1310.1,1585.4 L1311.5,1585.3 L1312.9,1585.1 L1314.3,1584.9 L1315.7,1584.7 L1317.1,1584.5 L1318.5,1584.2 L1319.9,1584.0 L1321.3,1583.8 L1322.7,1583.5 L1324.1,1583.3 L1325.5,1583.0 L1326.9,1582.7 L1328.3,1582.4 L1329.7,1582.1 L1331.1,1581.8 L1332.5,1581.5 L1333.9,1581.1 L1335.2,1580.7 L1336.6,1580.4 L1338.0,1580.0 L1339.4,1579.6 L1340.8,1579.1 L1342.2,1578.7 L1343.6,1578.2 L1345.0,1577.7 L1346.4,1577.2 L1347.8,1576.7 L1349.2,1576.1 L1350.6,1575.5 L1352.0,1574.9 L1353.4,1574.3 L1354.8,1573.6 L1356.2,1572.9 L1357.6,1572.2 L1359.0,1571.4 L1360.4,1570.6 L1361.8,1569.8 L1363.2,1569.0 L1364.6,1568.1 L1366.0,1567.2 L1367.4,1566.2 L1368.8,1565.2 L1370.2,1564.2 L1371.6,1563.2 L1373.0,1562.1 L1374.4,1560.9 L1375.8,1559.8 L1377.2,1558.6 L1378.6,1557.3 L1380.0,1556.0 L1381.4,1554.7 L1382.8,1553.3 L1384.2,1551.9 L1385.6,1550.5 L1387.0,1549.0 L1388.4,1547.5 L1389.8,1545.9 L1391.2,1544.3 L1392.6,1542.7 L1394.0,1541.0 L1395.4,1539.3 L1396.8,1537.6 L1398.2,1535.8 L1399.6,1534.0 L1401.0,1532.2 L1402.4,1530.4 L1403.8,1528.5 L1405.2,1526.6 L1406.6,1524.7 L1408.0,1522.7 L1409.4,1520.8 L1410.8,1518.8 L1412.2,1516.9 L1413.6,1514.9 L1415.0,1513.0 L1416.4,1511.0 L1417.8,1509.1 L1419.2,1507.2 L1420.6,1505.3 L1422.0,1503.4 L1423.4,1501.6 L1424.8,1499.8 L1426.2,1498.1 L1427.6,1496.4 L1429.0,1494.8 L1430.4,1493.3 L1431.8,1491.8 L1433.2,1490.4 L1434.6,1489.1 L1436.0,1487.9 L1437.3,1486.8 L1438.7,1485.9 L1440.1,1485.0 L1441.5,1484.3 L1442.9,1483.7 L1444.3,1483.2 L1445.7,1482.9 L1447.1,1482.7 L1448.5,1482.6 L1449.9,1482.7 L1451.3,1482.9 L1452.7,1483.3 L1454.1,1483.7 L1455.5,1484.4 L1456.9,1485.1 L1458.3,1486.0 L1459.7,1486.9 L1461.1,1488.0 L1462.5,1489.2 L1463.9,1490.5 L1465.3,1491.9 L1466.7,1493.3 L1468.1,1494.9 L1469.5,1496.5 L1470.9,1498.1 L1472.3,1499.9 L1473.7,1501.6 L1475.1,1503.4 L1476.5,1505.3 L1477.9,1507.1 L1479.3,1509.0 L1480.7,1510.9 L1482.1,1512.9 L1483.5,1514.8 L1484.9,1516.7 L1486.3,1518.6 L1487.7,1520.6 L1489.1,1522.5 L1490.5,1524.4 L1491.9,1526.2 L1493.3,1528.1 L1494.7,1529.9 L1496.1,1531.8 L1497.5,1533.5 L1498.9,1535.3 L1500.3,1537.0 L1501.7,1538.7 L1503.1,1540.4 L1504.5,1542.0 L1505.9,1543.6 L1507.3,1545.1 L1508.7,1546.7 L1510.1,1548.1 L1511.5,1549.6 L1512.9,1551.0 L1514.3,1552.3 L1515.7,1553.7 L1517.1,1555.0 L1518.5,1556.2 L1519.9,1557.4 L1521.3,1558.6 L1522.7,1559.7 L1524.1,1560.8 L1525.5,1561.8 L1526.9,1562.9 L1528.3,1563.8 L1529.7,1564.8 L1531.1,1565.7 L1532.5,1566.6 L1533.9,1567.4 L1535.3,1568.2 L1536.7,1569.0 L1538.1,1569.7 L1539.4,1570.4 L1540.8,1571.1 L1542.2,1571.8 L1543.6,1572.4 L1545.0,1573.0 L1546.4,1573.6 L1547.8,1574.1 L1549.2,1574.7 L1550.6,1575.2 L1552.0,1575.6 L1553.4,1576.1 L1554.8,1576.5 L1556.2,1576.9 L1557.6,1577.3 L1559.0,1577.7 L1560.4,1578.1 L1561.8,1578.4 L1563.2,1578.8 L1564.6,1579.1 L1566.0,1579.4 L1567.4,1579.6 L1568.8,1579.9 L1570.2,1580.2 L1571.6,1580.4 L1573.0,1580.7 L1574.4,1580.9 L1575.8,1581.1 L1577.2,1581.3 L1578.6,1581.5 L1580.0,1581.7 L1581.4,1581.9 L1582.8,1582.0 L1584.2,1582.2 L1585.6,1582.4 L1587.0,1582.5 L1588.4,1582.7 L1589.8,1582.8 L1591.2,1582.9 L1592.6,1583.1 L1594.0,1583.2 L1595.4,1583.3 L1596.8,1583.4 L1598.2,1583.5 L1599.6,1583.6 L1601.0,1583.6 L1602.4,1583.5 L1603.8,1583.5 L1605.2,1583.5 L1606.6,1583.5 L1608.0,1583.5 L1609.4,1583.5 L1610.8,1583.5 L1612.2,1583.4 L1613.6,1583.4 L1615.0,1583.4 L1616.4,1583.4 L1617.8,1583.4 L1619.2,1583.4 L1620.6,1583.4 L1622.0,1583.4 L1623.4,1583.3 L1624.8,1583.3 L1626.2,1583.3 L1627.6,1583.3 L1629.0,1583.3 L1630.4,1583.3 L1631.8,1583.3 L1633.2,1583.2 L1634.6,1583.2 L1636.0,1583.2 L1637.4,1583.2 L1638.8,1583.2 L1640.2,1583.2 L1641.6,1583.2 L1642.9,1583.2 L1644.3,1583.1 L1645.7,1583.1 L1647.1,1583.1 L1648.5,1583.1 L1649.9,1583.1 L1651.3,1583.1 L1652.7,1583.1 L1654.1,1583.1 L1655.5,1583.0 L1656.9,1583.0 L1658.3,1583.0 L1659.7,1583.0 L1661.1,1583.0 L1662.5,1583.0 L1663.9,1583.0 L1665.3,1582.9 L1666.7,1582.9 L1668.1,1582.9 L1669.5,1582.9 L1670.9,1582.9 L1672.3,1582.9 L1673.7,1582.9 L1675.1,1582.9 L1676.5,1582.8 L1677.9,1582.8 L1679.3,1582.8 L1680.7,1582.8 L1682.1,1582.8 L1683.5,1582.8 L1684.9,1582.8 L1686.3,1582.8 L1687.7,1582.7 L1689.1,1582.7 L1690.5,1582.7 L1691.9,1582.7 L1693.3,1582.7 L1694.7,1582.7 L1696.1,1582.7 L1697.5,1582.6 L1698.9,1582.6 L1700.3,1582.6 L1701.7,1582.6 L1703.1,1582.6 L1704.5,1582.6 L1705.9,1582.6 L1707.3,1582.6 L1708.7,1582.5 L1710.1,1582.5 L1711.5,1582.5 L1712.9,1582.5 L1714.3,1582.5 L1715.7,1582.5 L1717.1,1582.5 L1718.5,1582.4 L1719.9,1582.4 L1721.3,1582.4 L1722.7,1582.4 L1724.1,1582.4 L1725.5,1582.4 L1726.9,1582.4 L1728.3,1582.4 L1729.7,1582.3 L1731.1,1582.3 L1732.5,1582.3 L1733.9,1582.3 L1735.3,1582.3 L1736.7,1582.3 L1738.1,1582.3 L1739.5,1582.3 L1740.9,1582.2 L1742.3,1582.2 L1743.7,1582.2 L1745.0,1582.2 L1746.4,1582.2 L1747.8,1582.2 L1749.2,1582.2 L1750.6,1582.1 L1752.0,1582.1 L1753.4,1582.1 L1754.8,1582.1 L1756.2,1582.1 L1757.6,1582.1 L1759.0,1582.1 L1760.4,1582.1 L1761.8,1582.0 L1763.2,1582.0 L1764.6,1582.0 L1766.0,1582.0 L1767.4,1582.0 L1768.8,1582.0 L1770.2,1582.0 L1771.6,1581.9 L1773.0,1581.9 L1774.4,1581.9 L1775.8,1581.9 L1777.2,1581.9 L1778.6,1581.9 L1780.0,1581.9 L1781.4,1581.9 L1782.8,1581.8 L1784.2,1581.8 L1785.6,1581.8 L1787.0,1581.8 L1788.4,1581.8 L1789.8,1581.8 L1791.2,1581.8 L1792.6,1581.8 L1794.0,1581.7 L1795.4,1581.7 L1796.8,1581.7 L1798.2,1581.7 L1799.6,1581.7 L1801.0,1581.7 L1802.4,1581.7 L1803.8,1581.6 L1805.2,1581.6 L1806.6,1581.6 L1808.0,1581.6 L1809.4,1581.6 L1810.8,1581.6 L1812.2,1581.6 L1813.6,1581.6 L1815.0,1581.5 L1816.4,1581.5 L1817.8,1581.5 L1819.2,1581.5 L1820.6,1581.5 L1822.0,1581.5 L1823.4,1581.5 L1824.8,1581.4 L1826.2,1581.4 L1827.6,1581.4 L1829.0,1581.4 L1830.4,1581.4 L1831.8,1581.4 L1833.2,1581.4 L1834.6,1581.4 L1836.0,1581.3 L1837.4,1581.3 L1838.8,1581.3 L1840.2,1581.3 L1841.6,1581.3 L1843.0,1581.3 L1844.4,1581.3 L1845.8,1581.3 L1847.2,1581.2 L1848.5,1581.2 L1849.9,1581.2 L1851.3,1581.2 L1852.7,1581.2 L1854.1,1581.2 L1855.5,1581.2 L1856.9,1581.1 L1858.3,1581.1 L1859.7,1581.1 L1861.1,1581.1 L1862.5,1581.1 L1863.9,1581.1 L1865.3,1581.1 L1866.7,1581.1 L1868.1,1581.0 L1869.5,1581.0 L1870.9,1581.0 L1872.3,1581.0 L1873.7,1581.0 L1875.1,1581.0 L1876.5,1581.0 L1877.9,1580.9 L1879.3,1580.9 L1880.7,1580.9 L1882.1,1580.9 L1883.5,1580.9 L1884.9,1580.9 L1886.3,1580.9 L1887.7,1580.9 L1889.1,1580.8 L1890.5,1580.8 L1891.9,1580.8 L1893.3,1580.8 L1894.7,1580.8 L1896.1,1580.8 L1897.5,1580.8 L1898.9,1580.8 L1900.3,1580.7 L1901.7,1580.7 L1903.1,1580.7 L1904.5,1580.7 L1905.9,1580.7 L1907.3,1580.7 L1908.7,1580.7 L1910.1,1580.6 L1911.5,1580.6 L1912.9,1580.6 L1914.3,1580.6 L1915.7,1580.6 L1917.1,1580.6 L1918.5,1580.6 L1919.9,1580.6 L1921.3,1580.5 L1922.7,1580.5 L1924.1,1580.5 L1925.5,1580.5 L1926.9,1580.5 L1928.3,1580.5 L1929.7,1580.5 L1931.1,1580.4 L1932.5,1580.4 L1933.9,1580.4 L1935.3,1580.4 L1936.7,1580.4 L1938.1,1580.4 L1939.5,1580.4 L1940.9,1580.4 L1942.3,1580.3 L1943.7,1580.3 L1945.1,1580.3 L1946.5,1580.3 L1947.9,1580.3 L1949.3,1580.3 L1950.6,1580.3 L1952.0,1580.3 L1953.4,1580.2 L1954.8,1580.2 L1956.2,1580.2 L1957.6,1580.2 L1959.0,1580.2 L1960.4,1580.2 L1961.8,1580.2 L1963.2,1580.1 L1964.6,1580.1 L1966.0,1580.1 L1967.4,1580.1 L1968.8,1580.1 L1970.2,1580.1 L1971.6,1580.1 L1973.0,1580.1 L1974.4,1580.0 L1975.8,1580.0 L1977.2,1580.0 L1978.6,1580.0 L1980.0,1580.0 L1981.4,1580.0 L1982.8,1580.0 L1984.2,1579.9 L1985.6,1579.9 L1987.0,1579.9 L1988.4,1579.9 L1989.8,1579.9 L1991.2,1579.9 L1992.6,1579.9 L1994.0,1579.9 L1995.4,1579.8 L1996.8,1579.8 L1998.2,1579.8 L1999.6,1579.8 L2001.0,1579.8 L2002.4,1579.8 L2003.8,1579.8 L2005.2,1579.8 L2006.6,1579.7 L2008.0,1579.7 L2009.4,1579.7 L2010.8,1579.7 L2012.2,1579.7 L2013.6,1579.7 L2015.0,1579.7 L2016.4,1579.6 L2017.8,1579.6 L2019.2,1579.6 L2020.6,1579.6 L2022.0,1579.6 L2023.4,1579.6 L2024.8,1579.6 L2026.2,1579.6 L2027.6,1579.5 L2029.0,1579.5 L2030.4,1579.5 L2031.8,1579.5 L2033.2,1579.5 L2034.6,1579.5 L2036.0,1579.5 L2037.4,1579.5 L2038.8,1579.4 L2040.2,1579.4 L2041.6,1579.4 L2043.0,1579.4 L2044.4,1579.4 L2045.8,1579.4 L2047.2,1579.4 L2048.6,1579.3 L2050.0,1579.3 L2051.4,1579.3 L2052.8,1579.3 L2054.1,1579.3 L2055.5,1579.3 L2056.9,1579.3 L2058.3,1579.3 L2059.7,1579.2 L2061.1,1579.2 L2062.5,1579.2 L2063.9,1579.2 L2065.3,1579.2 L2066.7,1579.2 L2068.1,1579.2 L2069.5,1579.1 L2070.9,1579.1 L2072.3,1579.1 L2073.7,1579.1 L2075.1,1579.1 L2076.5,1579.1 L2077.9,1579.1 L2079.3,1579.1 L2080.7,1579.0 L2082.1,1579.0 L2083.5,1579.0 L2084.9,1579.0 L2086.3,1579.0 L2087.7,1579.0 L2089.1,1579.0 L2090.5,1579.0 L2091.9,1578.9 L2093.3,1578.9 L2094.7,1578.9 L2096.1,1578.9 L2097.5,1578.9 L2098.9,1578.9 L2100.3,1578.9 L2101.7,1578.8 L2103.1,1578.8 L2104.5,1578.8 L2105.9,1578.8 L2107.3,1578.8 L2108.7,1578.8 L2110.1,1578.8 L2111.5,1578.8 L2112.9,1578.7 L2114.3,1578.7 L2115.7,1578.7 L2117.1,1578.7 L2118.5,1578.7 L2119.9,1578.7 L2121.3,1578.7 L2122.7,1578.6 L2124.1,1578.6 L2125.5,1578.6 L2126.9,1578.6 L2128.3,1578.6 L2129.7,1578.6 L2131.1,1578.6 L2132.5,1578.6 L2133.9,1578.5 L2135.3,1578.5 L2136.7,1578.5 L2138.1,1578.5 L2139.5,1578.5 L2140.9,1578.5 L2142.3,1578.5 L2143.7,1578.5 L2145.1,1578.4 L2146.5,1578.4 L2147.9,1578.4 L2149.3,1578.4 L2150.7,1578.4 L2152.1,1578.4 L2153.5,1578.4 L2154.9,1578.3 L2156.2,1578.3 L2157.6,1578.3 L2157.6,1578.3 L2156.2,1578.3 L2154.9,1578.3 L2153.5,1578.4 L2152.1,1578.4 L2150.7,1578.4 L2149.3,1578.4 L2147.9,1578.4 L2146.5,1578.4 L2145.1,1578.4 L2143.7,1578.5 L2142.3,1578.5 L2140.9,1578.5 L2139.5,1578.5 L2138.1,1578.5 L2136.7,1578.5 L2135.3,1578.5 L2133.9,1578.5 L2132.5,1578.6 L2131.1,1578.6 L2129.7,1578.6 L2128.3,1578.6 L2126.9,1578.6 L2125.5,1578.6 L2124.1,1578.6 L2122.7,1578.6 L2121.3,1578.7 L2119.9,1578.7 L2118.5,1578.7 L2117.1,1578.7 L2115.7,1578.7 L2114.3,1578.7 L2112.9,1578.7 L2111.5,1578.8 L2110.1,1578.8 L2108.7,1578.8 L2107.3,1578.8 L2105.9,1578.8 L2104.5,1578.8 L2103.1,1578.8 L2101.7,1578.8 L2100.3,1578.9 L2098.9,1578.9 L2097.5,1578.9 L2096.1,1578.9 L2094.7,1578.9 L2093.3,1578.9 L2091.9,1578.9 L2090.5,1579.0 L2089.1,1579.0 L2087.7,1579.0 L2086.3,1579.0 L2084.9,1579.0 L2083.5,1579.0 L2082.1,1579.0 L2080.7,1579.0 L2079.3,1579.1 L2077.9,1579.1 L2076.5,1579.1 L2075.1,1579.1 L2073.7,1579.1 L2072.3,1579.1 L2070.9,1579.1 L2069.5,1579.1 L2068.1,1579.2 L2066.7,1579.2 L2065.3,1579.2 L2063.9,1579.2 L2062.5,1579.2 L2061.1,1579.2 L2059.7,1579.2 L2058.3,1579.3 L2056.9,1579.3 L2055.5,1579.3 L2054.1,1579.3 L2052.8,1579.3 L2051.4,1579.3 L2050.0,1579.3 L2048.6,1579.3 L2047.2,1579.4 L2045.8,1579.4 L2044.4,1579.4 L2043.0,1579.4 L2041.6,1579.4 L2040.2,1579.4 L2038.8,1579.4 L2037.4,1579.5 L2036.0,1579.5 L2034.6,1579.5 L2033.2,1579.5 L2031.8,1579.5 L2030.4,1579.5 L2029.0,1579.5 L2027.6,1579.5 L2026.2,1579.6 L2024.8,1579.6 L2023.4,1579.6 L2022.0,1579.6 L2020.6,1579.6 L2019.2,1579.6 L2017.8,1579.6 L2016.4,1579.6 L2015.0,1579.7 L2013.6,1579.7 L2012.2,1579.7 L2010.8,1579.7 L2009.4,1579.7 L2008.0,1579.7 L2006.6,1579.7 L2005.2,1579.8 L2003.8,1579.8 L2002.4,1579.8 L2001.0,1579.8 L1999.6,1579.8 L1998.2,1579.8 L1996.8,1579.8 L1995.4,1579.8 L1994.0,1579.9 L1992.6,1579.9 L1991.2,1579.9 L1989.8,1579.9 L1988.4,1579.9 L1987.0,1579.9 L1985.6,1579.9 L1984.2,1579.9 L1982.8,1580.0 L1981.4,1580.0 L1980.0,1580.0 L1978.6,1580.0 L1977.2,1580.0 L1975.8,1580.0 L1974.4,1580.0 L1973.0,1580.1 L1971.6,1580.1 L1970.2,1580.1 L1968.8,1580.1 L1967.4,1580.1 L1966.0,1580.1 L1964.6,1580.1 L1963.2,1580.1 L1961.8,1580.2 L1960.4,1580.2 L1959.0,1580.2 L1957.6,1580.2 L1956.2,1580.2 L1954.8,1580.2 L1953.4,1580.2 L1952.0,1580.3 L1950.6,1580.3 L1949.3,1580.3 L1947.9,1580.3 L1946.5,1580.3 L1945.1,1580.3 L1943.7,1580.3 L1942.3,1580.3 L1940.9,1580.4 L1939.5,1580.4 L1938.1,1580.4 L1936.7,1580.4 L1935.3,1580.4 L1933.9,1580.4 L1932.5,1580.4 L1931.1,1580.4 L1929.7,1580.5 L1928.3,1580.5 L1926.9,1580.5 L1925.5,1580.5 L1924.1,1580.5 L1922.7,1580.5 L1921.3,1580.5 L1919.9,1580.6 L1918.5,1580.6 L1917.1,1580.6 L1915.7,1580.6 L1914.3,1580.6 L1912.9,1580.6 L1911.5,1580.6 L1910.1,1580.6 L1908.7,1580.7 L1907.3,1580.7 L1905.9,1580.7 L1904.5,1580.7 L1903.1,1580.7 L1901.7,1580.7 L1900.3,1580.7 L1898.9,1580.8 L1897.5,1580.8 L1896.1,1580.8 L1894.7,1580.8 L1893.3,1580.8 L1891.9,1580.8 L1890.5,1580.8 L1889.1,1580.8 L1887.7,1580.9 L1886.3,1580.9 L1884.9,1580.9 L1883.5,1580.9 L1882.1,1580.9 L1880.7,1580.9 L1879.3,1580.9 L1877.9,1580.9 L1876.5,1581.0 L1875.1,1581.0 L1873.7,1581.0 L1872.3,1581.0 L1870.9,1581.0 L1869.5,1581.0 L1868.1,1581.0 L1866.7,1581.1 L1865.3,1581.1 L1863.9,1581.1 L1862.5,1581.1 L1861.1,1581.1 L1859.7,1581.1 L1858.3,1581.1 L1856.9,1581.1 L1855.5,1581.2 L1854.1,1581.2 L1852.7,1581.2 L1851.3,1581.2 L1849.9,1581.2 L1848.5,1581.2 L1847.2,1581.2 L1845.8,1581.3 L1844.4,1581.3 L1843.0,1581.3 L1841.6,1581.3 L1840.2,1581.3 L1838.8,1581.3 L1837.4,1581.3 L1836.0,1581.3 L1834.6,1581.4 L1833.2,1581.4 L1831.8,1581.4 L1830.4,1581.4 L1829.0,1581.4 L1827.6,1581.4 L1826.2,1581.4 L1824.8,1581.4 L1823.4,1581.5 L1822.0,1581.5 L1820.6,1581.5 L1819.2,1581.5 L1817.8,1581.5 L1816.4,1581.5 L1815.0,1581.5 L1813.6,1581.6 L1812.2,1581.6 L1810.8,1581.6 L1809.4,1581.6 L1808.0,1581.6 L1806.6,1581.6 L1805.2,1581.6 L1803.8,1581.6 L1802.4,1581.7 L1801.0,1581.7 L1799.6,1581.7 L1798.2,1581.7 L1796.8,1581.7 L1795.4,1581.7 L1794.0,1581.7 L1792.6,1581.8 L1791.2,1581.8 L1789.8,1581.8 L1788.4,1581.8 L1787.0,1581.8 L1785.6,1581.8 L1784.2,1581.8 L1782.8,1581.8 L1781.4,1581.9 L1780.0,1581.9 L1778.6,1581.9 L1777.2,1581.9 L1775.8,1581.9 L1774.4,1581.9 L1773.0,1581.9 L1771.6,1581.9 L1770.2,1582.0 L1768.8,1582.0 L1767.4,1582.0 L1766.0,1582.0 L1764.6,1582.0 L1763.2,1582.0 L1761.8,1582.0 L1760.4,1582.1 L1759.0,1582.1 L1757.6,1582.1 L1756.2,1582.1 L1754.8,1582.1 L1753.4,1582.1 L1752.0,1582.1 L1750.6,1582.1 L1749.2,1582.2 L1747.8,1582.2 L1746.4,1582.2 L1745.0,1582.2 L1743.7,1582.2 L1742.3,1582.2 L1740.9,1582.2 L1739.5,1582.3 L1738.1,1582.3 L1736.7,1582.3 L1735.3,1582.3 L1733.9,1582.3 L1732.5,1582.3 L1731.1,1582.3 L1729.7,1582.3 L1728.3,1582.4 L1726.9,1582.4 L1725.5,1582.4 L1724.1,1582.4 L1722.7,1582.4 L1721.3,1582.4 L1719.9,1582.4 L1718.5,1582.4 L1717.1,1582.5 L1715.7,1582.5 L1714.3,1582.5 L1712.9,1582.5 L1711.5,1582.5 L1710.1,1582.5 L1708.7,1582.5 L1707.3,1582.6 L1705.9,1582.6 L1704.5,1582.6 L1703.1,1582.6 L1701.7,1582.6 L1700.3,1582.6 L1698.9,1582.6 L1697.5,1582.6 L1696.1,1582.7 L1694.7,1582.7 L1693.3,1582.7 L1691.9,1582.7 L1690.5,1582.7 L1689.1,1582.7 L1687.7,1582.7 L1686.3,1582.8 L1684.9,1582.8 L1683.5,1582.8 L1682.1,1582.8 L1680.7,1582.8 L1679.3,1582.8 L1677.9,1582.8 L1676.5,1582.8 L1675.1,1582.9 L1673.7,1582.9 L1672.3,1582.9 L1670.9,1582.9 L1669.5,1582.9 L1668.1,1582.9 L1666.7,1582.9 L1665.3,1582.9 L1663.9,1583.0 L1662.5,1583.0 L1661.1,1583.0 L1659.7,1583.0 L1658.3,1583.0 L1656.9,1583.0 L1655.5,1583.0 L1654.1,1583.1 L1652.7,1583.1 L1651.3,1583.1 L1649.9,1583.1 L1648.5,1583.1 L1647.1,1583.1 L1645.7,1583.1 L1644.3,1583.1 L1642.9,1583.2 L1641.6,1583.2 L1640.2,1583.2 L1638.8,1583.2 L1637.4,1583.2 L1636.0,1583.2 L1634.6,1583.2 L1633.2,1583.2 L1631.8,1583.3 L1630.4,1583.3 L1629.0,1583.3 L1627.6,1583.3 L1626.2,1583.3 L1624.8,1583.3 L1623.4,1583.3 L1622.0,1583.4 L1620.6,1583.4 L1619.2,1583.4 L1617.8,1583.4 L1616.4,1583.4 L1615.0,1583.4 L1613.6,1583.4 L1612.2,1583.4 L1610.8,1583.5 L1609.4,1583.5 L1608.0,1583.5 L1606.6,1583.5 L1605.2,1583.5 L1603.8,1583.5 L1602.4,1583.5 L1601.0,1583.6 L1599.6,1583.6 L1598.2,1583.6 L1596.8,1583.6 L1595.4,1583.6 L1594.0,1583.6 L1592.6,1583.6 L1591.2,1583.6 L1589.8,1583.7 L1588.4,1583.7 L1587.0,1583.7 L1585.6,1583.7 L1584.2,1583.7 L1582.8,1583.7 L1581.4,1583.7 L1580.0,1583.7 L1578.6,1583.8 L1577.2,1583.8 L1575.8,1583.8 L1574.4,1583.8 L1573.0,1583.8 L1571.6,1583.8 L1570.2,1583.8 L1568.8,1583.9 L1567.4,1583.9 L1566.0,1583.9 L1564.6,1583.9 L1563.2,1583.9 L1561.8,1583.9 L1560.4,1583.9 L1559.0,1583.9 L1557.6,1584.0 L1556.2,1584.0 L1554.8,1584.0 L1553.4,1584.0 L1552.0,1584.0 L1550.6,1584.0 L1549.2,1584.0 L1547.8,1584.1 L1546.4,1584.1 L1545.0,1584.1 L1543.6,1584.1 L1542.2,1584.1 L1540.8,1584.1 L1539.4,1584.1 L1538.1,1584.1 L1536.7,1584.2 L1535.3,1584.2 L1533.9,1584.2 L1532.5,1584.2 L1531.1,1584.2 L1529.7,1584.2 L1528.3,1584.2 L1526.9,1584.2 L1525.5,1584.3 L1524.1,1584.3 L1522.7,1584.3 L1521.3,1584.3 L1519.9,1584.3 L1518.5,1584.3 L1517.1,1584.3 L1515.7,1584.4 L1514.3,1584.4 L1512.9,1584.4 L1511.5,1584.4 L1510.1,1584.4 L1508.7,1584.4 L1507.3,1584.4 L1505.9,1584.4 L1504.5,1584.5 L1503.1,1584.5 L1501.7,1584.5 L1500.3,1584.5 L1498.9,1584.5 L1497.5,1584.5 L1496.1,1584.5 L1494.7,1584.6 L1493.3,1584.6 L1491.9,1584.6 L1490.5,1584.6 L1489.1,1584.6 L1487.7,1584.6 L1486.3,1584.6 L1484.9,1584.6 L1483.5,1584.7 L1482.1,1584.7 L1480.7,1584.7 L1479.3,1584.7 L1477.9,1584.7 L1476.5,1584.7 L1475.1,1584.7 L1473.7,1584.7 L1472.3,1584.8 L1470.9,1584.8 L1469.5,1584.8 L1468.1,1584.8 L1466.7,1584.8 L1465.3,1584.8 L1463.9,1584.8 L1462.5,1584.9 L1461.1,1584.9 L1459.7,1584.9 L1458.3,1584.9 L1456.9,1584.9 L1455.5,1584.9 L1454.1,1584.9 L1452.7,1584.9 L1451.3,1585.0 L1449.9,1585.0 L1448.5,1585.0 L1447.1,1585.0 L1445.7,1585.0 L1444.3,1585.0 L1442.9,1585.0 L1441.5,1585.1 L1440.1,1585.1 L1438.7,1585.1 L1437.3,1585.1 L1436.0,1585.1 L1434.6,1585.1 L1433.2,1585.1 L1431.8,1585.1 L1430.4,1585.2 L1429.0,1585.2 L1427.6,1585.2 L1426.2,1585.2 L1424.8,1585.2 L1423.4,1585.2 L1422.0,1585.2 L1420.6,1585.2 L1419.2,1585.3 L1417.8,1585.3 L1416.4,1585.3 L1415.0,1585.3 L1413.6,1585.3 L1412.2,1585.3 L1410.8,1585.3 L1409.4,1585.4 L1408.0,1585.4 L1406.6,1585.4 L1405.2,1585.4 L1403.8,1585.4 L1402.4,1585.4 L1401.0,1585.4 L1399.6,1585.4 L1398.2,1585.5 L1396.8,1585.5 L1395.4,1585.5 L1394.0,1585.5 L1392.6,1585.5 L1391.2,1585.5 L1389.8,1585.5 L1388.4,1585.6 L1387.0,1585.6 L1385.6,1585.6 L1384.2,1585.6 L1382.8,1585.6 L1381.4,1585.6 L1380.0,1585.6 L1378.6,1585.6 L1377.2,1585.7 L1375.8,1585.7 L1374.4,1585.7 L1373.0,1585.7 L1371.6,1585.7 L1370.2,1585.7 L1368.8,1585.7 L1367.4,1585.7 L1366.0,1585.8 L1364.6,1585.8 L1363.2,1585.8 L1361.8,1585.8 L1360.4,1585.8 L1359.0,1585.8 L1357.6,1585.8 L1356.2,1585.9 L1354.8,1585.9 L1353.4,1585.9 L1352.0,1585.9 L1350.6,1585.9 L1349.2,1585.9 L1347.8,1585.9 L1346.4,1585.9 L1345.0,1586.0 L1343.6,1586.0 L1342.2,1586.0 L1340.8,1586.0 L1339.4,1586.0 L1338.0,1586.0 L1336.6,1586.0 L1335.2,1586.1 L1333.9,1586.1 L1332.5,1586.1 L1331.1,1586.1 L1329.7,1586.1 L1328.3,1586.1 L1326.9,1586.1 L1325.5,1586.1 L1324.1,1586.2 L1322.7,1586.2 L1321.3,1586.2 L1319.9,1586.2 L1318.5,1586.2 L1317.1,1586.2 L1315.7,1586.2 L1314.3,1586.2 L1312.9,1586.3 L1311.5,1586.3 L1310.1,1586.3 L1308.7,1586.3 L1307.3,1586.3 L1305.9,1586.3 L1304.5,1586.3 L1303.1,1586.4 L1301.7,1586.4 L1300.3,1586.4 L1298.9,1586.4 L1297.5,1586.4 L1296.1,1586.4 L1294.7,1586.4 L1293.3,1586.4 L1291.9,1586.5 L1290.5,1586.5 L1289.1,1586.5 L1287.7,1586.5 L1286.3,1586.5 L1284.9,1586.5 L1283.5,1586.5 L1282.1,1586.5 L1280.7,1586.6 L1279.3,1586.6 L1277.9,1586.6 L1276.5,1586.6 L1275.1,1586.6 L1273.7,1586.6 L1272.3,1586.6 L1270.9,1586.7 L1269.5,1586.7 L1268.1,1586.7 L1266.7,1586.7 L1265.3,1586.7 L1263.9,1586.7 L1262.5,1586.7 L1261.1,1586.7 L1259.7,1586.8 L1258.3,1586.8 L1256.9,1586.8 L1255.5,1586.8 L1254.1,1586.8 L1252.7,1586.8 L1251.3,1586.8 L1249.9,1586.9 L1248.5,1586.9 L1247.1,1586.9 L1245.7,1586.9 L1244.3,1586.9 L1242.9,1586.9 L1241.5,1586.9 L1240.1,1586.9 L1238.7,1587.0 L1237.3,1587.0 L1235.9,1587.0 L1234.5,1587.0 L1233.1,1587.0 L1231.7,1587.0 L1230.4,1587.0 L1229.0,1587.0 L1227.6,1587.1 L1226.2,1587.1 L1224.8,1587.1 L1223.4,1587.1 L1222.0,1587.1 L1220.6,1587.1 L1219.2,1587.1 L1217.8,1587.2 L1216.4,1587.2 L1215.0,1587.2 L1213.6,1587.2 L1212.2,1587.2 L1210.8,1587.2 L1209.4,1587.2 L1208.0,1587.2 L1206.6,1587.3 L1205.2,1587.3 L1203.8,1587.3 L1202.4,1587.3 L1201.0,1587.3 L1199.6,1587.3 L1198.2,1587.3 L1196.8,1587.4 L1195.4,1587.4 L1194.0,1587.4 L1192.6,1587.4 L1191.2,1587.4 L1189.8,1587.4 L1188.4,1587.4 L1187.0,1587.4 L1185.6,1587.5 L1184.2,1587.5 L1182.8,1587.5 L1181.4,1587.5 L1180.0,1587.5Z" fill="#ff00ff" stroke="#ff00ff" stroke-width="1.2" stroke-linejoin="round"/>
<path d="M1180.0,1586.8 L1181.4,1586.8 L1182.8,1586.7 L1184.2,1586.6 L1185.6,1586.6 L1187.0,1586.5 L1188.4,1586.4 L1189.8,1586.3 L1191.2,1586.3 L1192.6,1586.2 L1194.0,1586.1 L1195.4,1586.1 L1196.8,1586.0 L1198.2,1585.9 L1199.6,1585.8 L1201.0,1585.8 L1202.4,1585.7 L1203.8,1585.6 L1205.2,1585.5 L1206.6,1585.5 L1208.0,1585.4 L1209.4,1585.3 L1210.8,1585.2 L1212.2,1585.1 L1213.6,1585.1 L1215.0,1585.0 L1216.4,1584.9 L1217.8,1584.8 L1219.2,1584.7 L1220.6,1584.6 L1222.0,1584.6 L1223.4,1584.5 L1224.8,1584.4 L1226.2,1584.3 L1227.6,1584.2 L1229.0,1584.1 L1230.4,1584.0 L1231.7,1583.9 L1233.1,1583.9 L1234.5,1583.8 L1235.9,1583.7 L1237.3,1583.6 L1238.7,1583.5 L1240.1,1583.4 L1241.5,1583.3 L1242.9,1583.2 L1244.3,1583.1 L1245.7,1583.0 L1247.1,1582.9 L1248.5,1582.8 L1249.9,1582.7 L1251.3,1582.6 L1252.7,1582.5 L1254.1,1582.4 L1255.5,1582.3 L1256.9,1582.1 L1258.3,1582.0 L1259.7,1581.9 L1261.1,1581.8 L1262.5,1581.7 L1263.9,1581.6 L1265.3,1581.5 L1266.7,1581.4 L1268.1,1581.2 L1269.5,1581.1 L1270.9,1581.0 L1272.3,1580.9 L1273.7,1580.7 L1275.1,1580.6 L1276.5,1580.5 L1277.9,1580.4 L1279.3,1580.2 L1280.7,1580.1 L1282.1,1580.0 L1283.5,1579.8 L1284.9,1579.7 L1286.3,1579.6 L1287.7,1579.4 L1289.1,1579.3 L1290.5,1579.1 L1291.9,1579.0 L1293.3,1578.9 L1294.7,1578.7 L1296.1,1578.6 L1297.5,1578.4 L1298.9,1578.3 L1300.3,1578.1 L1301.7,1577.9 L1303.1,1577.8 L1304.5,1577.6 L1305.9,1577.5 L1307.3,1577.3 L1308.7,1577.1 L1310.1,1577.0 L1311.5,1576.8 L1312.9,1576.6 L1314.3,1576.4 L1315.7,1576.3 L1317.1,1576.1 L1318.5,1575.9 L1319.9,1575.7 L1321.3,1575.5 L1322.7,1575.3 L1324.1,1575.2 L1325.5,1575.0 L1326.9,1574.8 L1328.3,1574.6 L1329.7,1574.4 L1331.1,1574.1 L1332.5,1573.9 L1333.9,1573.7 L1335.2,1573.5 L1336.6,1573.3 L1338.0,1573.1 L1339.4,1572.8 L1340.8,1572.6 L1342.2,1572.4 L1343.6,1572.1 L1345.0,1571.9 L1346.4,1571.7 L1347.8,1571.4 L1349.2,1571.2 L1350.6,1570.9 L1352.0,1570.7 L1353.4,1570.4 L1354.8,1570.1 L1356.2,1569.9 L1357.6,1569.6 L1359.0,1569.3 L1360.4,1569.0 L1361.8,1568.7 L1363.2,1568.4 L1364.6,1568.1 L1366.0,1567.8 L1367.4,1567.5 L1368.8,1567.2 L1370.2,1566.9 L1371.6,1566.6 L1373.0,1566.3 L1374.4,1565.9 L1375.8,1565.6 L1377.2,1565.2 L1378.6,1564.9 L1380.0,1564.5 L1381.4,1564.2 L1382.8,1563.8 L1384.2,1563.4 L1385.6,1563.0 L1387.0,1562.6 L1388.4,1562.2 L1389.8,1561.8 L1391.2,1561.4 L1392.6,1561.0 L1394.0,1560.6 L1395.4,1560.1 L1396.8,1559.7 L1398.2,1559.2 L1399.6,1558.8 L1401.0,1558.3 L1402.4,1557.8 L1403.8,1557.3 L1405.2,1556.8 L1406.6,1556.3 L1408.0,1555.8 L1409.4,1555.2 L1410.8,1554.7 L1412.2,1554.1 L1413.6,1553.5 L1415.0,1552.9 L1416.4,1552.3 L1417.8,1551.7 L1419.2,1551.1 L1420.6,1550.5 L1422.0,1549.8 L1423.4,1549.1 L1424.8,1548.4 L1426.2,1547.7 L1427.6,1547.0 L1429.0,1546.3 L1430.4,1545.5 L1431.8,1544.7 L1433.2,1543.9 L1434.6,1543.1 L1436.0,1542.2 L1437.3,1541.4 L1438.7,1540.5 L1440.1,1539.6 L1441.5,1538.6 L1442.9,1537.6 L1444.3,1536.6 L1445.7,1535.6 L1447.1,1534.6 L1448.5,1533.5 L1449.9,1532.4 L1451.3,1531.2 L1452.7,1530.0 L1454.1,1528.8 L1455.5,1527.5 L1456.9,1526.2 L1458.3,1524.9 L1459.7,1523.5 L1461.1,1522.1 L1462.5,1520.6 L1463.9,1519.1 L1465.3,1517.5 L1466.7,1515.9 L1468.1,1514.2 L1469.5,1512.5 L1470.9,1510.7 L1472.3,1508.8 L1473.7,1506.9 L1475.1,1505.0 L1476.5,1502.9 L1477.9,1500.8 L1479.3,1498.7 L1480.7,1496.4 L1482.1,1494.1 L1483.5,1491.7 L1484.9,1489.2 L1486.3,1486.7 L1487.7,1484.0 L1489.1,1481.3 L1490.5,1478.5 L1491.9,1475.6 L1493.3,1472.6 L1494.7,1469.5 L1496.1,1466.3 L1497.5,1463.0 L1498.9,1459.6 L1500.3,1456.1 L1501.7,1452.5 L1503.1,1448.7 L1504.5,1444.9 L1505.9,1440.9 L1507.3,1436.9 L1508.7,1432.7 L1510.1,1428.3 L1511.5,1423.9 L1512.9,1419.3 L1514.3,1414.6 L1515.7,1409.8 L1517.1,1404.8 L1518.5,1399.7 L1519.9,1394.5 L1521.3,1389.1 L1522.7,1383.6 L1524.1,1377.9 L1525.5,1372.1 L1526.9,1366.2 L1528.3,1360.1 L1529.7,1353.9 L1531.1,1347.6 L1532.5,1341.1 L1533.9,1334.5 L1535.3,1327.8 L1536.7,1321.0 L1538.1,1314.0 L1539.4,1306.9 L1540.8,1299.7 L1542.2,1292.4 L1543.6,1284.9 L1545.0,1277.4 L1546.4,1269.8 L1547.8,1262.2 L1549.2,1254.4 L1550.6,1246.7 L1552.0,1238.9 L1553.4,1231.0 L1554.8,1223.2 L1556.2,1215.4 L1557.6,1207.6 L1559.0,1199.8 L1560.4,1192.2 L1561.8,1184.6 L1563.2,1177.2 L1564.6,1169.9 L1566.0,1162.7 L1567.4,1155.8 L1568.8,1149.1 L1570.2,1142.6 L1571.6,1136.5 L1573.0,1130.6 L1574.4,1125.1 L1575.8,1120.0 L1577.2,1115.3 L1578.6,1110.9 L1580.0,1107.1 L1581.4,1103.7 L1582.8,1100.8 L1584.2,1098.4 L1585.6,1096.5 L1587.0,1095.2 L1588.4,1094.4 L1589.8,1094.1 L1591.2,1094.4 L1592.6,1095.2 L1594.0,1096.6 L1595.4,1098.5 L1596.8,1101.0 L1598.2,1103.9 L1599.6,1107.4 L1601.0,1111.3 L1602.4,1115.6 L1603.8,1120.4 L1605.2,1125.5 L1606.6,1131.1 L1608.0,1136.9 L1609.4,1143.1 L1610.8,1149.5 L1612.2,1156.3 L1613.6,1163.2 L1615.0,1170.3 L1616.4,1177.6 L1617.8,1185.0 L1619.2,1192.6 L1620.6,1200.2 L1622.0,1208.0 L1623.4,1215.7 L1624.8,1223.5 L1626.2,1231.3 L1627.6,1239.1 L1629.0,1246.9 L1630.4,1254.6 L1631.8,1262.3 L1633.2,1270.0 L1634.6,1277.5 L1636.0,1285.0 L1637.4,1292.3 L1638.8,1299.6 L1640.2,1306.8 L1641.6,1313.8 L1642.9,1320.8 L1644.3,1327.6 L1645.7,1334.3 L1647.1,1340.8 L1648.5,1347.2 L1649.9,1353.5 L1651.3,1359.7 L1652.7,1365.7 L1654.1,1371.6 L1655.5,1377.3 L1656.9,1382.9 L1658.3,1388.4 L1659.7,1393.7 L1661.1,1398.9 L1662.5,1403.9 L1663.9,1408.8 L1665.3,1413.6 L1666.7,1418.3 L1668.1,1422.8 L1669.5,1427.2 L1670.9,1431.5 L1672.3,1435.7 L1673.7,1439.7 L1675.1,1443.6 L1676.5,1447.4 L1677.9,1451.1 L1679.3,1454.6 L1680.7,1458.1 L1682.1,1461.5 L1683.5,1464.7 L1684.9,1467.9 L1686.3,1470.9 L1687.7,1473.9 L1689.1,1476.7 L1690.5,1479.5 L1691.9,1482.2 L1693.3,1484.8 L1694.7,1487.3 L1696.1,1489.7 L1697.5,1492.1 L1698.9,1494.4 L1700.3,1496.6 L1701.7,1498.7 L1703.1,1500.8 L1704.5,1502.8 L1705.9,1504.7 L1707.3,1506.6 L1708.7,1508.4 L1710.1,1510.1 L1711.5,1511.8 L1712.9,1513.4 L1714.3,1515.0 L1715.7,1516.6 L1717.1,1518.1 L1718.5,1519.5 L1719.9,1520.9 L1721.3,1522.2 L1722.7,1523.5 L1724.1,1524.8 L1725.5,1526.0 L1726.9,1527.2 L1728.3,1528.4 L1729.7,1529.5 L1731.1,1530.6 L1732.5,1531.6 L1733.9,1532.7 L1735.3,1533.7 L1736.7,1534.6 L1738.1,1535.6 L1739.5,1536.5 L1740.9,1537.3 L1742.3,1538.2 L1743.7,1539.0 L1745.0,1539.9 L1746.4,1540.6 L1747.8,1541.4 L1749.2,1542.2 L1750.6,1542.9 L1752.0,1543.6 L1753.4,1544.3 L1754.8,1545.0 L1756.2,1545.6 L1757.6,1546.3 L1759.0,1546.9 L1760.4,1547.5 L1761.8,1548.1 L1763.2,1548.7 L1764.6,1549.3 L1766.0,1549.8 L1767.4,1550.4 L1768.8,1550.9 L1770.2,1551.4 L1771.6,1551.9 L1773.0,1552.4 L1774.4,1552.9 L1775.8,1553.4 L1777.2,1553.8 L1778.6,1554.3 L1780.0,1554.7 L1781.4,1555.2 L1782.8,1555.6 L1784.2,1556.0 L1785.6,1556.4 L1787.0,1556.8 L1788.4,1557.2 L1789.8,1557.6 L1791.2,1558.0 L1792.6,1558.3 L1794.0,1558.7 L1795.4,1559.0 L1796.8,1559.4 L1798.2,1559.7 L1799.6,1560.1 L1801.0,1560.4 L1802.4,1560.7 L1803.8,1561.0 L1805.2,1561.3 L1806.6,1561.6 L1808.0,1561.9 L1809.4,1562.2 L1810.8,1562.5 L1812.2,1562.8 L1813.6,1563.1 L1815.0,1563.3 L1816.4,1563.6 L1817.8,1563.9 L1819.2,1564.1 L1820.6,1564.4 L1822.0,1564.6 L1823.4,1564.9 L1824.8,1565.1 L1826.2,1565.3 L1827.6,1565.6 L1829.0,1565.8 L1830.4,1566.0 L1831.8,1566.2 L1833.2,1566.5 L1834.6,1566.7 L1836.0,1566.9 L1837.4,1567.1 L1838.8,1567.3 L1840.2,1567.5 L1841.6,1567.7 L1843.0,1567.9 L1844.4,1568.1 L1845.8,1568.2 L1847.2,1568.4 L1848.5,1568.6 L1849.9,1568.8 L1851.3,1569.0 L1852.7,1569.1 L1854.1,1569.3 L1855.5,1569.5 L1856.9,1569.6 L1858.3,1569.8 L1859.7,1569.9 L1861.1,1570.1 L1862.5,1570.2 L1863.9,1570.4 L1865.3,1570.5 L1866.7,1570.7 L1868.1,1570.8 L1869.5,1571.0 L1870.9,1571.1 L1872.3,1571.2 L1873.7,1571.4 L1875.1,1571.5 L1876.5,1571.6 L1877.9,1571.8 L1879.3,1571.9 L1880.7,1572.0 L1882.1,1572.1 L1883.5,1572.3 L1884.9,1572.4 L1886.3,1572.5 L1887.7,1572.6 L1889.1,1572.7 L1890.5,1572.8 L1891.9,1572.9 L1893.3,1573.1 L1894.7,1573.2 L1896.1,1573.3 L1897.5,1573.4 L1898.9,1573.5 L1900.3,1573.6 L1901.7,1573.7 L1903.1,1573.8 L1904.5,1573.9 L1905.9,1574.0 L1907.3,1574.1 L1908.7,1574.1 L1910.1,1574.2 L1911.5,1574.3 L1912.9,1574.4 L1914.3,1574.5 L1915.7,1574.6 L1917.1,1574.7 L1918.5,1574.8 L1919.9,1574.8 L1921.3,1574.9 L1922.7,1575.0 L1924.1,1575.1 L1925.5,1575.2 L1926.9,1575.2 L1928.3,1575.3 L1929.7,1575.4 L1931.1,1575.5 L1932.5,1575.5 L1933.9,1575.6 L1935.3,1575.7 L1936.7,1575.7 L1938.1,1575.8 L1939.5,1575.9 L1940.9,1575.9 L1942.3,1576.0 L1943.7,1576.1 L1945.1,1576.1 L1946.5,1576.2 L1947.9,1576.3 L1949.3,1576.3 L1950.6,1576.4 L1952.0,1576.4 L1953.4,1576.5 L1954.8,1576.5 L1956.2,1576.6 L1957.6,1576.7 L1959.0,1576.7 L1960.4,1576.8 L1961.8,1576.8 L1963.2,1576.9 L1964.6,1576.9 L1966.0,1577.0 L1967.4,1577.0 L1968.8,1577.1 L1970.2,1577.1 L1971.6,1577.2 L1973.0,1577.2 L1974.4,1577.3 L1975.8,1577.3 L1977.2,1577.4 L1978.6,1577.4 L1980.0,1577.5 L1981.4,1577.5 L1982.8,1577.5 L1984.2,1577.6 L1985.6,1577.6 L1987.0,1577.7 L1988.4,1577.7 L1989.8,1577.7 L1991.2,1577.8 L1992.6,1577.8 L1994.0,1577.9 L1995.4,1577.9 L1996.8,1577.9 L1998.2,1578.0 L1999.6,1578.0 L2001.0,1578.0 L2002.4,1578.1 L2003.8,1578.1 L2005.2,1578.2 L2006.6,1578.2 L2008.0,1578.2 L2009.4,1578.3 L2010.8,1578.3 L2012.2,1578.3 L2013.6,1578.4 L2015.0,1578.4 L2016.4,1578.4 L2017.8,1578.4 L2019.2,1578.5 L2020.6,1578.5 L2022.0,1578.5 L2023.4,1578.6 L2024.8,1578.6 L2026.2,1578.6 L2027.6,1578.6 L2029.0,1578.7 L2030.4,1578.7 L2031.8,1578.7 L2033.2,1578.8 L2034.6,1578.8 L2036.0,1578.8 L2037.4,1578.8 L2038.8,1578.9 L2040.2,1578.9 L2041.6,1578.9 L2043.0,1578.9 L2044.4,1578.9 L2045.8,1579.0 L2047.2,1579.0 L2048.6,1579.0 L2050.0,1579.0 L2051.4,1579.1 L2052.8,1579.1 L2054.1,1579.1 L2055.5,1579.1 L2056.9,1579.1 L2058.3,1579.2 L2059.7,1579.2 L2061.1,1579.2 L2062.5,1579.2 L2063.9,1579.2 L2065.3,1579.2 L2066.7,1579.2 L2068.1,1579.2 L2069.5,1579.1 L2070.9,1579.1 L2072.3,1579.1 L2073.7,1579.1 L2075.1,1579.1 L2076.5,1579.1 L2077.9,1579.1 L2079.3,1579.1 L2080.7,1579.0 L2082.1,1579.0 L2083.5,1579.0 L2084.9,1579.0 L2086.3,1579.0 L2087.7,1579.0 L2089.1,1579.0 L2090.5,1579.0 L2091.9,1578.9 L2093.3,1578.9 L2094.7,1578.9 L2096.1,1578.9 L2097.5,1578.9 L2098.9,1578.9 L2100.3,1578.9 L2101.7,1578.8 L2103.1,1578.8 L2104.5,1578.8 L2105.9,1578.8 L2107.3,1578.8 L2108.7,1578.8 L2110.1,1578.8 L2111.5,1578.8 L2112.9,1578.7 L2114.3,1578.7 L2115.7,1578.7 L2117.1,1578.7 L2118.5,1578.7 L2119.9,1578.7 L2121.3,1578.7 L2122.7,1578.6 L2124.1,1578.6 L2125.5,1578.6 L2126.9,1578.6 L2128.3,1578.6 L2129.7,1578.6 L2131.1,1578.6 L2132.5,1578.6 L2133.9,1578.5 L2135.3,1578.5 L2136.7,1578.5 L2138.1,1578.5 L2139.5,1578.5 L2140.9,1578.5 L2142.3,1578.5 L2143.7,1578.5 L2145.1,1578.4 L2146.5,1578.4 L2147.9,1578.4 L2149.3,1578.4 L2150.7,1578.4 L2152.1,1578.4 L2153.5,1578.4 L2154.9,1578.3 L2156.2,1578.3 L2157.6,1578.3 L2157.6,1578.3 L2156.2,1578.3 L2154.9,1578.3 L2153.5,1578.4 L2152.1,1578.4 L2150.7,1578.4 L2149.3,1578.4 L2147.9,1578.4 L2146.5,1578.4 L2145.1,1578.4 L2143.7,1578.5 L2142.3,1578.5 L2140.9,1578.5 L2139.5,1578.5 L2138.1,1578.5 L2136.7,1578.5 L2135.3,1578.5 L2133.9,1578.5 L2132.5,1578.6 L2131.1,1578.6 L2129.7,1578.6 L2128.3,1578.6 L2126.9,1578.6 L2125.5,1578.6 L2124.1,1578.6 L2122.7,1578.6 L2121.3,1578.7 L2119.9,1578.7 L2118.5,1578.7 L2117.1,1578.7 L2115.7,1578.7 L2114.3,1578.7 L2112.9,1578.7 L2111.5,1578.8 L2110.1,1578.8 L2108.7,1578.8 L2107.3,1578.8 L2105.9,1578.8 L2104.5,1578.8 L2103.1,1578.8 L2101.7,1578.8 L2100.3,1578.9 L2098.9,1578.9 L2097.5,1578.9 L2096.1,1578.9 L2094.7,1578.9 L2093.3,1578.9 L2091.9,1578.9 L2090.5,1579.0 L2089.1,1579.0 L2087.7,1579.0 L2086.3,1579.0 L2084.9,1579.0 L2083.5,1579.0 L2082.1,1579.0 L2080.7,1579.0 L2079.3,1579.1 L2077.9,1579.1 L2076.5,1579.1 L2075.1,1579.1 L2073.7,1579.1 L2072.3,1579.1 L2070.9,1579.1 L2069.5,1579.1 L2068.1,1579.2 L2066.7,1579.2 L2065.3,1579.2 L2063.9,1579.2 L2062.5,1579.2 L2061.1,1579.2 L2059.7,1579.2 L2058.3,1579.3 L2056.9,1579.3 L2055.5,1579.3 L2054.1,1579.3 L2052.8,1579.3 L2051.4,1579.3 L2050.0,1579.3 L2048.6,1579.3 L2047.2,1579.4 L2045.8,1579.4 L2044.4,1579.4 L2043.0,1579.4 L2041.6,1579.4 L2040.2,1579.4 L2038.8,1579.4 L2037.4,1579.5 L2036.0,1579.5 L2034.6,1579.5 L2033.2,1579.5 L2031.8,1579.5 L2030.4,1579.5 L2029.0,1579.5 L2027.6,1579.5 L2026.2,1579.6 L2024.8,1579.6 L2023.4,1579.6 L2022.0,1579.6 L2020.6,1579.6 L2019.2,1579.6 L2017.8,1579.6 L2016.4,1579.6 L2015.0,1579.7 L2013.6,1579.7 L2012.2,1579.7 L2010.8,1579.7 L2009.4,1579.7 L2008.0,1579.7 L2006.6,1579.7 L2005.2,1579.8 L2003.8,1579.8 L2002.4,1579.8 L2001.0,1579.8 L1999.6,1579.8 L1998.2,1579.8 L1996.8,1579.8 L1995.4,1579.8 L1994.0,1579.9 L1992.6,1579.9 L1991.2,1579.9 L1989.8,1579.9 L1988.4,1579.9 L1987.0,1579.9 L1985.6,1579.9 L1984.2,1579.9 L1982.8,1580.0 L1981.4,1580.0 L1980.0,1580.0 L1978.6,1580.0 L1977.2,1580.0 L1975.8,1580.0 L1974.4,1580.0 L1973.0,1580.1 L1971.6,1580.1 L1970.2,1580.1 L1968.8,1580.1 L1967.4,1580.1 L1966.0,1580.1 L1964.6,1580.1 L1963.2,1580.1 L1961.8,1580.2 L1960.4,1580.2 L1959.0,1580.2 L1957.6,1580.2 L1956.2,1580.2 L1954.8,1580.2 L1953.4,1580.2 L1952.0,1580.3 L1950.6,1580.3 L1949.3,1580.3 L1947.9,1580.3 L1946.5,1580.3 L1945.1,1580.3 L1943.7,1580.3 L1942.3,1580.3 L1940.9,1580.4 L1939.5,1580.4 L1938.1,1580.4 L1936.7,1580.4 L1935.3,1580.4 L1933.9,1580.4 L1932.5,1580.4 L1931.1,1580.4 L1929.7,1580.5 L1928.3,1580.5 L1926.9,1580.5 L1925.5,1580.5 L1924.1,1580.5 L1922.7,1580.5 L1921.3,1580.5 L1919.9,1580.6 L1918.5,1580.6 L1917.1,1580.6 L1915.7,1580.6 L1914.3,1580.6 L1912.9,1580.6 L1911.5,1580.6 L1910.1,1580.6 L1908.7,1580.7 L1907.3,1580.7 L1905.9,1580.7 L1904.5,1580.7 L1903.1,1580.7 L1901.7,1580.7 L1900.3,1580.7 L1898.9,1580.8 L1897.5,1580.8 L1896.1,1580.8 L1894.7,1580.8 L1893.3,1580.8 L1891.9,1580.8 L1890.5,1580.8 L1889.1,1580.8 L1887.7,1580.9 L1886.3,1580.9 L1884.9,1580.9 L1883.5,1580.9 L1882.1,1580.9 L1880.7,1580.9 L1879.3,1580.9 L1877.9,1580.9 L1876.5,1581.0 L1875.1,1581.0 L1873.7,1581.0 L1872.3,1581.0 L1870.9,1581.0 L1869.5,1581.0 L1868.1,1581.0 L1866.7,1581.1 L1865.3,1581.1 L1863.9,1581.1 L1862.5,1581.1 L1861.1,1581.1 L1859.7,1581.1 L1858.3,1581.1 L1856.9,1581.1 L1855.5,1581.2 L1854.1,1581.2 L1852.7,1581.2 L1851.3,1581.2 L1849.9,1581.2 L1848.5,1581.2 L1847.2,1581.2 L1845.8,1581.3 L1844.4,1581.3 L1843.0,1581.3 L1841.6,1581.3 L1840.2,1581.3 L1838.8,1581.3 L1837.4,1581.3 L1836.0,1581.3 L1834.6,1581.4 L1833.2,1581.4 L1831.8,1581.4 L1830.4,1581.4 L1829.0,1581.4 L1827.6,1581.4 L1826.2,1581.4 L1824.8,1581.4 L1823.4,1581.5 L1822.0,1581.5 L1820.6,1581.5 L1819.2,1581.5 L1817.8,1581.5 L1816.4,1581.5 L1815.0,1581.5 L1813.6,1581.6 L1812.2,1581.6 L1810.8,1581.6 L1809.4,1581.6 L1808.0,1581.6 L1806.6,1581.6 L1805.2,1581.6 L1803.8,1581.6 L1802.4,1581.7 L1801.0,1581.7 L1799.6,1581.7 L1798.2,1581.7 L1796.8,1581.7 L1795.4,1581.7 L1794.0,1581.7 L1792.6,1581.8 L1791.2,1581.8 L1789.8,1581.8 L1788.4,1581.8 L1787.0,1581.8 L1785.6,1581.8 L1784.2,1581.8 L1782.8,1581.8 L1781.4,1581.9 L1780.0,1581.9 L1778.6,1581.9 L1777.2,1581.9 L1775.8,1581.9 L1774.4,1581.9 L1773.0,1581.9 L1771.6,1581.9 L1770.2,1582.0 L1768.8,1582.0 L1767.4,1582.0 L1766.0,1582.0 L1764.6,1582.0 L1763.2,1582.0 L1761.8,1582.0 L1760.4,1582.1 L1759.0,1582.1 L1757.6,1582.1 L1756.2,1582.1 L1754.8,1582.1 L1753.4,1582.1 L1752.0,1582.1 L1750.6,1582.1 L1749.2,1582.2 L1747.8,1582.2 L1746.4,1582.2 L1745.0,1582.2 L1743.7,1582.2 L1742.3,1582.2 L1740.9,1582.2 L1739.5,1582.3 L1738.1,1582.3 L1736.7,1582.3 L1735.3,1582.3 L1733.9,1582.3 L1732.5,1582.3 L1731.1,1582.3 L1729.7,1582.3 L1728.3,1582.4 L1726.9,1582.4 L1725.5,1582.4 L1724.1,1582.4 L1722.7,1582.4 L1721.3,1582.4 L1719.9,1582.4 L1718.5,1582.4 L1717.1,1582.5 L1715.7,1582.5 L1714.3,1582.5 L1712.9,1582.5 L1711.5,1582.5 L1710.1,1582.5 L1708.7,1582.5 L1707.3,1582.6 L1705.9,1582.6 L1704.5,1582.6 L1703.1,1582.6 L1701.7,1582.6 L1700.3,1582.6 L1698.9,1582.6 L1697.5,1582.6 L1696.1,1582.7 L1694.7,1582.7 L1693.3,1582.7 L1691.9,1582.7 L1690.5,1582.7 L1689.1,1582.7 L1687.7,1582.7 L1686.3,1582.8 L1684.9,1582.8 L1683.5,1582.8 L1682.1,1582.8 L1680.7,1582.8 L1679.3,1582.8 L1677.9,1582.8 L1676.5,1582.8 L1675.1,1582.9 L1673.7,1582.9 L1672.3,1582.9 L1670.9,1582.9 L1669.5,1582.9 L1668.1,1582.9 L1666.7,1582.9 L1665.3,1582.9 L1663.9,1583.0 L1662.5,1583.0 L1661.1,1583.0 L1659.7,1583.0 L1658.3,1583.0 L1656.9,1583.0 L1655.5,1583.0 L1654.1,1583.1 L1652.7,1583.1 L1651.3,1583.1 L1649.9,1583.1 L1648.5,1583.1 L1647.1,1583.1 L1645.7,1583.1 L1644.3,1583.1 L1642.9,1583.2 L1641.6,1583.2 L1640.2,1583.2 L1638.8,1583.2 L1637.4,1583.2 L1636.0,1583.2 L1634.6,1583.2 L1633.2,1583.2 L1631.8,1583.3 L1630.4,1583.3 L1629.0,1583.3 L1627.6,1583.3 L1626.2,1583.3 L1624.8,1583.3 L1623.4,1583.3 L1622.0,1583.4 L1620.6,1583.4 L1619.2,1583.4 L1617.8,1583.4 L1616.4,1583.4 L1615.0,1583.4 L1613.6,1583.4 L1612.2,1583.4 L1610.8,1583.5 L1609.4,1583.5 L1608.0,1583.5 L1606.6,1583.5 L1605.2,1583.5 L1603.8,1583.5 L1602.4,1583.5 L1601.0,1583.6 L1599.6,1583.6 L1598.2,1583.6 L1596.8,1583.6 L1595.4,1583.6 L1594.0,1583.6 L1592.6,1583.6 L1591.2,1583.6 L1589.8,1583.7 L1588.4,1583.7 L1587.0,1583.7 L1585.6,1583.7 L1584.2,1583.7 L1582.8,1583.7 L1581.4,1583.7 L1580.0,1583.7 L1578.6,1583.8 L1577.2,1583.8 L1575.8,1583.8 L1574.4,1583.8 L1573.0,1583.8 L1571.6,1583.8 L1570.2,1583.8 L1568.8,1583.9 L1567.4,1583.9 L1566.0,1583.9 L1564.6,1583.9 L1563.2,1583.9 L1561.8,1583.9 L1560.4,1583.9 L1559.0,1583.9 L1557.6,1584.0 L1556.2,1584.0 L1554.8,1584.0 L1553.4,1584.0 L1552.0,1584.0 L1550.6,1584.0 L1549.2,1584.0 L1547.8,1584.1 L1546.4,1584.1 L1545.0,1584.1 L1543.6,1584.1 L1542.2,1584.1 L1540.8,1584.1 L1539.4,1584.1 L1538.1,1584.1 L1536.7,1584.2 L1535.3,1584.2 L1533.9,1584.2 L1532.5,1584.2 L1531.1,1584.2 L1529.7,1584.2 L1528.3,1584.2 L1526.9,1584.2 L1525.5,1584.3 L1524.1,1584.3 L1522.7,1584.3 L1521.3,1584.3 L1519.9,1584.3 L1518.5,1584.3 L1517.1,1584.3 L1515.7,1584.4 L1514.3,1584.4 L1512.9,1584.4 L1511.5,1584.4 L1510.1,1584.4 L1508.7,1584.4 L1507.3,1584.4 L1505.9,1584.4 L1504.5,1584.5 L1503.1,1584.5 L1501.7,1584.5 L1500.3,1584.5 L1498.9,1584.5 L1497.5,1584.5 L1496.1,1584.5 L1494.7,1584.6 L1493.3,1584.6 L1491.9,1584.6 L1490.5,1584.6 L1489.1,1584.6 L1487.7,1584.6 L1486.3,1584.6 L1484.9,1584.6 L1483.5,1584.7 L1482.1,1584.7 L1480.7,1584.7 L1479.3,1584.7 L1477.9,1584.7 L1476.5,1584.7 L1475.1,1584.7 L1473.7,1584.7 L1472.3,1584.8 L1470.9,1584.8 L1469.5,1584.8 L1468.1,1584.8 L1466.7,1584.8 L1465.3,1584.8 L1463.9,1584.8 L1462.5,1584.9 L1461.1,1584.9 L1459.7,1584.9 L1458.3,1584.9 L1456.9,1584.9 L1455.5,1584.9 L1454.1,1584.9 L1452.7,1584.9 L1451.3,1585.0 L1449.9,1585.0 L1448.5,1585.0 L1447.1,1585.0 L1445.7,1585.0 L1444.3,1585.0 L1442.9,1585.0 L1441.5,1585.1 L1440.1,1585.1 L1438.7,1585.1 L1437.3,1585.1 L1436.0,1585.1 L1434.6,1585.1 L1433.2,1585.1 L1431.8,1585.1 L1430.4,1585.2 L1429.0,1585.2 L1427.6,1585.2 L1426.2,1585.2 L1424.8,1585.2 L1423.4,1585.2 L1422.0,1585.2 L1420.6,1585.2 L1419.2,1585.3 L1417.8,1585.3 L1416.4,1585.3 L1415.0,1585.3 L1413.6,1585.3 L1412.2,1585.3 L1410.8,1585.3 L1409.4,1585.4 L1408.0,1585.4 L1406.6,1585.4 L1405.2,1585.4 L1403.8,1585.4 L1402.4,1585.4 L1401.0,1585.4 L1399.6,1585.4 L1398.2,1585.5 L1396.8,1585.5 L1395.4,1585.5 L1394.0,1585.5 L1392.6,1585.5 L1391.2,1585.5 L1389.8,1585.5 L1388.4,1585.6 L1387.0,1585.6 L1385.6,1585.6 L1384.2,1585.6 L1382.8,1585.6 L1381.4,1585.6 L1380.0,1585.6 L1378.6,1585.6 L1377.2,1585.7 L1375.8,1585.7 L1374.4,1585.7 L1373.0,1585.7 L1371.6,1585.7 L1370.2,1585.7 L1368.8,1585.7 L1367.4,1585.7 L1366.0,1585.8 L1364.6,1585.8 L1363.2,1585.8 L1361.8,1585.8 L1360.4,1585.8 L1359.0,1585.8 L1357.6,1585.8 L1356.2,1585.9 L1354.8,1585.9 L1353.4,1585.9 L1352.0,1585.9 L1350.6,1585.9 L1349.2,1585.9 L1347.8,1585.9 L1346.4,1585.9 L1345.0,1586.0 L1343.6,1586.0 L1342.2,1586.0 L1340.8,1586.0 L1339.4,1586.0 L1338.0,1586.0 L1336.6,1586.0 L1335.2,1586.1 L1333.9,1586.1 L1332.5,1586.1 L1331.1,1586.1 L1329.7,1586.1 L1328.3,1586.1 L1326.9,1586.1 L1325.5,1586.1 L1324.1,1586.2 L1322.7,1586.2 L1321.3,1586.2 L1319.9,1586.2 L1318.5,1586.2 L1317.1,1586.2 L1315.7,1586.2 L1314.3,1586.2 L1312.9,1586.3 L1311.5,1586.3 L1310.1,1586.3 L1308.7,1586.3 L1307.3,1586.3 L1305.9,1586.3 L1304.5,1586.3 L1303.1,1586.4 L1301.7,1586.4 L1300.3,1586.4 L1298.9,1586.4 L1297.5,1586.4 L1296.1,1586.4 L1294.7,1586.4 L1293.3,1586.4 L1291.9,1586.5 L1290.5,1586.5 L1289.1,1586.5 L1287.7,1586.5 L1286.3,1586.5 L1284.9,1586.5 L1283.5,1586.5 L1282.1,1586.5 L1280.7,1586.6 L1279.3,1586.6 L1277.9,1586.6 L1276.5,1586.6 L1275.1,1586.6 L1273.7,1586.6 L1272.3,1586.6 L1270.9,1586.7 L1269.5,1586.7 L1268.1,1586.7 L1266.7,1586.7 L1265.3,1586.7 L1263.9,1586.7 L1262.5,1586.7 L1261.1,1586.7 L1259.7,1586.8 L1258.3,1586.8 L1256.9,1586.8 L1255.5,1586.8 L1254.1,1586.8 L1252.7,1586.8 L1251.3,1586.8 L1249.9,1586.9 L1248.5,1586.9 L1247.1,1586.9 L1245.7,1586.9 L1244.3,1586.9 L1242.9,1586.9 L1241.5,1586.9 L1240.1,1586.9 L1238.7,1587.0 L1237.3,1587.0 L1235.9,1587.0 L1234.5,1587.0 L1233.1,1587.0 L1231.7,1587.0 L1230.4,1587.0 L1229.0,1587.0 L1227.6,1587.1 L1226.2,1587.1 L1224.8,1587.1 L1223.4,1587.1 L1222.0,1587.1 L1220.6,1587.1 L1219.2,1587.1 L1217.8,1587.2 L1216.4,1587.2 L1215.0,1587.2 L1213.6,1587.2 L1212.2,1587.2 L1210.8,1587.2 L1209.4,1587.2 L1208.0,1587.2 L1206.6,1587.3 L1205.2,1587.3 L1203.8,1587.3 L1202.4,1587.3 L1201.0,1587.3 L1199.6,1587.3 L1198.2,1587.3 L1196.8,1587.4 L1195.4,1587.4 L1194.0,1587.4 L1192.6,1587.4 L1191.2,1587.4 L1189.8,1587.4 L1188.4,1587.4 L1187.0,1587.4 L1185.6,1587.5 L1184.2,1587.5 L1182.8,1587.5 L1181.4,1587.5 L1180.0,1587.5Z" fill="#00ff00" stroke="#00ff00" stroke-width="1.2" stroke-linejoin="round"/>
<line x1="1180.0" y1="1588.5" x2="1420" y2="1586.3" stroke="#a060a0" stroke-width="1.6"/>
<path d="M1180.0,1589.1 L1181.4,1589.1 L1182.8,1589.1 L1184.2,1589.1 L1185.6,1589.1 L1187.0,1589.0 L1188.4,1589.0 L1189.8,1589.0 L1191.2,1589.0 L1192.6,1589.0 L1194.0,1589.0 L1195.4,1589.0 L1196.8,1589.0 L1198.2,1588.9 L1199.6,1588.9 L1201.0,1588.9 L1202.4,1588.9 L1203.8,1588.9 L1205.2,1588.9 L1206.6,1588.9 L1208.0,1588.8 L1209.4,1588.8 L1210.8,1588.8 L1212.2,1588.8 L1213.6,1588.8 L1215.0,1588.8 L1216.4,1588.8 L1217.8,1588.8 L1219.2,1588.7 L1220.6,1588.7 L1222.0,1588.7 L1223.4,1588.7 L1224.8,1588.7 L1226.2,1588.7 L1227.6,1588.7 L1229.0,1588.6 L1230.4,1588.6 L1231.7,1588.6 L1233.1,1588.6 L1234.5,1588.6 L1235.9,1588.6 L1237.3,1588.6 L1238.7,1588.6 L1240.1,1588.5 L1241.5,1588.5 L1242.9,1588.5 L1244.3,1588.5 L1245.7,1588.5 L1247.1,1588.5 L1248.5,1588.5 L1249.9,1588.5 L1251.3,1588.4 L1252.7,1588.4 L1254.1,1588.4 L1255.5,1588.4 L1256.9,1588.4 L1258.3,1588.4 L1259.7,1588.4 L1261.1,1588.3 L1262.5,1588.3 L1263.9,1588.3 L1265.3,1588.3 L1266.7,1588.3 L1268.1,1588.3 L1269.5,1588.3 L1270.9,1588.3 L1272.3,1588.2 L1273.7,1588.2 L1275.1,1588.2 L1276.5,1588.2 L1277.9,1588.2 L1279.3,1588.2 L1280.7,1588.2 L1282.1,1588.1 L1283.5,1588.1 L1284.9,1588.1 L1286.3,1588.1 L1287.7,1588.1 L1289.1,1588.1 L1290.5,1588.1 L1291.9,1588.1 L1293.3,1588.0 L1294.7,1588.0 L1296.1,1588.0 L1297.5,1588.0 L1298.9,1588.0 L1300.3,1588.0 L1301.7,1588.0 L1303.1,1588.0 L1304.5,1587.9 L1305.9,1587.9 L1307.3,1587.9 L1308.7,1587.9 L1310.1,1587.9 L1311.5,1587.9 L1312.9,1587.9 L1314.3,1587.8 L1315.7,1587.8 L1317.1,1587.8 L1318.5,1587.8 L1319.9,1587.8 L1321.3,1587.8 L1322.7,1587.8 L1324.1,1587.8 L1325.5,1587.7 L1326.9,1587.7 L1328.3,1587.7 L1329.7,1587.7 L1331.1,1587.7 L1332.5,1587.7 L1333.9,1587.7 L1335.2,1587.7 L1336.6,1587.6 L1338.0,1587.6 L1339.4,1587.6 L1340.8,1587.6 L1342.2,1587.6 L1343.6,1587.6 L1345.0,1587.6 L1346.4,1587.5 L1347.8,1587.5 L1349.2,1587.5 L1350.6,1587.5 L1352.0,1587.5 L1353.4,1587.5 L1354.8,1587.5 L1356.2,1587.5 L1357.6,1587.4 L1359.0,1587.4 L1360.4,1587.4 L1361.8,1587.4 L1363.2,1587.4 L1364.6,1587.4 L1366.0,1587.4 L1367.4,1587.3 L1368.8,1587.3 L1370.2,1587.3 L1371.6,1587.3 L1373.0,1587.3 L1374.4,1587.3 L1375.8,1587.3 L1377.2,1587.3 L1378.6,1587.2 L1380.0,1587.2 L1381.4,1587.2 L1382.8,1587.2 L1384.2,1587.2 L1385.6,1587.2 L1387.0,1587.2 L1388.4,1587.2 L1389.8,1587.1 L1391.2,1587.1 L1392.6,1587.1 L1394.0,1587.1 L1395.4,1587.1 L1396.8,1587.1 L1398.2,1587.1 L1399.6,1587.0 L1401.0,1587.0 L1402.4,1587.0 L1403.8,1587.0 L1405.2,1587.0 L1406.6,1587.0 L1408.0,1587.0 L1409.4,1587.0 L1410.8,1586.9 L1412.2,1586.9 L1413.6,1586.9 L1415.0,1586.9 L1416.4,1586.9 L1417.8,1586.9 L1419.2,1586.9 L1420.6,1586.8 L1422.0,1586.8 L1423.4,1586.8 L1424.8,1586.8 L1426.2,1586.8 L1427.6,1586.8 L1429.0,1586.8 L1430.4,1586.8 L1431.8,1586.7 L1433.2,1586.7 L1434.6,1586.7 L1436.0,1586.7 L1437.3,1586.7 L1438.7,1586.7 L1440.1,1586.7 L1441.5,1586.7 L1442.9,1586.6 L1444.3,1586.6 L1445.7,1586.6 L1447.1,1586.6 L1448.5,1586.6 L1449.9,1586.6 L1451.3,1586.6 L1452.7,1586.5 L1454.1,1586.5 L1455.5,1586.5 L1456.9,1586.5 L1458.3,1586.5 L1459.7,1586.5 L1461.1,1586.5 L1462.5,1586.5 L1463.9,1586.4 L1465.3,1586.4 L1466.7,1586.4 L1468.1,1586.4 L1469.5,1586.4 L1470.9,1586.4 L1472.3,1586.4 L1473.7,1586.3 L1475.1,1586.3 L1476.5,1586.3 L1477.9,1586.3 L1479.3,1586.3 L1480.7,1586.3 L1482.1,1586.3 L1483.5,1586.3 L1484.9,1586.2 L1486.3,1586.2 L1487.7,1586.2 L1489.1,1586.2 L1490.5,1586.2 L1491.9,1586.2 L1493.3,1586.2 L1494.7,1586.2 L1496.1,1586.1 L1497.5,1586.1 L1498.9,1586.1 L1500.3,1586.1 L1501.7,1586.1 L1503.1,1586.1 L1504.5,1586.1 L1505.9,1586.0 L1507.3,1586.0 L1508.7,1586.0 L1510.1,1586.0 L1511.5,1586.0 L1512.9,1586.0 L1514.3,1586.0 L1515.7,1586.0 L1517.1,1585.9 L1518.5,1585.9 L1519.9,1585.9 L1521.3,1585.9 L1522.7,1585.9 L1524.1,1585.9 L1525.5,1585.9 L1526.9,1585.8 L1528.3,1585.8 L1529.7,1585.8 L1531.1,1585.8 L1532.5,1585.8 L1533.9,1585.8 L1535.3,1585.8 L1536.7,1585.8 L1538.1,1585.7 L1539.4,1585.7 L1540.8,1585.7 L1542.2,1585.7 L1543.6,1585.7 L1545.0,1585.7 L1546.4,1585.7 L1547.8,1585.7 L1549.2,1585.6 L1550.6,1585.6 L1552.0,1585.6 L1553.4,1585.6 L1554.8,1585.6 L1556.2,1585.6 L1557.6,1585.6 L1559.0,1585.5 L1560.4,1585.5 L1561.8,1585.5 L1563.2,1585.5 L1564.6,1585.5 L1566.0,1585.5 L1567.4,1585.5 L1568.8,1585.5 L1570.2,1585.4 L1571.6,1585.4 L1573.0,1585.4 L1574.4,1585.4 L1575.8,1585.4 L1577.2,1585.4 L1578.6,1585.4 L1580.0,1585.3 L1581.4,1585.3 L1582.8,1585.3 L1584.2,1585.3 L1585.6,1585.3 L1587.0,1585.3 L1588.4,1585.3 L1589.8,1585.3 L1591.2,1585.2 L1592.6,1585.2 L1594.0,1585.2 L1595.4,1585.2 L1596.8,1585.2 L1598.2,1585.2 L1599.6,1585.2 L1601.0,1585.2 L1602.4,1585.1 L1603.8,1585.1 L1605.2,1585.1 L1606.6,1585.1 L1608.0,1585.1 L1609.4,1585.1 L1610.8,1585.1 L1612.2,1585.0 L1613.6,1585.0 L1615.0,1585.0 L1616.4,1585.0 L1617.8,1585.0 L1619.2,1585.0 L1620.6,1585.0 L1622.0,1585.0 L1623.4,1584.9 L1624.8,1584.9 L1626.2,1584.9 L1627.6,1584.9 L1629.0,1584.9 L1630.4,1584.9 L1631.8,1584.9 L1633.2,1584.8 L1634.6,1584.8 L1636.0,1584.8 L1637.4,1584.8 L1638.8,1584.8 L1640.2,1584.8 L1641.6,1584.8 L1642.9,1584.8 L1644.3,1584.7 L1645.7,1584.7 L1647.1,1584.7 L1648.5,1584.7 L1649.9,1584.7 L1651.3,1584.7 L1652.7,1584.7 L1654.1,1584.7 L1655.5,1584.6 L1656.9,1584.6 L1658.3,1584.6 L1659.7,1584.6 L1661.1,1584.6 L1662.5,1584.6 L1663.9,1584.6 L1665.3,1584.5 L1666.7,1584.5 L1668.1,1584.5 L1669.5,1584.5 L1670.9,1584.5 L1672.3,1584.5 L1673.7,1584.5 L1675.1,1584.5 L1676.5,1584.4 L1677.9,1584.4 L1679.3,1584.4 L1680.7,1584.4 L1682.1,1584.4 L1683.5,1584.4 L1684.9,1584.4 L1686.3,1584.4 L1687.7,1584.3 L1689.1,1584.3 L1690.5,1584.3 L1691.9,1584.3 L1693.3,1584.3 L1694.7,1584.3 L1696.1,1584.3 L1697.5,1584.2 L1698.9,1584.2 L1700.3,1584.2 L1701.7,1584.2 L1703.1,1584.2 L1704.5,1584.2 L1705.9,1584.2 L1707.3,1584.2 L1708.7,1584.1 L1710.1,1584.1 L1711.5,1584.1 L1712.9,1584.1 L1714.3,1584.1 L1715.7,1584.1 L1717.1,1584.0 L1718.5,1583.9 L1719.9,1583.8 L1721.3,1583.6 L1722.7,1583.5 L1724.1,1583.3 L1725.5,1583.2 L1726.9,1583.1 L1728.3,1582.9 L1729.7,1582.8 L1731.1,1582.6 L1732.5,1582.5 L1733.9,1582.3 L1735.3,1582.2 L1736.7,1582.0 L1738.1,1581.9 L1739.5,1581.7 L1740.9,1581.6 L1742.3,1581.4 L1743.7,1581.2 L1745.0,1581.1 L1746.4,1580.9 L1747.8,1580.7 L1749.2,1580.6 L1750.6,1580.4 L1752.0,1580.2 L1753.4,1580.1 L1754.8,1579.9 L1756.2,1579.7 L1757.6,1579.5 L1759.0,1579.3 L1760.4,1579.2 L1761.8,1579.0 L1763.2,1578.8 L1764.6,1578.6 L1766.0,1578.4 L1767.4,1578.2 L1768.8,1578.0 L1770.2,1577.8 L1771.6,1577.6 L1773.0,1577.4 L1774.4,1577.2 L1775.8,1576.9 L1777.2,1576.7 L1778.6,1576.6 L1780.0,1576.4 L1781.4,1576.2 L1782.8,1576.0 L1784.2,1575.8 L1785.6,1575.5 L1787.0,1575.3 L1788.4,1575.1 L1789.8,1574.9 L1791.2,1574.7 L1792.6,1574.4 L1794.0,1574.2 L1795.4,1573.9 L1796.8,1573.7 L1798.2,1573.4 L1799.6,1573.2 L1801.0,1572.9 L1802.4,1572.7 L1803.8,1572.4 L1805.2,1572.1 L1806.6,1571.8 L1808.0,1571.5 L1809.4,1571.2 L1810.8,1570.9 L1812.2,1570.6 L1813.6,1570.2 L1815.0,1569.9 L1816.4,1569.6 L1817.8,1569.2 L1819.2,1568.8 L1820.6,1568.5 L1822.0,1568.1 L1823.4,1567.7 L1824.8,1567.3 L1826.2,1566.9 L1827.6,1566.4 L1829.0,1566.0 L1830.4,1565.5 L1831.8,1565.1 L1833.2,1564.6 L1834.6,1564.1 L1836.0,1563.6 L1837.4,1563.0 L1838.8,1562.5 L1840.2,1561.9 L1841.6,1561.3 L1843.0,1560.7 L1844.4,1560.1 L1845.8,1559.4 L1847.2,1558.8 L1848.5,1558.1 L1849.9,1557.3 L1851.3,1556.6 L1852.7,1555.8 L1854.1,1555.0 L1855.5,1554.2 L1856.9,1553.3 L1858.3,1552.4 L1859.7,1551.5 L1861.1,1550.5 L1862.5,1549.4 L1863.9,1548.4 L1865.3,1547.3 L1866.7,1546.1 L1868.1,1544.9 L1869.5,1543.7 L1870.9,1542.3 L1872.3,1541.0 L1873.7,1539.5 L1875.1,1538.0 L1876.5,1536.5 L1877.9,1534.8 L1879.3,1533.1 L1880.7,1531.3 L1882.1,1529.5 L1883.5,1527.5 L1884.9,1525.5 L1886.3,1523.3 L1887.7,1521.1 L1889.1,1518.7 L1890.5,1516.3 L1891.9,1513.7 L1893.3,1511.1 L1894.7,1508.3 L1896.1,1505.4 L1897.5,1502.4 L1898.9,1499.2 L1900.3,1495.9 L1901.7,1492.5 L1903.1,1488.9 L1904.5,1485.2 L1905.9,1481.3 L1907.3,1477.3 L1908.7,1473.1 L1910.1,1468.8 L1911.5,1464.3 L1912.9,1459.6 L1914.3,1454.8 L1915.7,1449.9 L1917.1,1444.8 L1918.5,1439.7 L1919.9,1434.4 L1921.3,1429.0 L1922.7,1423.5 L1924.1,1418.0 L1925.5,1412.5 L1926.9,1406.9 L1928.3,1401.4 L1929.7,1396.0 L1931.1,1390.8 L1932.5,1385.6 L1933.9,1380.8 L1935.3,1376.1 L1936.7,1371.8 L1938.1,1367.9 L1939.5,1364.4 L1940.9,1361.4 L1942.3,1358.9 L1943.7,1356.9 L1945.1,1355.6 L1946.5,1354.8 L1947.9,1354.7 L1949.3,1355.1 L1950.6,1356.2 L1952.0,1357.9 L1953.4,1360.1 L1954.8,1362.9 L1956.2,1366.2 L1957.6,1369.9 L1959.0,1374.0 L1960.4,1378.5 L1961.8,1383.3 L1963.2,1388.3 L1964.6,1393.5 L1966.0,1398.8 L1967.4,1404.2 L1968.8,1409.7 L1970.2,1415.2 L1971.6,1420.8 L1973.0,1426.2 L1974.4,1431.6 L1975.8,1436.9 L1977.2,1442.2 L1978.6,1447.3 L1980.0,1452.2 L1981.4,1457.1 L1982.8,1461.8 L1984.2,1466.3 L1985.6,1470.7 L1987.0,1474.9 L1988.4,1479.0 L1989.8,1482.9 L1991.2,1486.7 L1992.6,1490.3 L1994.0,1493.8 L1995.4,1497.2 L1996.8,1500.4 L1998.2,1503.4 L1999.6,1506.4 L2001.0,1509.2 L2002.4,1511.9 L2003.8,1514.4 L2005.2,1516.9 L2006.6,1519.2 L2008.0,1521.5 L2009.4,1523.6 L2010.8,1525.6 L2012.2,1527.6 L2013.6,1529.5 L2015.0,1531.2 L2016.4,1532.9 L2017.8,1534.6 L2019.2,1536.1 L2020.6,1537.6 L2022.0,1539.0 L2023.4,1540.4 L2024.8,1541.7 L2026.2,1542.9 L2027.6,1544.1 L2029.0,1545.2 L2030.4,1546.3 L2031.8,1547.3 L2033.2,1548.3 L2034.6,1549.3 L2036.0,1550.2 L2037.4,1551.1 L2038.8,1551.9 L2040.2,1552.7 L2041.6,1553.5 L2043.0,1554.2 L2044.4,1555.0 L2045.8,1555.7 L2047.2,1556.3 L2048.6,1557.0 L2050.0,1557.6 L2051.4,1558.2 L2052.8,1558.7 L2054.1,1559.3 L2055.5,1559.8 L2056.9,1560.3 L2058.3,1560.8 L2059.7,1561.3 L2061.1,1561.8 L2062.5,1562.2 L2063.9,1562.6 L2065.3,1563.1 L2066.7,1563.5 L2068.1,1563.8 L2069.5,1564.2 L2070.9,1564.6 L2072.3,1564.9 L2073.7,1565.3 L2075.1,1565.6 L2076.5,1565.9 L2077.9,1566.3 L2079.3,1566.6 L2080.7,1566.9 L2082.1,1567.2 L2083.5,1567.4 L2084.9,1567.7 L2086.3,1568.0 L2087.7,1568.2 L2089.1,1568.5 L2090.5,1568.7 L2091.9,1568.9 L2093.3,1569.2 L2094.7,1569.4 L2096.1,1569.6 L2097.5,1569.8 L2098.9,1570.0 L2100.3,1570.2 L2101.7,1570.4 L2103.1,1570.6 L2104.5,1570.8 L2105.9,1571.0 L2107.3,1571.2 L2108.7,1571.3 L2110.1,1571.5 L2111.5,1571.7 L2112.9,1571.8 L2114.3,1572.0 L2115.7,1572.1 L2117.1,1572.3 L2118.5,1572.4 L2119.9,1572.5 L2121.3,1572.7 L2122.7,1572.8 L2124.1,1572.9 L2125.5,1573.1 L2126.9,1573.2 L2128.3,1573.3 L2129.7,1573.4 L2131.1,1573.6 L2132.5,1573.7 L2133.9,1573.8 L2135.3,1573.9 L2136.7,1574.0 L2138.1,1574.1 L2139.5,1574.2 L2140.9,1574.3 L2142.3,1574.4 L2143.7,1574.5 L2145.1,1574.6 L2146.5,1574.7 L2147.9,1574.7 L2149.3,1574.8 L2150.7,1574.9 L2152.1,1575.0 L2153.5,1575.1 L2154.9,1575.2 L2156.2,1575.2 L2157.6,1575.3 L2157.6,1582.8 L2156.2,1582.8 L2154.9,1582.8 L2153.5,1582.8 L2152.1,1582.8 L2150.7,1582.8 L2149.3,1582.8 L2147.9,1582.9 L2146.5,1582.9 L2145.1,1582.9 L2143.7,1582.9 L2142.3,1582.9 L2140.9,1582.9 L2139.5,1582.9 L2138.1,1582.9 L2136.7,1582.9 L2135.3,1582.9 L2133.9,1582.9 L2132.5,1583.0 L2131.1,1583.0 L2129.7,1583.0 L2128.3,1583.0 L2126.9,1583.0 L2125.5,1583.0 L2124.1,1583.0 L2122.7,1583.0 L2121.3,1583.0 L2119.9,1583.0 L2118.5,1583.0 L2117.1,1583.1 L2115.7,1583.1 L2114.3,1583.1 L2112.9,1583.1 L2111.5,1583.1 L2110.1,1583.1 L2108.7,1583.1 L2107.3,1583.1 L2105.9,1583.1 L2104.5,1583.1 L2103.1,1583.1 L2101.7,1583.2 L2100.3,1583.2 L2098.9,1583.2 L2097.5,1583.2 L2096.1,1583.2 L2094.7,1583.2 L2093.3,1583.2 L2091.9,1583.2 L2090.5,1583.2 L2089.1,1583.2 L2087.7,1583.2 L2086.3,1583.3 L2084.9,1583.3 L2083.5,1583.3 L2082.1,1583.3 L2080.7,1583.3 L2079.3,1583.3 L2077.9,1583.3 L2076.5,1583.3 L2075.1,1583.3 L2073.7,1583.3 L2072.3,1583.3 L2070.9,1583.4 L2069.5,1583.4 L2068.1,1583.4 L2066.7,1583.4 L2065.3,1583.4 L2063.9,1583.4 L2062.5,1583.4 L2061.1,1583.4 L2059.7,1583.4 L2058.3,1583.4 L2056.9,1583.4 L2055.5,1583.5 L2054.1,1583.5 L2052.8,1583.5 L2051.4,1583.5 L2050.0,1583.5 L2048.6,1583.5 L2047.2,1583.5 L2045.8,1583.5 L2044.4,1583.5 L2043.0,1583.5 L2041.6,1583.5 L2040.2,1583.5 L2038.8,1583.6 L2037.4,1583.6 L2036.0,1583.6 L2034.6,1583.6 L2033.2,1583.6 L2031.8,1583.6 L2030.4,1583.6 L2029.0,1583.6 L2027.6,1583.6 L2026.2,1583.6 L2024.8,1583.6 L2023.4,1583.7 L2022.0,1583.7 L2020.6,1583.7 L2019.2,1583.7 L2017.8,1583.7 L2016.4,1583.7 L2015.0,1583.7 L2013.6,1583.7 L2012.2,1583.7 L2010.8,1583.7 L2009.4,1583.7 L2008.0,1583.8 L2006.6,1583.8 L2005.2,1583.8 L2003.8,1583.8 L2002.4,1583.8 L2001.0,1583.8 L1999.6,1583.8 L1998.2,1583.8 L1996.8,1583.8 L1995.4,1583.8 L1994.0,1583.8 L1992.6,1583.9 L1991.2,1583.9 L1989.8,1583.9 L1988.4,1583.9 L1987.0,1583.9 L1985.6,1583.9 L1984.2,1583.9 L1982.8,1583.9 L1981.4,1583.9 L1980.0,1583.9 L1978.6,1583.9 L1977.2,1584.0 L1975.8,1584.0 L1974.4,1584.0 L1973.0,1584.0 L1971.6,1584.0 L1970.2,1584.0 L1968.8,1584.0 L1967.4,1584.0 L1966.0,1584.0 L1964.6,1584.0 L1963.2,1584.0 L1961.8,1584.1 L1960.4,1584.1 L1959.0,1584.1 L1957.6,1584.1 L1956.2,1584.1 L1954.8,1584.1 L1953.4,1584.1 L1952.0,1584.1 L1950.6,1584.1 L1949.3,1584.1 L1947.9,1584.1 L1946.5,1584.2 L1945.1,1584.2 L1943.7,1584.2 L1942.3,1584.2 L1940.9,1584.2 L1939.5,1584.2 L1938.1,1584.2 L1936.7,1584.2 L1935.3,1584.2 L1933.9,1584.2 L1932.5,1584.2 L1931.1,1584.2 L1929.7,1584.3 L1928.3,1584.3 L1926.9,1584.3 L1925.5,1584.3 L1924.1,1584.3 L1922.7,1584.3 L1921.3,1584.3 L1919.9,1584.3 L1918.5,1584.3 L1917.1,1584.3 L1915.7,1584.3 L1914.3,1584.4 L1912.9,1584.4 L1911.5,1584.4 L1910.1,1584.4 L1908.7,1584.4 L1907.3,1584.4 L1905.9,1584.4 L1904.5,1584.4 L1903.1,1584.4 L1901.7,1584.4 L1900.3,1584.4 L1898.9,1584.5 L1897.5,1584.5 L1896.1,1584.5 L1894.7,1584.5 L1893.3,1584.5 L1891.9,1584.5 L1890.5,1584.5 L1889.1,1584.6 L1887.7,1584.6 L1886.3,1584.6 L1884.9,1584.7 L1883.5,1584.7 L1882.1,1584.8 L1880.7,1584.8 L1879.3,1584.8 L1877.9,1584.9 L1876.5,1584.9 L1875.1,1584.9 L1873.7,1585.0 L1872.3,1585.0 L1870.9,1585.0 L1869.5,1585.1 L1868.1,1585.1 L1866.7,1585.2 L1865.3,1585.2 L1863.9,1585.2 L1862.5,1585.3 L1861.1,1585.3 L1859.7,1585.3 L1858.3,1585.4 L1856.9,1585.4 L1855.5,1585.4 L1854.1,1585.5 L1852.7,1585.5 L1851.3,1585.6 L1849.9,1585.6 L1848.5,1585.6 L1847.2,1585.7 L1845.8,1585.7 L1844.4,1585.7 L1843.0,1585.8 L1841.6,1585.8 L1840.2,1585.8 L1838.8,1585.9 L1837.4,1585.9 L1836.0,1585.9 L1834.6,1586.0 L1833.2,1586.0 L1831.8,1586.1 L1830.4,1586.1 L1829.0,1586.1 L1827.6,1586.2 L1826.2,1586.2 L1824.8,1586.2 L1823.4,1586.3 L1822.0,1586.3 L1820.6,1586.3 L1819.2,1586.4 L1817.8,1586.4 L1816.4,1586.5 L1815.0,1586.5 L1813.6,1586.5 L1812.2,1586.6 L1810.8,1586.6 L1809.4,1586.6 L1808.0,1586.7 L1806.6,1586.7 L1805.2,1586.7 L1803.8,1586.8 L1802.4,1586.8 L1801.0,1586.9 L1799.6,1586.9 L1798.2,1586.9 L1796.8,1587.0 L1795.4,1587.0 L1794.0,1587.0 L1792.6,1587.1 L1791.2,1587.1 L1789.8,1587.1 L1788.4,1587.2 L1787.0,1587.2 L1785.6,1587.3 L1784.2,1587.3 L1782.8,1587.3 L1781.4,1587.4 L1780.0,1587.4 L1778.6,1587.4 L1777.2,1587.5 L1775.8,1587.5 L1774.4,1587.6 L1773.0,1587.6 L1771.6,1587.7 L1770.2,1587.8 L1768.8,1587.9 L1767.4,1587.9 L1766.0,1588.0 L1764.6,1588.1 L1763.2,1588.1 L1761.8,1588.2 L1760.4,1588.3 L1759.0,1588.3 L1757.6,1588.4 L1756.2,1588.5 L1754.8,1588.6 L1753.4,1588.6 L1752.0,1588.7 L1750.6,1588.8 L1749.2,1588.8 L1747.8,1588.9 L1746.4,1589.0 L1745.0,1589.0 L1743.7,1589.1 L1742.3,1589.2 L1740.9,1589.3 L1739.5,1589.3 L1738.1,1589.4 L1736.7,1589.5 L1735.3,1589.5 L1733.9,1589.6 L1732.5,1589.7 L1731.1,1589.7 L1729.7,1589.8 L1728.3,1589.9 L1726.9,1590.0 L1725.5,1590.0 L1724.1,1590.1 L1722.7,1590.2 L1721.3,1590.2 L1719.9,1590.3 L1718.5,1590.4 L1717.1,1590.4 L1715.7,1590.5 L1714.3,1590.6 L1712.9,1590.7 L1711.5,1590.7 L1710.1,1590.8 L1708.7,1590.9 L1707.3,1590.9 L1705.9,1591.0 L1704.5,1591.1 L1703.1,1591.1 L1701.7,1591.2 L1700.3,1591.3 L1698.9,1591.4 L1697.5,1591.4 L1696.1,1591.5 L1694.7,1591.6 L1693.3,1591.6 L1691.9,1591.7 L1690.5,1591.8 L1689.1,1591.8 L1687.7,1591.9 L1686.3,1592.0 L1684.9,1592.1 L1683.5,1592.1 L1682.1,1592.2 L1680.7,1592.3 L1679.3,1592.3 L1677.9,1592.4 L1676.5,1592.5 L1675.1,1592.5 L1673.7,1592.6 L1672.3,1592.7 L1670.9,1592.8 L1669.5,1592.8 L1668.1,1592.9 L1666.7,1592.9 L1665.3,1592.9 L1663.9,1592.9 L1662.5,1592.9 L1661.1,1592.9 L1659.7,1592.9 L1658.3,1593.0 L1656.9,1593.0 L1655.5,1593.0 L1654.1,1593.0 L1652.7,1593.0 L1651.3,1593.0 L1649.9,1593.0 L1648.5,1593.0 L1647.1,1593.0 L1645.7,1593.0 L1644.3,1593.0 L1642.9,1593.0 L1641.6,1593.1 L1640.2,1593.1 L1638.8,1593.1 L1637.4,1593.1 L1636.0,1593.1 L1634.6,1593.1 L1633.2,1593.1 L1631.8,1593.1 L1630.4,1593.1 L1629.0,1593.1 L1627.6,1593.1 L1626.2,1593.1 L1624.8,1593.1 L1623.4,1593.2 L1622.0,1593.2 L1620.6,1593.2 L1619.2,1593.2 L1617.8,1593.2 L1616.4,1593.2 L1615.0,1593.2 L1613.6,1593.2 L1612.2,1593.2 L1610.8,1593.2 L1609.4,1593.2 L1608.0,1593.2 L1606.6,1593.3 L1605.2,1593.3 L1603.8,1593.3 L1602.4,1593.3 L1601.0,1593.3 L1599.6,1593.3 L1598.2,1593.3 L1596.8,1593.3 L1595.4,1593.3 L1594.0,1593.3 L1592.6,1593.3 L1591.2,1593.3 L1589.8,1593.3 L1588.4,1593.4 L1587.0,1593.4 L1585.6,1593.4 L1584.2,1593.4 L1582.8,1593.4 L1581.4,1593.4 L1580.0,1593.4 L1578.6,1593.4 L1577.2,1593.4 L1575.8,1593.4 L1574.4,1593.4 L1573.0,1593.4 L1571.6,1593.5 L1570.2,1593.5 L1568.8,1593.5 L1567.4,1593.5 L1566.0,1593.5 L1564.6,1593.5 L1563.2,1593.5 L1561.8,1593.5 L1560.4,1593.5 L1559.0,1593.5 L1557.6,1593.5 L1556.2,1593.5 L1554.8,1593.6 L1553.4,1593.6 L1552.0,1593.6 L1550.6,1593.6 L1549.2,1593.6 L1547.8,1593.6 L1546.4,1593.6 L1545.0,1593.6 L1543.6,1593.6 L1542.2,1593.6 L1540.8,1593.6 L1539.4,1593.6 L1538.1,1593.6 L1536.7,1593.7 L1535.3,1593.7 L1533.9,1593.7 L1532.5,1593.7 L1531.1,1593.7 L1529.7,1593.7 L1528.3,1593.7 L1526.9,1593.7 L1525.5,1593.7 L1524.1,1593.7 L1522.7,1593.7 L1521.3,1593.7 L1519.9,1593.8 L1518.5,1593.8 L1517.1,1593.8 L1515.7,1593.8 L1514.3,1593.8 L1512.9,1593.8 L1511.5,1593.8 L1510.1,1593.8 L1508.7,1593.8 L1507.3,1593.8 L1505.9,1593.8 L1504.5,1593.8 L1503.1,1593.8 L1501.7,1593.9 L1500.3,1593.9 L1498.9,1593.9 L1497.5,1593.9 L1496.1,1593.9 L1494.7,1593.9 L1493.3,1593.9 L1491.9,1593.9 L1490.5,1593.9 L1489.1,1593.9 L1487.7,1593.9 L1486.3,1593.9 L1484.9,1594.0 L1483.5,1594.0 L1482.1,1594.0 L1480.7,1594.0 L1479.3,1594.0 L1477.9,1594.0 L1476.5,1594.0 L1475.1,1594.0 L1473.7,1594.0 L1472.3,1594.0 L1470.9,1594.0 L1469.5,1594.0 L1468.1,1594.0 L1466.7,1594.1 L1465.3,1594.1 L1463.9,1594.1 L1462.5,1594.1 L1461.1,1594.1 L1459.7,1594.1 L1458.3,1594.1 L1456.9,1594.1 L1455.5,1594.1 L1454.1,1594.1 L1452.7,1594.1 L1451.3,1594.1 L1449.9,1594.2 L1448.5,1594.2 L1447.1,1594.2 L1445.7,1594.2 L1444.3,1594.2 L1442.9,1594.2 L1441.5,1594.2 L1440.1,1594.2 L1438.7,1594.2 L1437.3,1594.2 L1436.0,1594.2 L1434.6,1594.2 L1433.2,1594.3 L1431.8,1594.3 L1430.4,1594.3 L1429.0,1594.3 L1427.6,1594.3 L1426.2,1594.3 L1424.8,1594.3 L1423.4,1594.3 L1422.0,1594.3 L1420.6,1594.3 L1419.2,1594.3 L1417.8,1594.3 L1416.4,1594.3 L1415.0,1594.4 L1413.6,1594.4 L1412.2,1594.4 L1410.8,1594.4 L1409.4,1594.4 L1408.0,1594.4 L1406.6,1594.4 L1405.2,1594.4 L1403.8,1594.4 L1402.4,1594.4 L1401.0,1594.4 L1399.6,1594.4 L1398.2,1594.5 L1396.8,1594.5 L1395.4,1594.5 L1394.0,1594.5 L1392.6,1594.5 L1391.2,1594.5 L1389.8,1594.5 L1388.4,1594.5 L1387.0,1594.5 L1385.6,1594.5 L1384.2,1594.5 L1382.8,1594.5 L1381.4,1594.5 L1380.0,1594.6 L1378.6,1594.6 L1377.2,1594.6 L1375.8,1594.6 L1374.4,1594.6 L1373.0,1594.6 L1371.6,1594.6 L1370.2,1594.6 L1368.8,1594.6 L1367.4,1594.6 L1366.0,1594.6 L1364.6,1594.6 L1363.2,1594.7 L1361.8,1594.7 L1360.4,1594.7 L1359.0,1594.7 L1357.6,1594.7 L1356.2,1594.7 L1354.8,1594.7 L1353.4,1594.7 L1352.0,1594.7 L1350.6,1594.7 L1349.2,1594.7 L1347.8,1594.7 L1346.4,1594.7 L1345.0,1594.8 L1343.6,1594.8 L1342.2,1594.8 L1340.8,1594.8 L1339.4,1594.8 L1338.0,1594.8 L1336.6,1594.8 L1335.2,1594.8 L1333.9,1594.8 L1332.5,1594.8 L1331.1,1594.8 L1329.7,1594.8 L1328.3,1594.9 L1326.9,1594.9 L1325.5,1594.9 L1324.1,1594.9 L1322.7,1594.9 L1321.3,1594.9 L1319.9,1594.9 L1318.5,1594.9 L1317.1,1594.9 L1315.7,1594.9 L1314.3,1594.9 L1312.9,1594.9 L1311.5,1594.9 L1310.1,1595.0 L1308.7,1595.0 L1307.3,1595.0 L1305.9,1595.0 L1304.5,1595.0 L1303.1,1595.0 L1301.7,1595.0 L1300.3,1595.0 L1298.9,1595.0 L1297.5,1595.0 L1296.1,1595.0 L1294.7,1595.0 L1293.3,1595.1 L1291.9,1595.1 L1290.5,1595.1 L1289.1,1595.1 L1287.7,1595.1 L1286.3,1595.1 L1284.9,1595.1 L1283.5,1595.1 L1282.1,1595.1 L1280.7,1595.1 L1279.3,1595.1 L1277.9,1595.1 L1276.5,1595.2 L1275.1,1595.2 L1273.7,1595.2 L1272.3,1595.2 L1270.9,1595.2 L1269.5,1595.2 L1268.1,1595.2 L1266.7,1595.2 L1265.3,1595.2 L1263.9,1595.2 L1262.5,1595.2 L1261.1,1595.2 L1259.7,1595.2 L1258.3,1595.3 L1256.9,1595.3 L1255.5,1595.3 L1254.1,1595.3 L1252.7,1595.3 L1251.3,1595.3 L1249.9,1595.3 L1248.5,1595.3 L1247.1,1595.3 L1245.7,1595.3 L1244.3,1595.3 L1242.9,1595.3 L1241.5,1595.4 L1240.1,1595.4 L1238.7,1595.4 L1237.3,1595.4 L1235.9,1595.4 L1234.5,1595.4 L1233.1,1595.4 L1231.7,1595.4 L1230.4,1595.4 L1229.0,1595.4 L1227.6,1595.4 L1226.2,1595.4 L1224.8,1595.4 L1223.4,1595.5 L1222.0,1595.5 L1220.6,1595.5 L1219.2,1595.5 L1217.8,1595.5 L1216.4,1595.5 L1215.0,1595.5 L1213.6,1595.5 L1212.2,1595.5 L1210.8,1595.5 L1209.4,1595.5 L1208.0,1595.5 L1206.6,1595.6 L1205.2,1595.6 L1203.8,1595.6 L1202.4,1595.6 L1201.0,1595.6 L1199.6,1595.6 L1198.2,1595.6 L1196.8,1595.6 L1195.4,1595.6 L1194.0,1595.6 L1192.6,1595.6 L1191.2,1595.6 L1189.8,1595.6 L1188.4,1595.7 L1187.0,1595.7 L1185.6,1595.7 L1184.2,1595.7 L1182.8,1595.7 L1181.4,1595.7 L1180.0,1595.7Z" fill="#00ffff" stroke="#00ffff" stroke-width="0.8" stroke-linejoin="round"/>
<defs><linearGradient id="botg" gradientUnits="userSpaceOnUse" x1="1181" y1="0" x2="2157" y2="0"><stop offset="0" stop-color="#20a0ff"/><stop offset="0.3" stop-color="#2040ff"/><stop offset="0.5" stop-color="#3010ff"/><stop offset="0.62" stop-color="#9000ff"/><stop offset="0.72" stop-color="#ff00ff"/><stop offset="1" stop-color="#ff00ff"/></linearGradient></defs>
<path d="M1180.0,1596.3 L1181.4,1596.3 L1182.8,1596.3 L1184.2,1596.3 L1185.6,1596.3 L1187.0,1596.3 L1188.4,1596.3 L1189.8,1596.2 L1191.2,1596.2 L1192.6,1596.2 L1194.0,1596.2 L1195.4,1596.2 L1196.8,1596.2 L1198.2,1596.2 L1199.6,1596.2 L1201.0,1596.2 L1202.4,1596.2 L1203.8,1596.2 L1205.2,1596.2 L1206.6,1596.2 L1208.0,1596.1 L1209.4,1596.1 L1210.8,1596.1 L1212.2,1596.1 L1213.6,1596.1 L1215.0,1596.1 L1216.4,1596.1 L1217.8,1596.1 L1219.2,1596.1 L1220.6,1596.1 L1222.0,1596.1 L1223.4,1596.1 L1224.8,1596.0 L1226.2,1596.0 L1227.6,1596.0 L1229.0,1596.0 L1230.4,1596.0 L1231.7,1596.0 L1233.1,1596.0 L1234.5,1596.0 L1235.9,1596.0 L1237.3,1596.0 L1238.7,1596.0 L1240.1,1596.0 L1241.5,1596.0 L1242.9,1595.9 L1244.3,1595.9 L1245.7,1595.9 L1247.1,1595.9 L1248.5,1595.9 L1249.9,1595.9 L1251.3,1595.9 L1252.7,1595.9 L1254.1,1595.9 L1255.5,1595.9 L1256.9,1595.9 L1258.3,1595.9 L1259.7,1595.8 L1261.1,1595.8 L1262.5,1595.8 L1263.9,1595.8 L1265.3,1595.8 L1266.7,1595.8 L1268.1,1595.8 L1269.5,1595.8 L1270.9,1595.8 L1272.3,1595.8 L1273.7,1595.8 L1275.1,1595.8 L1276.5,1595.8 L1277.9,1595.7 L1279.3,1595.7 L1280.7,1595.7 L1282.1,1595.7 L1283.5,1595.7 L1284.9,1595.7 L1286.3,1595.7 L1287.7,1595.7 L1289.1,1595.7 L1290.5,1595.7 L1291.9,1595.7 L1293.3,1595.7 L1294.7,1595.6 L1296.1,1595.6 L1297.5,1595.6 L1298.9,1595.6 L1300.3,1595.6 L1301.7,1595.6 L1303.1,1595.6 L1304.5,1595.6 L1305.9,1595.6 L1307.3,1595.6 L1308.7,1595.6 L1310.1,1595.6 L1311.5,1595.5 L1312.9,1595.5 L1314.3,1595.5 L1315.7,1595.5 L1317.1,1595.5 L1318.5,1595.5 L1319.9,1595.5 L1321.3,1595.5 L1322.7,1595.5 L1324.1,1595.5 L1325.5,1595.5 L1326.9,1595.5 L1328.3,1595.5 L1329.7,1595.4 L1331.1,1595.4 L1332.5,1595.4 L1333.9,1595.4 L1335.2,1595.4 L1336.6,1595.4 L1338.0,1595.4 L1339.4,1595.4 L1340.8,1595.4 L1342.2,1595.4 L1343.6,1595.4 L1345.0,1595.4 L1346.4,1595.3 L1347.8,1595.3 L1349.2,1595.3 L1350.6,1595.3 L1352.0,1595.3 L1353.4,1595.3 L1354.8,1595.3 L1356.2,1595.3 L1357.6,1595.3 L1359.0,1595.3 L1360.4,1595.3 L1361.8,1595.3 L1363.2,1595.3 L1364.6,1595.2 L1366.0,1595.2 L1367.4,1595.2 L1368.8,1595.2 L1370.2,1595.2 L1371.6,1595.2 L1373.0,1595.2 L1374.4,1595.2 L1375.8,1595.2 L1377.2,1595.2 L1378.6,1595.2 L1380.0,1595.2 L1381.4,1595.1 L1382.8,1595.1 L1384.2,1595.1 L1385.6,1595.1 L1387.0,1595.1 L1388.4,1595.1 L1389.8,1595.1 L1391.2,1595.1 L1392.6,1595.1 L1394.0,1595.1 L1395.4,1595.1 L1396.8,1595.1 L1398.2,1595.1 L1399.6,1595.0 L1401.0,1595.0 L1402.4,1595.0 L1403.8,1595.0 L1405.2,1595.0 L1406.6,1595.0 L1408.0,1595.0 L1409.4,1595.0 L1410.8,1595.0 L1412.2,1595.0 L1413.6,1595.0 L1415.0,1595.0 L1416.4,1594.9 L1417.8,1594.9 L1419.2,1594.9 L1420.6,1594.9 L1422.0,1594.9 L1423.4,1594.9 L1424.8,1594.9 L1426.2,1594.9 L1427.6,1594.9 L1429.0,1594.9 L1430.4,1594.9 L1431.8,1594.9 L1433.2,1594.9 L1434.6,1594.8 L1436.0,1594.8 L1437.3,1594.8 L1438.7,1594.8 L1440.1,1594.8 L1441.5,1594.8 L1442.9,1594.8 L1444.3,1594.8 L1445.7,1594.8 L1447.1,1594.8 L1448.5,1594.8 L1449.9,1594.8 L1451.3,1594.7 L1452.7,1594.7 L1454.1,1594.7 L1455.5,1594.7 L1456.9,1594.7 L1458.3,1594.7 L1459.7,1594.7 L1461.1,1594.7 L1462.5,1594.7 L1463.9,1594.7 L1465.3,1594.7 L1466.7,1594.7 L1468.1,1594.6 L1469.5,1594.6 L1470.9,1594.6 L1472.3,1594.6 L1473.7,1594.6 L1475.1,1594.6 L1476.5,1594.6 L1477.9,1594.6 L1479.3,1594.6 L1480.7,1594.6 L1482.1,1594.6 L1483.5,1594.6 L1484.9,1594.6 L1486.3,1594.5 L1487.7,1594.5 L1489.1,1594.5 L1490.5,1594.5 L1491.9,1594.5 L1493.3,1594.5 L1494.7,1594.5 L1496.1,1594.5 L1497.5,1594.5 L1498.9,1594.5 L1500.3,1594.5 L1501.7,1594.5 L1503.1,1594.4 L1504.5,1594.4 L1505.9,1594.4 L1507.3,1594.4 L1508.7,1594.4 L1510.1,1594.4 L1511.5,1594.4 L1512.9,1594.4 L1514.3,1594.4 L1515.7,1594.4 L1517.1,1594.4 L1518.5,1594.4 L1519.9,1594.4 L1521.3,1594.3 L1522.7,1594.3 L1524.1,1594.3 L1525.5,1594.3 L1526.9,1594.3 L1528.3,1594.3 L1529.7,1594.3 L1531.1,1594.3 L1532.5,1594.3 L1533.9,1594.3 L1535.3,1594.3 L1536.7,1594.3 L1538.1,1594.2 L1539.4,1594.2 L1540.8,1594.2 L1542.2,1594.2 L1543.6,1594.2 L1545.0,1594.2 L1546.4,1594.2 L1547.8,1594.2 L1549.2,1594.2 L1550.6,1594.2 L1552.0,1594.2 L1553.4,1594.2 L1554.8,1594.2 L1556.2,1594.1 L1557.6,1594.1 L1559.0,1594.1 L1560.4,1594.1 L1561.8,1594.1 L1563.2,1594.1 L1564.6,1594.1 L1566.0,1594.1 L1567.4,1594.1 L1568.8,1594.1 L1570.2,1594.1 L1571.6,1594.1 L1573.0,1594.0 L1574.4,1594.0 L1575.8,1594.0 L1577.2,1594.0 L1578.6,1594.0 L1580.0,1594.0 L1581.4,1594.0 L1582.8,1594.0 L1584.2,1594.0 L1585.6,1594.0 L1587.0,1594.0 L1588.4,1594.0 L1589.8,1593.9 L1591.2,1593.9 L1592.6,1593.9 L1594.0,1593.9 L1595.4,1593.9 L1596.8,1593.9 L1598.2,1593.9 L1599.6,1593.9 L1601.0,1593.9 L1602.4,1593.9 L1603.8,1593.9 L1605.2,1593.9 L1606.6,1593.9 L1608.0,1593.8 L1609.4,1593.8 L1610.8,1593.8 L1612.2,1593.8 L1613.6,1593.8 L1615.0,1593.8 L1616.4,1593.8 L1617.8,1593.8 L1619.2,1593.8 L1620.6,1593.8 L1622.0,1593.8 L1623.4,1593.8 L1624.8,1593.7 L1626.2,1593.7 L1627.6,1593.7 L1629.0,1593.7 L1630.4,1593.7 L1631.8,1593.7 L1633.2,1593.7 L1634.6,1593.7 L1636.0,1593.7 L1637.4,1593.7 L1638.8,1593.7 L1640.2,1593.7 L1641.6,1593.7 L1642.9,1593.6 L1644.3,1593.6 L1645.7,1593.6 L1647.1,1593.6 L1648.5,1593.6 L1649.9,1593.6 L1651.3,1593.6 L1652.7,1593.6 L1654.1,1593.6 L1655.5,1593.6 L1656.9,1593.6 L1658.3,1593.6 L1659.7,1593.5 L1661.1,1593.5 L1662.5,1593.5 L1663.9,1593.5 L1665.3,1593.5 L1666.7,1593.5 L1668.1,1593.5 L1669.5,1593.4 L1670.9,1593.4 L1672.3,1593.3 L1673.7,1593.2 L1675.1,1593.1 L1676.5,1593.1 L1677.9,1593.0 L1679.3,1592.9 L1680.7,1592.9 L1682.1,1592.8 L1683.5,1592.7 L1684.9,1592.7 L1686.3,1592.6 L1687.7,1592.5 L1689.1,1592.4 L1690.5,1592.4 L1691.9,1592.3 L1693.3,1592.2 L1694.7,1592.2 L1696.1,1592.1 L1697.5,1592.0 L1698.9,1592.0 L1700.3,1591.9 L1701.7,1591.8 L1703.1,1591.7 L1704.5,1591.7 L1705.9,1591.6 L1707.3,1591.5 L1708.7,1591.5 L1710.1,1591.4 L1711.5,1591.3 L1712.9,1591.3 L1714.3,1591.2 L1715.7,1591.1 L1717.1,1591.0 L1718.5,1591.0 L1719.9,1590.9 L1721.3,1590.8 L1722.7,1590.8 L1724.1,1590.7 L1725.5,1590.6 L1726.9,1590.6 L1728.3,1590.5 L1729.7,1590.4 L1731.1,1590.3 L1732.5,1590.3 L1733.9,1590.2 L1735.3,1590.1 L1736.7,1590.1 L1738.1,1590.0 L1739.5,1589.9 L1740.9,1589.9 L1742.3,1589.8 L1743.7,1589.7 L1745.0,1589.6 L1746.4,1589.6 L1747.8,1589.5 L1749.2,1589.4 L1750.6,1589.4 L1752.0,1589.3 L1753.4,1589.2 L1754.8,1589.2 L1756.2,1589.1 L1757.6,1589.0 L1759.0,1588.9 L1760.4,1588.9 L1761.8,1588.8 L1763.2,1588.7 L1764.6,1588.7 L1766.0,1588.6 L1767.4,1588.5 L1768.8,1588.5 L1770.2,1588.4 L1771.6,1588.3 L1773.0,1588.2 L1774.4,1588.2 L1775.8,1588.1 L1777.2,1588.1 L1778.6,1588.0 L1780.0,1588.0 L1781.4,1588.0 L1782.8,1587.9 L1784.2,1587.9 L1785.6,1587.9 L1787.0,1587.8 L1788.4,1587.8 L1789.8,1587.7 L1791.2,1587.7 L1792.6,1587.7 L1794.0,1587.6 L1795.4,1587.6 L1796.8,1587.6 L1798.2,1587.5 L1799.6,1587.5 L1801.0,1587.5 L1802.4,1587.4 L1803.8,1587.4 L1805.2,1587.3 L1806.6,1587.3 L1808.0,1587.3 L1809.4,1587.2 L1810.8,1587.2 L1812.2,1587.2 L1813.6,1587.1 L1815.0,1587.1 L1816.4,1587.1 L1817.8,1587.0 L1819.2,1587.0 L1820.6,1586.9 L1822.0,1586.9 L1823.4,1586.9 L1824.8,1586.8 L1826.2,1586.8 L1827.6,1586.8 L1829.0,1586.7 L1830.4,1586.7 L1831.8,1586.7 L1833.2,1586.6 L1834.6,1586.6 L1836.0,1586.5 L1837.4,1586.5 L1838.8,1586.5 L1840.2,1586.4 L1841.6,1586.4 L1843.0,1586.4 L1844.4,1586.3 L1845.8,1586.3 L1847.2,1586.3 L1848.5,1586.2 L1849.9,1586.2 L1851.3,1586.2 L1852.7,1586.1 L1854.1,1586.1 L1855.5,1586.0 L1856.9,1586.0 L1858.3,1586.0 L1859.7,1585.9 L1861.1,1585.9 L1862.5,1585.9 L1863.9,1585.8 L1865.3,1585.8 L1866.7,1585.8 L1868.1,1585.7 L1869.5,1585.7 L1870.9,1585.6 L1872.3,1585.6 L1873.7,1585.6 L1875.1,1585.5 L1876.5,1585.5 L1877.9,1585.5 L1879.3,1585.4 L1880.7,1585.4 L1882.1,1585.4 L1883.5,1585.3 L1884.9,1585.3 L1886.3,1585.2 L1887.7,1585.2 L1889.1,1585.2 L1890.5,1585.1 L1891.9,1585.1 L1893.3,1585.1 L1894.7,1585.1 L1896.1,1585.1 L1897.5,1585.1 L1898.9,1585.1 L1900.3,1585.0 L1901.7,1585.0 L1903.1,1585.0 L1904.5,1585.0 L1905.9,1585.0 L1907.3,1585.0 L1908.7,1585.0 L1910.1,1585.0 L1911.5,1585.0 L1912.9,1585.0 L1914.3,1585.0 L1915.7,1584.9 L1917.1,1584.9 L1918.5,1584.9 L1919.9,1584.9 L1921.3,1584.9 L1922.7,1584.9 L1924.1,1584.9 L1925.5,1584.9 L1926.9,1584.9 L1928.3,1584.9 L1929.7,1584.9 L1931.1,1584.8 L1932.5,1584.8 L1933.9,1584.8 L1935.3,1584.8 L1936.7,1584.8 L1938.1,1584.8 L1939.5,1584.8 L1940.9,1584.8 L1942.3,1584.8 L1943.7,1584.8 L1945.1,1584.8 L1946.5,1584.8 L1947.9,1584.7 L1949.3,1584.7 L1950.6,1584.7 L1952.0,1584.7 L1953.4,1584.7 L1954.8,1584.7 L1956.2,1584.7 L1957.6,1584.7 L1959.0,1584.7 L1960.4,1584.7 L1961.8,1584.7 L1963.2,1584.6 L1964.6,1584.6 L1966.0,1584.6 L1967.4,1584.6 L1968.8,1584.6 L1970.2,1584.6 L1971.6,1584.6 L1973.0,1584.6 L1974.4,1584.6 L1975.8,1584.6 L1977.2,1584.6 L1978.6,1584.5 L1980.0,1584.5 L1981.4,1584.5 L1982.8,1584.5 L1984.2,1584.5 L1985.6,1584.5 L1987.0,1584.5 L1988.4,1584.5 L1989.8,1584.5 L1991.2,1584.5 L1992.6,1584.5 L1994.0,1584.4 L1995.4,1584.4 L1996.8,1584.4 L1998.2,1584.4 L1999.6,1584.4 L2001.0,1584.4 L2002.4,1584.4 L2003.8,1584.4 L2005.2,1584.4 L2006.6,1584.4 L2008.0,1584.4 L2009.4,1584.3 L2010.8,1584.3 L2012.2,1584.3 L2013.6,1584.3 L2015.0,1584.3 L2016.4,1584.3 L2017.8,1584.3 L2019.2,1584.3 L2020.6,1584.3 L2022.0,1584.3 L2023.4,1584.3 L2024.8,1584.2 L2026.2,1584.2 L2027.6,1584.2 L2029.0,1584.2 L2030.4,1584.2 L2031.8,1584.2 L2033.2,1584.2 L2034.6,1584.2 L2036.0,1584.2 L2037.4,1584.2 L2038.8,1584.2 L2040.2,1584.1 L2041.6,1584.1 L2043.0,1584.1 L2044.4,1584.1 L2045.8,1584.1 L2047.2,1584.1 L2048.6,1584.1 L2050.0,1584.1 L2051.4,1584.1 L2052.8,1584.1 L2054.1,1584.1 L2055.5,1584.1 L2056.9,1584.0 L2058.3,1584.0 L2059.7,1584.0 L2061.1,1584.0 L2062.5,1584.0 L2063.9,1584.0 L2065.3,1584.0 L2066.7,1584.0 L2068.1,1584.0 L2069.5,1584.0 L2070.9,1584.0 L2072.3,1583.9 L2073.7,1583.9 L2075.1,1583.9 L2076.5,1583.9 L2077.9,1583.9 L2079.3,1583.9 L2080.7,1583.9 L2082.1,1583.9 L2083.5,1583.9 L2084.9,1583.9 L2086.3,1583.9 L2087.7,1583.8 L2089.1,1583.8 L2090.5,1583.8 L2091.9,1583.8 L2093.3,1583.8 L2094.7,1583.8 L2096.1,1583.8 L2097.5,1583.8 L2098.9,1583.8 L2100.3,1583.8 L2101.7,1583.8 L2103.1,1583.7 L2104.5,1583.7 L2105.9,1583.7 L2107.3,1583.7 L2108.7,1583.7 L2110.1,1583.7 L2111.5,1583.7 L2112.9,1583.7 L2114.3,1583.7 L2115.7,1583.7 L2117.1,1583.7 L2118.5,1583.6 L2119.9,1583.6 L2121.3,1583.6 L2122.7,1583.6 L2124.1,1583.6 L2125.5,1583.6 L2126.9,1583.6 L2128.3,1583.6 L2129.7,1583.6 L2131.1,1583.6 L2132.5,1583.6 L2133.9,1583.5 L2135.3,1583.5 L2136.7,1583.5 L2138.1,1583.5 L2139.5,1583.5 L2140.9,1583.5 L2142.3,1583.5 L2143.7,1583.5 L2145.1,1583.5 L2146.5,1583.5 L2147.9,1583.5 L2149.3,1583.4 L2150.7,1583.4 L2152.1,1583.4 L2153.5,1583.4 L2154.9,1583.4 L2156.2,1583.4 L2157.6,1583.4" fill="none" stroke="url(#botg)" stroke-width="3.3"/>
<polyline points="1180.0,1582.8 1181.4,1582.7 1182.8,1582.7 1184.2,1582.6 1185.6,1582.5 1187.0,1582.4 1188.4,1582.3 1189.8,1582.2 1191.2,1582.2 1192.6,1582.1 1194.0,1582.0 1195.4,1581.9 1196.8,1581.8 1198.2,1581.7 1199.6,1581.6 1201.0,1581.5 1202.4,1581.4 1203.8,1581.3 1205.2,1581.2 1206.6,1581.1 1208.0,1581.0 1209.4,1580.9 1210.8,1580.8 1212.2,1580.7 1213.6,1580.6 1215.0,1580.5 1216.4,1580.4 1217.8,1580.3 1219.2,1580.2 1220.6,1580.1 1222.0,1580.0 1223.4,1579.9 1224.8,1579.8 1226.2,1579.7 1227.6,1579.5 1229.0,1579.4 1230.4,1579.3 1231.7,1579.2 1233.1,1579.1 1234.5,1579.0 1235.9,1578.8 1237.3,1578.7 1238.7,1578.6 1240.1,1578.4 1241.5,1578.3 1242.9,1578.2 1244.3,1578.1 1245.7,1577.9 1247.1,1577.8 1248.5,1577.6 1249.9,1577.5 1251.3,1577.4 1252.7,1577.2 1254.1,1577.1 1255.5,1576.9 1256.9,1576.8 1258.3,1576.6 1259.7,1576.5 1261.1,1576.3 1262.5,1576.2 1263.9,1576.0 1265.3,1575.8 1266.7,1575.7 1268.1,1575.5 1269.5,1575.3 1270.9,1575.2 1272.3,1575.0 1273.7,1574.8 1275.1,1574.6 1276.5,1574.4 1277.9,1574.2 1279.3,1574.1 1280.7,1573.9 1282.1,1573.7 1283.5,1573.5 1284.9,1573.3 1286.3,1573.1 1287.7,1572.8 1289.1,1572.6 1290.5,1572.4 1291.9,1572.2 1293.3,1572.0 1294.7,1571.7 1296.1,1571.5 1297.5,1571.3 1298.9,1571.0 1300.3,1570.8 1301.7,1570.5 1303.1,1570.3 1304.5,1570.0 1305.9,1569.8 1307.3,1569.5 1308.7,1569.2 1310.1,1568.9 1311.5,1568.6 1312.9,1568.3 1314.3,1568.0 1315.7,1567.7 1317.1,1567.4 1318.5,1567.1 1319.9,1566.7 1321.3,1566.4 1322.7,1566.1 1324.1,1565.7 1325.5,1565.3 1326.9,1564.9 1328.3,1564.6 1329.7,1564.2 1331.1,1563.7 1332.5,1563.3 1333.9,1562.9 1335.2,1562.4 1336.6,1562.0 1338.0,1561.5 1339.4,1561.0 1340.8,1560.5 1342.2,1560.0 1343.6,1559.4 1345.0,1558.8 1346.4,1558.3 1347.8,1557.7 1349.2,1557.0 1350.6,1556.4 1352.0,1555.7 1353.4,1555.0 1354.8,1554.3 1356.2,1553.5 1357.6,1552.7 1359.0,1551.9 1360.4,1551.1 1361.8,1550.2 1363.2,1549.3 1364.6,1548.4 1366.0,1547.4 1367.4,1546.4 1368.8,1545.3 1370.2,1544.2 1371.6,1543.1 1373.0,1541.9 1374.4,1540.7 1375.8,1539.4 1377.2,1538.1 1378.6,1536.7 1380.0,1535.3 1381.4,1533.8 1382.8,1532.3 1384.2,1530.7 1385.6,1529.1 1387.0,1527.4 1388.4,1525.7 1389.8,1523.9 1391.2,1522.0 1392.6,1520.1 1394.0,1518.2 1395.4,1516.2 1396.8,1514.1 1398.2,1511.9 1399.6,1509.7 1401.0,1507.5 1402.4,1505.2 1403.8,1502.8 1405.2,1500.4 1406.6,1498.0 1408.0,1495.4 1409.4,1492.9 1410.8,1490.3 1412.2,1487.6 1413.6,1485.0 1415.0,1482.2 1416.4,1479.5 1417.8,1476.7 1419.2,1474.0 1420.6,1471.2 1422.0,1468.4 1423.4,1465.6 1424.8,1462.8 1426.2,1460.0 1427.6,1457.3 1429.0,1454.6 1430.4,1452.0 1431.8,1449.4 1433.2,1446.9 1434.6,1444.5 1436.0,1442.2 1437.3,1440.0 1438.7,1437.9 1440.1,1436.0 1441.5,1434.2 1442.9,1432.5 1444.3,1431.0 1445.7,1429.6 1447.1,1428.4 1448.5,1427.3 1449.9,1426.4 1451.3,1425.7 1452.7,1425.1 1454.1,1424.6 1455.5,1424.3 1456.9,1424.1 1458.3,1424.0 1459.7,1424.1 1461.1,1424.2 1462.5,1424.4 1463.9,1424.7 1465.3,1425.0 1466.7,1425.4 1468.1,1425.7 1469.5,1426.1 1470.9,1426.5 1472.3,1426.9 1473.7,1427.2 1475.1,1427.5 1476.5,1427.8 1477.9,1428.0 1479.3,1428.1 1480.7,1428.1 1482.1,1428.0 1483.5,1427.9 1484.9,1427.6 1486.3,1427.2 1487.7,1426.7 1489.1,1426.1 1490.5,1425.3 1491.9,1424.4 1493.3,1423.4 1494.7,1422.2 1496.1,1420.8 1497.5,1419.3 1498.9,1417.6 1500.3,1415.8 1501.7,1413.8 1503.1,1411.6 1504.5,1409.3 1505.9,1406.8 1507.3,1404.1 1508.7,1401.2 1510.1,1398.1 1511.5,1394.9 1512.9,1391.5 1514.3,1387.9 1515.7,1384.1 1517.1,1380.1 1518.5,1375.9 1519.9,1371.6 1521.3,1367.1 1522.7,1362.3 1524.1,1357.4 1525.5,1352.4 1526.9,1347.1 1528.3,1341.6 1529.7,1336.0 1531.1,1330.2 1532.5,1324.3 1533.9,1318.1 1535.3,1311.9 1536.7,1305.4 1538.1,1298.8 1539.4,1292.1 1540.8,1285.2 1542.2,1278.2 1543.6,1271.1 1545.0,1263.9 1546.4,1256.5 1547.8,1249.1 1549.2,1241.6 1550.6,1234.0 1552.0,1226.4 1553.4,1218.8 1554.8,1211.1 1556.2,1203.5 1557.6,1195.9 1559.0,1188.3 1560.4,1180.8 1561.8,1173.4 1563.2,1166.1 1564.6,1158.9 1566.0,1151.9 1567.4,1145.1 1568.8,1138.5 1570.2,1132.2 1571.6,1126.2 1573.0,1120.5 1574.4,1115.1 1575.8,1110.1 1577.2,1105.4 1578.6,1101.2 1580.0,1097.5 1581.4,1094.2 1582.8,1091.4 1584.2,1089.1 1585.6,1087.4 1587.0,1086.1 1588.4,1085.5 1589.8,1085.3 1591.2,1085.7 1592.6,1086.7 1594.0,1088.2 1595.4,1090.2 1596.8,1092.8 1598.2,1095.8 1599.6,1099.4 1601.0,1103.4 1602.4,1107.9 1603.8,1112.8 1605.2,1118.1 1606.6,1123.7 1608.0,1129.7 1609.4,1136.0 1610.8,1142.6 1612.2,1149.5 1613.6,1156.5 1615.0,1163.8 1616.4,1171.3 1617.8,1178.9 1619.2,1186.6 1620.6,1194.4 1622.0,1202.3 1623.4,1210.2 1624.8,1218.2 1626.2,1226.2 1627.6,1234.2 1629.0,1242.2 1630.4,1250.1 1631.8,1258.0 1633.2,1265.8 1634.6,1273.6 1636.0,1281.3 1637.4,1288.9 1638.8,1296.4 1640.2,1303.7 1641.6,1311.0 1642.9,1318.2 1644.3,1325.2 1645.7,1332.1 1647.1,1338.9 1648.5,1345.5 1649.9,1352.0 1651.3,1358.3 1652.7,1364.6 1654.1,1370.6 1655.5,1376.6 1656.9,1382.3 1658.3,1388.0 1659.7,1393.5 1661.1,1398.8 1662.5,1404.0 1663.9,1409.1 1665.3,1414.0 1666.7,1418.8 1668.1,1423.5 1669.5,1428.0 1670.9,1432.3 1672.3,1436.6 1673.7,1440.7 1675.1,1444.7 1676.5,1448.6 1677.9,1452.3 1679.3,1455.9 1680.7,1459.4 1682.1,1462.8 1683.5,1466.1 1684.9,1469.2 1686.3,1472.3 1687.7,1475.2 1689.1,1478.1 1690.5,1480.8 1691.9,1483.5 1693.3,1486.0 1694.7,1488.5 1696.1,1490.9 1697.5,1493.2 1698.9,1495.4 1700.3,1497.5 1701.7,1499.6 1703.1,1501.5 1704.5,1503.4 1705.9,1505.3 1707.3,1507.0 1708.7,1508.7 1710.1,1510.4 1711.5,1512.0 1712.9,1513.5 1714.3,1515.0 1715.7,1516.4 1717.1,1517.7 1718.5,1519.0 1719.9,1520.3 1721.3,1521.5 1722.7,1522.7 1724.1,1523.8 1725.5,1524.9 1726.9,1526.0 1728.3,1527.0 1729.7,1528.0 1731.1,1528.9 1732.5,1529.8 1733.9,1530.7 1735.3,1531.5 1736.7,1532.4 1738.1,1533.2 1739.5,1533.9 1740.9,1534.7 1742.3,1535.4 1743.7,1536.0 1745.0,1536.7 1746.4,1537.4 1747.8,1538.0 1749.2,1538.6 1750.6,1539.1 1752.0,1539.7 1753.4,1540.2 1754.8,1540.8 1756.2,1541.3 1757.6,1541.8 1759.0,1542.2 1760.4,1542.7 1761.8,1543.1 1763.2,1543.5 1764.6,1543.9 1766.0,1544.3 1767.4,1544.7 1768.8,1545.1 1770.2,1545.4 1771.6,1545.8 1773.0,1546.1 1774.4,1546.4 1775.8,1546.7 1777.2,1547.0 1778.6,1547.3 1780.0,1547.6 1781.4,1547.8 1782.8,1548.1 1784.2,1548.3 1785.6,1548.5 1787.0,1548.7 1788.4,1548.9 1789.8,1549.1 1791.2,1549.3 1792.6,1549.5 1794.0,1549.6 1795.4,1549.8 1796.8,1549.9 1798.2,1550.1 1799.6,1550.2 1801.0,1550.3 1802.4,1550.4 1803.8,1550.5 1805.2,1550.6 1806.6,1550.6 1808.0,1550.7 1809.4,1550.7 1810.8,1550.8 1812.2,1550.8 1813.6,1550.8 1815.0,1550.8 1816.4,1550.8 1817.8,1550.8 1819.2,1550.7 1820.6,1550.7 1822.0,1550.6 1823.4,1550.6 1824.8,1550.5 1826.2,1550.4 1827.6,1550.3 1829.0,1550.2 1830.4,1550.0 1831.8,1549.9 1833.2,1549.7 1834.6,1549.5 1836.0,1549.3 1837.4,1549.1 1838.8,1548.8 1840.2,1548.6 1841.6,1548.3 1843.0,1548.0 1844.4,1547.7 1845.8,1547.3 1847.2,1547.0 1848.5,1546.6 1849.9,1546.1 1851.3,1545.7 1852.7,1545.2 1854.1,1544.7 1855.5,1544.1 1856.9,1543.5 1858.3,1542.9 1859.7,1542.2 1861.1,1541.5 1862.5,1540.8 1863.9,1539.9 1865.3,1539.1 1866.7,1538.2 1868.1,1537.2 1869.5,1536.2 1870.9,1535.1 1872.3,1533.9 1873.7,1532.7 1875.1,1531.4 1876.5,1530.0 1877.9,1528.5 1879.3,1526.9 1880.7,1525.3 1882.1,1523.5 1883.5,1521.7 1884.9,1519.7 1886.3,1517.6 1887.7,1515.5 1889.1,1513.2 1890.5,1510.7 1891.9,1508.2 1893.3,1505.5 1894.7,1502.7 1896.1,1499.8 1897.5,1496.7 1898.9,1493.5 1900.3,1490.1 1901.7,1486.6 1903.1,1482.9 1904.5,1479.1 1905.9,1475.1 1907.3,1471.0 1908.7,1466.8 1910.1,1462.3 1911.5,1457.8 1912.9,1453.1 1914.3,1448.3 1915.7,1443.3 1917.1,1438.3 1918.5,1433.1 1919.9,1427.9 1921.3,1422.6 1922.7,1417.2 1924.1,1411.8 1925.5,1406.4 1926.9,1401.1 1928.3,1395.8 1929.7,1390.6 1931.1,1385.6 1932.5,1380.7 1933.9,1376.1 1935.3,1371.7 1936.7,1367.7 1938.1,1364.0 1939.5,1360.8 1940.9,1358.0 1942.3,1355.7 1943.7,1353.9 1945.1,1352.7 1946.5,1352.0 1947.9,1351.9 1949.3,1352.4 1950.6,1353.5 1952.0,1355.2 1953.4,1357.3 1954.8,1360.0 1956.2,1363.2 1957.6,1366.8 1959.0,1370.8 1960.4,1375.1 1961.8,1379.7 1963.2,1384.6 1964.6,1389.7 1966.0,1394.9 1967.4,1400.3 1968.8,1405.7 1970.2,1411.2 1971.6,1416.7 1973.0,1422.2 1974.4,1427.6 1975.8,1433.0 1977.2,1438.3 1978.6,1443.5 1980.0,1448.6 1981.4,1453.6 1982.8,1458.5 1984.2,1463.2 1985.6,1467.8 1987.0,1472.3 1988.4,1476.6 1989.8,1480.7 1991.2,1484.7 1992.6,1488.6 1994.0,1492.3 1995.4,1495.8 1996.8,1499.2 1998.2,1502.5 1999.6,1505.6 2001.0,1508.6 2002.4,1511.5 2003.8,1514.2 2005.2,1516.8 2006.6,1519.3 2008.0,1521.6 2009.4,1523.9 2010.8,1526.0 2012.2,1528.1 2013.6,1530.0 2015.0,1531.8 2016.4,1533.6 2017.8,1535.2 2019.2,1536.8 2020.6,1538.3 2022.0,1539.7 2023.4,1541.0 2024.8,1542.3 2026.2,1543.5 2027.6,1544.7 2029.0,1545.8 2030.4,1546.8 2031.8,1547.8 2033.2,1548.7 2034.6,1549.6 2036.0,1550.4 2037.4,1551.3 2038.8,1552.0 2040.2,1552.8 2041.6,1553.5 2043.0,1554.1 2044.4,1554.8 2045.8,1555.4 2047.2,1556.0 2048.6,1556.5 2050.0,1557.1 2051.4,1557.6 2052.8,1558.1 2054.1,1558.6 2055.5,1559.0 2056.9,1559.5 2058.3,1559.9 2059.7,1560.3 2061.1,1560.7 2062.5,1561.1 2063.9,1561.4 2065.3,1561.8 2066.7,1562.1 2068.1,1562.5 2069.5,1562.8 2070.9,1563.1 2072.3,1563.4 2073.7,1563.7 2075.1,1564.0 2076.5,1564.3 2077.9,1564.5 2079.3,1564.8 2080.7,1565.0 2082.1,1565.3 2083.5,1565.5 2084.9,1565.8 2086.3,1566.0 2087.7,1566.2 2089.1,1566.4 2090.5,1566.6 2091.9,1566.8 2093.3,1567.0 2094.7,1567.2 2096.1,1567.4 2097.5,1567.6 2098.9,1567.8 2100.3,1567.9 2101.7,1568.1 2103.1,1568.3 2104.5,1568.4 2105.9,1568.6 2107.3,1568.8 2108.7,1568.9 2110.1,1569.0 2111.5,1569.2 2112.9,1569.3 2114.3,1569.5 2115.7,1569.6 2117.1,1569.7 2118.5,1569.9 2119.9,1570.0 2121.3,1570.1 2122.7,1570.2 2124.1,1570.3 2125.5,1570.4 2126.9,1570.6 2128.3,1570.7 2129.7,1570.8 2131.1,1570.9 2132.5,1571.0 2133.9,1571.1 2135.3,1571.2 2136.7,1571.3 2138.1,1571.4 2139.5,1571.4 2140.9,1571.5 2142.3,1571.6 2143.7,1571.7 2145.1,1571.8 2146.5,1571.9 2147.9,1572.0 2149.3,1572.0 2150.7,1572.1 2152.1,1572.2 2153.5,1572.3 2154.9,1572.3 2156.2,1572.4 2157.6,1572.5" fill="none" stroke="#ff0000" stroke-width="3.2" stroke-linejoin="round" stroke-linecap="round" />
</g>
<rect x="1180.8" y="923.5" width="976.0000000000002" height="698.2" fill="none" stroke="#202020" stroke-width="4.6"/>
<line x1="1214.4" y1="1621.7" x2="1214.4" y2="1643.7" stroke="#202020" stroke-width="4.2"/>
<line x1="1352.0" y1="1621.7" x2="1352.0" y2="1643.7" stroke="#202020" stroke-width="4.2"/>
<line x1="1489.6" y1="1621.7" x2="1489.6" y2="1643.7" stroke="#202020" stroke-width="4.2"/>
<line x1="1627.2" y1="1621.7" x2="1627.2" y2="1643.7" stroke="#202020" stroke-width="4.2"/>
<line x1="1764.8" y1="1621.7" x2="1764.8" y2="1643.7" stroke="#202020" stroke-width="4.2"/>
<line x1="1902.4" y1="1621.7" x2="1902.4" y2="1643.7" stroke="#202020" stroke-width="4.2"/>
<line x1="2040.0" y1="1621.7" x2="2040.0" y2="1643.7" stroke="#202020" stroke-width="4.2"/>
<line x1="1283.2" y1="1621.7" x2="1283.2" y2="1633.2" stroke="#202020" stroke-width="4.2"/>
<line x1="1420.8" y1="1621.7" x2="1420.8" y2="1633.2" stroke="#202020" stroke-width="4.2"/>
<line x1="1558.4" y1="1621.7" x2="1558.4" y2="1633.2" stroke="#202020" stroke-width="4.2"/>
<line x1="1696.0" y1="1621.7" x2="1696.0" y2="1633.2" stroke="#202020" stroke-width="4.2"/>
<line x1="1833.6" y1="1621.7" x2="1833.6" y2="1633.2" stroke="#202020" stroke-width="4.2"/>
<line x1="1971.2" y1="1621.7" x2="1971.2" y2="1633.2" stroke="#202020" stroke-width="4.2"/>
<line x1="2108.8" y1="1621.7" x2="2108.8" y2="1633.2" stroke="#202020" stroke-width="4.2"/>
<text x="1214.4" y="1679.5" font-family="'Liberation Serif','Times New Roman',serif" font-size="34" font-weight="normal" text-anchor="middle" fill="#1c1c1c" >396</text>
<text x="1352.0" y="1679.5" font-family="'Liberation Serif','Times New Roman',serif" font-size="34" font-weight="normal" text-anchor="middle" fill="#1c1c1c" >398</text>
<text x="1489.6" y="1679.5" font-family="'Liberation Serif','Times New Roman',serif" font-size="34" font-weight="normal" text-anchor="middle" fill="#1c1c1c" >400</text>
<text x="1627.2" y="1679.5" font-family="'Liberation Serif','Times New Roman',serif" font-size="34" font-weight="normal" text-anchor="middle" fill="#1c1c1c" >402</text>
<text x="1764.8" y="1679.5" font-family="'Liberation Serif','Times New Roman',serif" font-size="34" font-weight="normal" text-anchor="middle" fill="#1c1c1c" >404</text>
<text x="1902.4" y="1679.5" font-family="'Liberation Serif','Times New Roman',serif" font-size="34" font-weight="normal" text-anchor="middle" fill="#1c1c1c" >406</text>
<text x="2040.0" y="1679.5" font-family="'Liberation Serif','Times New Roman',serif" font-size="34" font-weight="normal" text-anchor="middle" fill="#1c1c1c" >408</text>
<text x="1668.6" y="1722.6" font-family="'Liberation Serif','Times New Roman',serif" font-size="48" font-weight="normal" text-anchor="middle" fill="#1c1c1c" >Binding energy (eV)</text>
<text transform="translate(1167.9,1260.4) rotate(-90)" font-family="'Liberation Serif','Times New Roman',serif" font-size="48" text-anchor="middle" fill="#1c1c1c">Intensity (a.u.)</text>
<text x="1118.2" y="937.2" font-family="'Liberation Serif','Times New Roman',serif" font-size="95" font-weight="bold" text-anchor="start" fill="#000" >d</text>
<text x="2143.8" y="966.6" font-family="'Liberation Serif','Times New Roman',serif" font-size="48" font-weight="normal" text-anchor="end" fill="#1c1c1c" >N 1s</text>
<text x="1589.0" y="962.8" font-family="'Liberation Serif','Times New Roman',serif" font-size="37.5" font-weight="normal" text-anchor="middle" fill="#1c1c1c" >N-C</text>
<text x="1589.6" y="997.6" font-family="'Liberation Serif','Times New Roman',serif" font-size="37.5" font-weight="normal" text-anchor="middle" fill="#1c1c1c" >401.45 eV</text>
<text x="1365.7" y="1339.2" font-family="'Liberation Serif','Times New Roman',serif" font-size="37.5" font-weight="normal" text-anchor="middle" fill="#1c1c1c" >N-H</text>
<text x="1370.0" y="1375.1" font-family="'Liberation Serif','Times New Roman',serif" font-size="37.5" font-weight="normal" text-anchor="middle" fill="#1c1c1c" >399.40 eV</text>
<text x="2001" y="1230.4" font-family="'Liberation Serif','Times New Roman',serif" font-size="37.5" fill="#1c1c1c">-NO<tspan font-size="21" dy="13">3</tspan><tspan font-size="21" dy="-31">-</tspan></text>
<text x="2038.5" y="1274.4" font-family="'Liberation Serif','Times New Roman',serif" font-size="37.5" font-weight="normal" text-anchor="middle" fill="#1c1c1c" >406.67 eV</text>
<line x1="1590.2" y1="1094.0" x2="1590.2" y2="1028.4" stroke="#111" stroke-width="2.2"/>
<polygon points="1590.2,1008.4 1596.2,1030.4 1584.2,1030.4" fill="#000"/>
<line x1="1441.3" y1="1483.5" x2="1406.9" y2="1400.4" stroke="#1a1a1a" stroke-width="1.9"/>
<polygon points="1400.4,1384.7 1412.3,1400.3 1403.0,1404.2" fill="#000"/>
<line x1="1955.9" y1="1353.0" x2="1993.9" y2="1300.9" stroke="#1a1a1a" stroke-width="1.9"/>
<polygon points="2003.9,1287.2 1996.7,1305.5 1988.7,1299.6" fill="#000"/>
</g>
<defs><filter id="soft" x="0" y="0" width="100%" height="100%" filterUnits="userSpaceOnUse"><feGaussianBlur stdDeviation="0.85"/></filter></defs>
</svg></body></html>
